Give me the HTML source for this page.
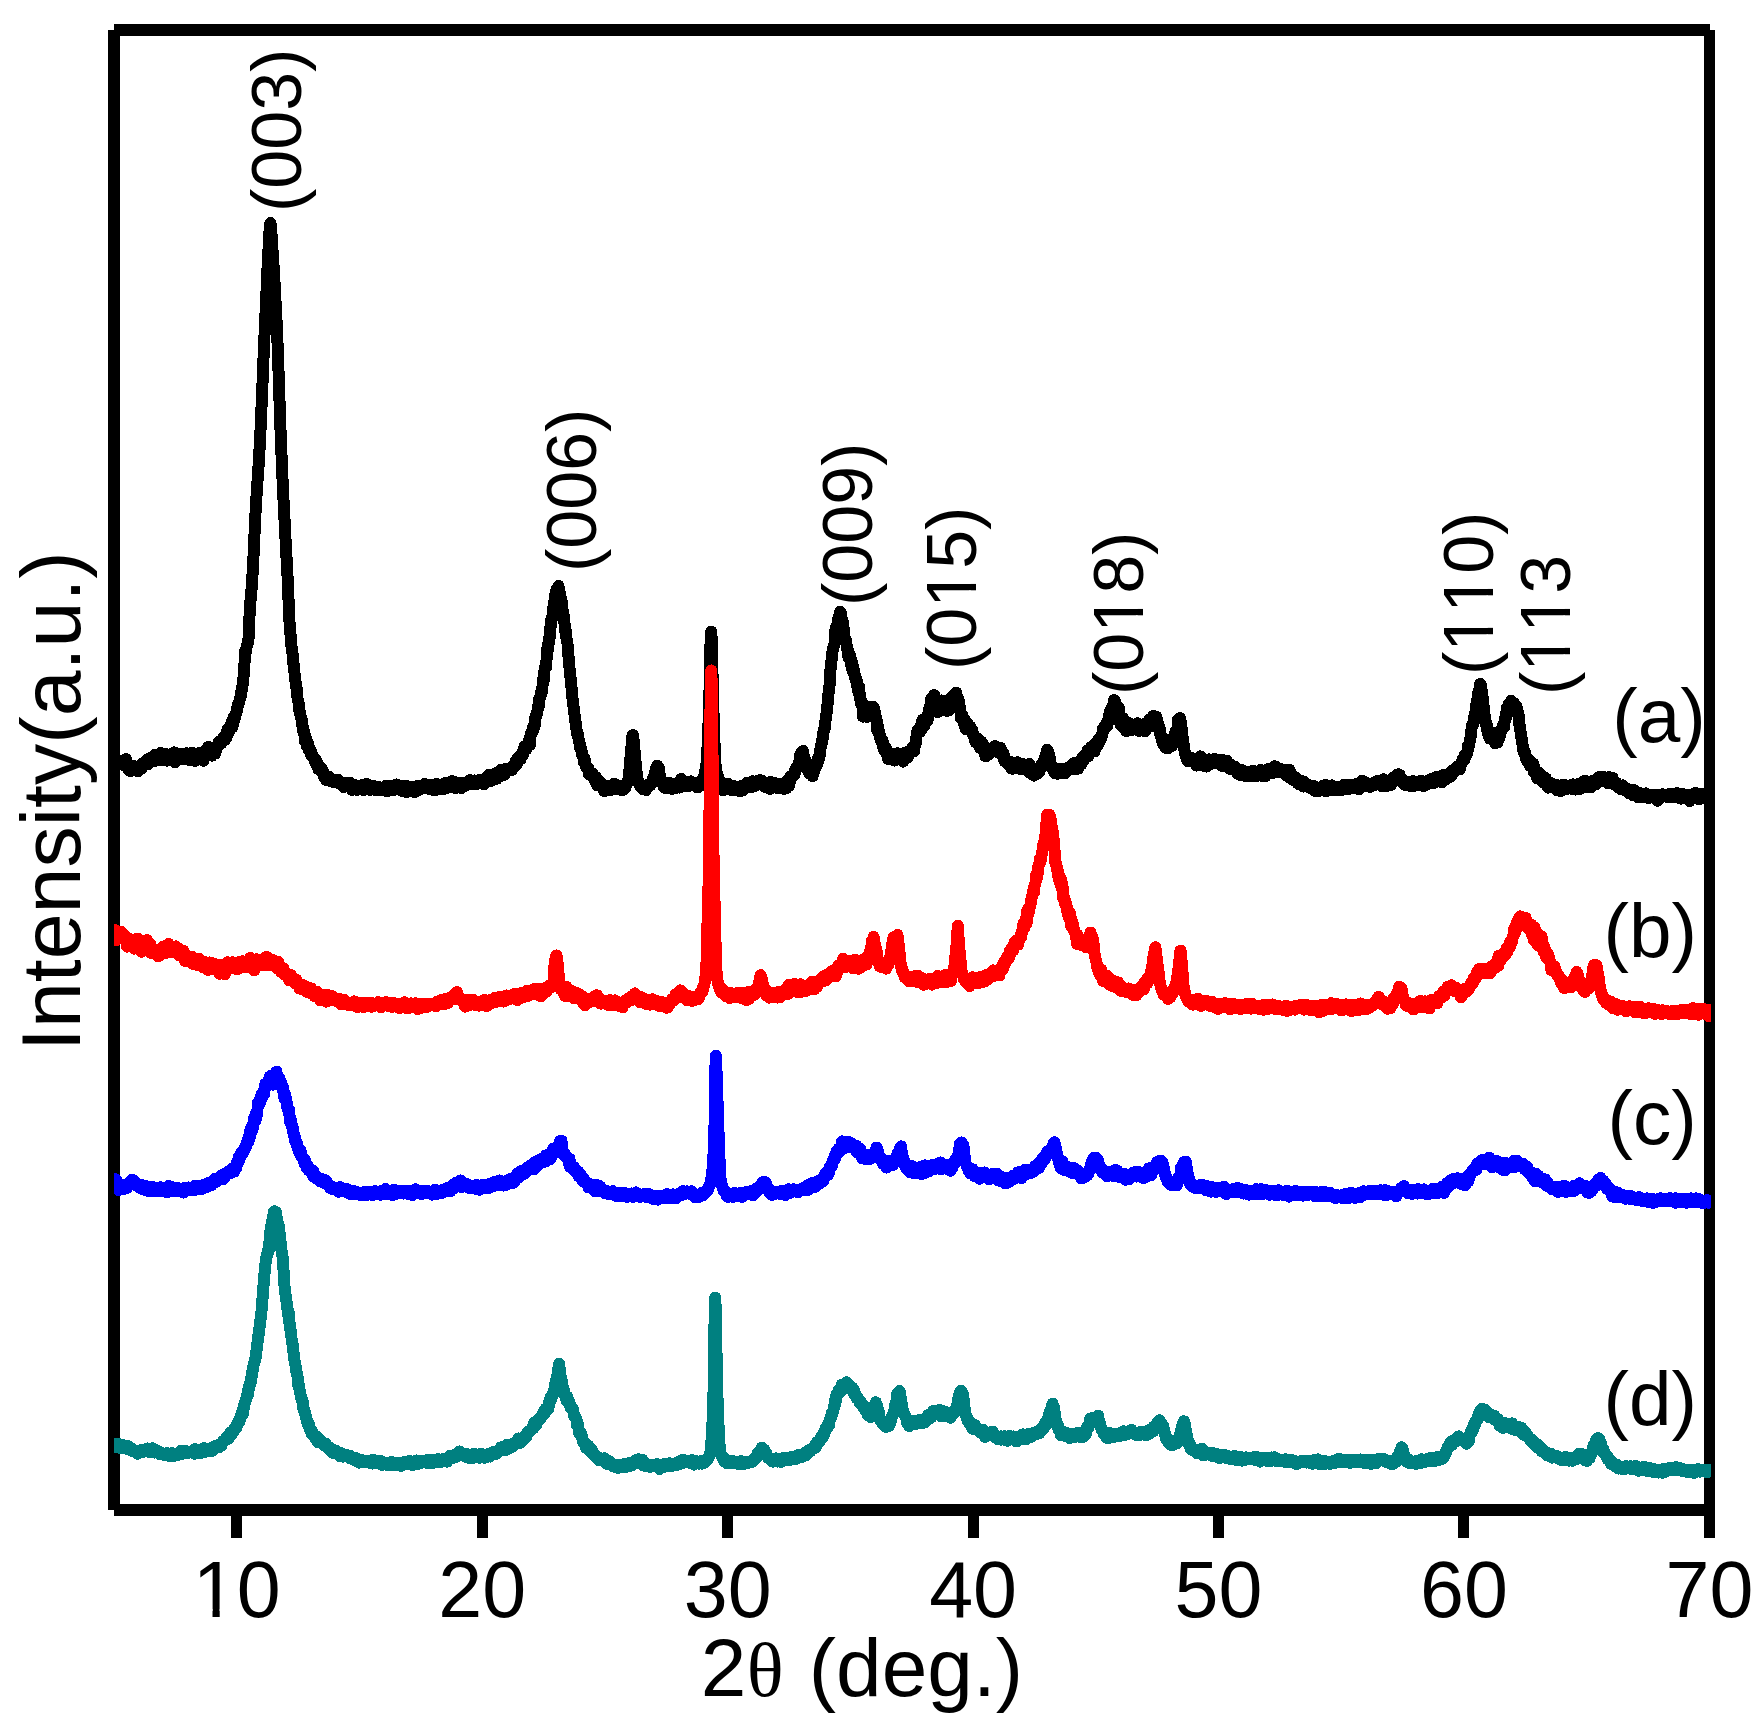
<!DOCTYPE html>
<html><head><meta charset="utf-8"><title>XRD patterns</title>
<style>
html,body{margin:0;padding:0;background:#fff}
body{width:1763px;height:1736px;overflow:hidden}
svg{display:block}
text{font-family:"Liberation Sans",sans-serif;fill:#000;font-kerning:none}
.tk{font-size:79px;text-anchor:middle}
.pk{font-size:70px}
.lb{font-size:76.5px}
.sym{font-family:"Liberation Serif",serif}
</style></head><body>
<svg width="1763" height="1736" viewBox="0 0 1763 1736">
<rect width="1763" height="1736" fill="#fff"/>

<g fill="#000" shape-rendering="crispEdges">
<rect x="108" y="30" width="12" height="1480"/>
<rect x="114" y="24" width="1596" height="12"/>
<rect x="1704" y="30" width="11" height="1480"/>
<rect x="114" y="1504" width="1596" height="12"/>
<rect x="231" y="1510" width="11" height="28"/>
<rect x="477" y="1510" width="11" height="28"/>
<rect x="722" y="1510" width="11" height="28"/>
<rect x="968" y="1510" width="11" height="28"/>
<rect x="1213" y="1510" width="11" height="28"/>
<rect x="1458" y="1510" width="11" height="28"/>
<rect x="1704" y="1510" width="11" height="28"/>
</g>
<defs><clipPath id="plot"><rect x="114" y="36" width="1597" height="1468"/></clipPath></defs>
<defs><polyline id="c0" points="114.0,763.2 114.5,763.9 115.0,762.9 115.5,760.0 116.0,764.5 116.5,763.9 117.0,762.2 117.5,764.1 118.0,763.4 118.5,763.0 119.0,762.4 119.5,763.3 120.0,760.8 120.5,761.8 121.0,761.2 121.5,763.2 122.0,762.3 122.5,761.7 123.0,760.8 123.5,762.0 124.0,762.9 124.5,762.8 125.0,766.1 125.5,765.8 126.0,759.2 126.5,760.8 127.0,764.1 127.5,764.1 128.0,765.8 128.5,766.5 129.0,770.5 129.5,765.1 130.0,766.6 130.5,771.2 131.0,769.2 131.5,769.7 132.0,767.8 132.5,765.6 133.0,768.3 133.5,767.9 134.0,765.8 134.5,767.4 135.0,769.1 135.5,767.9 136.0,769.5 136.5,769.9 137.0,770.1 137.4,769.4 137.5,771.2 138.0,771.3 138.5,769.6 139.0,767.1 139.5,769.3 140.0,767.0 140.5,769.1 141.0,765.3 141.5,768.2 142.0,765.9 142.5,763.3 143.0,764.6 143.5,765.0 144.0,764.9 144.5,762.1 145.0,761.4 145.5,763.6 146.0,762.3 146.5,763.4 147.0,764.1 147.5,759.2 148.0,762.4 148.5,763.9 149.0,760.8 149.5,759.4 150.0,761.9 150.5,760.7 151.0,761.8 151.5,759.5 152.0,757.3 152.5,759.6 153.0,758.4 153.5,760.0 154.0,758.4 154.5,755.0 155.0,756.3 155.5,760.8 156.0,760.6 156.5,757.8 157.0,758.6 157.4,759.1 157.5,759.0 158.0,759.8 158.5,758.7 159.0,758.0 159.5,757.5 160.0,759.7 160.5,753.0 161.0,756.9 161.5,757.5 162.0,755.1 162.5,759.0 163.0,757.2 163.5,759.9 164.0,757.5 164.5,758.6 165.0,759.4 165.5,757.7 166.0,755.5 166.5,754.4 167.0,760.7 167.5,756.9 168.0,755.5 168.5,757.1 169.0,756.7 169.5,759.0 170.0,757.4 170.5,757.1 171.0,755.3 171.5,757.8 172.0,755.2 172.5,758.8 173.0,760.5 173.5,754.3 174.0,752.4 174.5,758.4 174.9,762.3 175.0,755.4 175.5,754.7 176.0,758.1 176.5,755.2 177.0,755.8 177.5,755.9 178.0,757.3 178.5,755.2 179.0,756.2 179.5,755.1 180.0,753.6 180.5,754.6 181.0,753.6 181.5,755.9 182.0,754.0 182.5,754.4 183.0,759.5 183.5,756.6 184.0,756.7 184.5,757.8 185.0,755.7 185.5,755.6 186.0,756.4 186.5,755.8 187.0,753.3 187.5,757.9 188.0,755.9 188.5,755.6 189.0,756.0 189.5,756.7 190.0,760.2 190.5,754.4 191.0,757.1 191.5,752.7 192.0,756.8 192.5,758.4 193.0,756.0 193.5,755.1 194.0,756.9 194.5,758.1 194.8,758.2 195.0,760.9 195.5,757.8 196.0,756.4 196.5,757.4 197.0,757.5 197.5,757.6 198.0,757.0 198.5,757.0 199.0,753.1 199.5,757.7 200.0,755.0 200.5,753.8 201.0,757.4 201.5,758.6 202.0,756.6 202.5,755.7 203.0,753.4 203.5,760.8 204.0,756.6 204.5,752.3 205.0,752.5 205.5,753.8 206.0,750.2 206.5,753.5 207.0,752.2 207.3,755.6 207.5,754.9 208.0,747.0 208.5,752.2 209.0,748.8 209.5,754.2 210.0,752.0 210.5,752.4 211.0,748.9 211.5,755.0 212.0,755.7 212.5,749.4 213.0,752.0 213.5,749.2 214.0,750.1 214.5,747.3 215.0,753.7 215.5,747.6 216.0,748.6 216.5,749.5 217.0,746.0 217.5,745.7 218.0,744.0 218.5,744.2 219.0,741.6 219.5,742.9 219.8,743.2 220.0,742.5 220.5,742.6 221.0,741.2 221.5,743.1 222.0,740.4 222.5,740.4 223.0,738.7 223.5,738.4 224.0,736.5 224.5,740.2 225.0,736.3 225.5,736.6 226.0,738.2 226.5,737.2 227.0,734.3 227.5,729.5 228.0,733.7 228.5,732.3 229.0,727.4 229.5,731.0 229.8,727.0 230.0,725.7 230.5,727.9 231.0,726.6 231.5,726.4 232.0,720.9 232.5,727.0 233.0,720.3 233.5,717.1 234.0,721.0 234.5,717.7 235.0,718.0 235.5,715.0 236.0,713.9 236.5,712.7 237.0,708.6 237.3,710.4 237.5,707.0 238.0,704.2 238.5,704.2 239.0,703.1 239.5,700.3 240.0,697.9 240.5,698.0 241.0,693.0 241.5,691.4 242.0,689.8 242.3,686.1 242.5,686.3 243.0,681.7 243.5,677.4 244.0,669.0 244.5,663.1 245.0,658.5 245.5,649.7 246.0,651.5 246.5,647.2 247.0,645.6 247.5,644.9 248.0,642.4 248.4,639.0 248.5,639.4 249.0,629.6 249.5,616.1 249.7,612.2 250.0,608.0 250.5,600.5 251.0,595.6 251.5,589.6 252.0,582.5 252.2,578.9 252.5,574.7 253.0,565.0 253.5,556.2 254.0,545.0 254.5,534.6 255.0,523.5 255.5,513.5 256.0,503.6 256.5,496.4 257.0,489.6 257.5,481.0 258.0,473.7 258.5,466.6 259.0,458.4 259.3,453.1 259.5,449.8 260.0,439.8 260.5,430.2 261.0,418.3 261.5,407.1 262.0,395.8 262.5,383.1 263.0,372.0 263.5,358.8 264.0,346.7 264.5,335.4 264.9,326.6 265.0,323.6 265.5,313.0 266.0,300.5 266.5,290.9 267.0,279.1 267.5,268.3 268.0,258.4 268.5,250.0 269.0,241.2 269.5,231.8 270.0,225.2 270.5,223.1 271.0,225.8 271.5,234.0 272.0,242.9 272.5,250.2 273.0,258.1 273.5,264.6 274.0,273.9 274.5,282.0 275.0,291.1 275.5,300.9 276.0,309.1 276.5,320.3 276.8,326.2 277.0,331.4 277.5,342.8 278.0,356.4 278.5,370.9 279.0,385.9 279.5,400.7 280.0,415.3 280.5,429.8 281.0,443.8 281.4,453.4 281.5,455.1 282.0,467.7 282.5,478.8 283.0,489.7 283.5,499.6 284.0,510.4 284.5,519.4 285.0,530.1 285.5,538.7 286.0,548.3 286.5,557.4 287.0,565.7 287.5,575.9 287.7,580.0 288.0,587.4 288.5,599.4 289.0,610.7 289.5,622.0 289.7,625.4 290.0,630.2 290.5,634.5 291.0,640.5 291.5,646.2 292.0,649.3 292.5,653.4 293.0,659.4 293.4,663.9 293.5,662.8 294.0,669.0 294.5,672.6 295.0,679.0 295.5,680.7 296.0,686.4 296.5,687.6 297.0,692.6 297.2,694.2 297.5,698.2 298.0,700.8 298.5,702.2 299.0,707.9 299.5,711.4 300.0,712.8 300.5,715.3 301.0,718.0 301.5,718.1 302.0,724.0 302.1,724.9 302.5,725.2 303.0,730.6 303.5,729.2 304.0,733.0 304.5,735.2 305.0,741.6 305.5,736.5 306.0,741.7 306.5,743.8 307.0,744.4 307.1,746.6 307.5,744.0 308.0,743.1 308.5,749.9 309.0,747.1 309.5,749.5 310.0,748.6 310.5,753.8 311.0,754.4 311.5,752.4 312.0,756.5 312.5,756.0 313.0,756.4 313.5,757.7 314.0,758.0 314.5,760.4 314.6,760.0 315.0,759.3 315.5,762.6 316.0,760.4 316.5,762.8 317.0,764.1 317.5,767.1 318.0,764.6 318.5,769.4 319.0,767.2 319.5,767.0 320.0,766.8 320.5,769.8 321.0,769.9 321.5,768.8 322.0,769.4 322.5,771.1 323.0,771.7 323.5,775.5 324.0,776.8 324.5,776.6 324.6,776.0 325.0,775.3 325.5,776.6 326.0,778.3 326.5,780.3 327.0,778.2 327.5,776.3 328.0,777.1 328.5,776.7 329.0,776.5 329.5,777.6 330.0,778.4 330.5,781.2 331.0,778.7 331.5,780.8 332.0,781.5 332.5,779.2 333.0,782.1 333.5,781.5 334.0,780.4 334.5,781.8 335.0,781.5 335.5,781.1 336.0,781.1 336.5,781.6 337.0,782.3 337.1,780.4 337.5,782.0 338.0,779.9 338.5,782.7 339.0,783.4 339.5,782.9 340.0,783.5 340.5,784.3 341.0,782.7 341.5,783.4 342.0,784.2 342.5,784.7 343.0,783.7 343.5,787.0 344.0,783.5 344.5,785.4 345.0,786.0 345.5,784.1 346.0,783.3 346.5,782.8 347.0,784.6 347.5,785.7 348.0,784.4 348.5,784.3 349.0,783.9 349.5,785.8 350.0,782.7 350.5,786.6 351.0,786.7 351.5,785.0 352.0,790.0 352.5,784.9 353.0,785.3 353.5,785.1 354.0,788.4 354.5,785.8 355.0,788.1 355.5,788.0 356.0,787.6 356.5,785.5 357.0,786.6 357.5,789.9 358.0,786.0 358.5,786.6 359.0,787.4 359.5,788.6 360.0,787.7 360.5,788.3 361.0,785.8 361.5,788.6 362.0,788.0 362.5,785.0 363.0,789.3 363.5,790.2 364.0,785.9 364.5,786.9 365.0,788.7 365.5,784.7 366.0,783.9 366.5,784.9 367.0,785.7 367.5,785.5 368.0,787.2 368.5,786.9 369.0,785.1 369.5,787.9 370.0,789.9 370.5,789.0 371.0,788.6 371.5,787.1 372.0,788.3 372.5,785.7 373.0,788.1 373.5,787.3 374.0,789.4 374.5,789.0 375.0,787.3 375.5,789.1 376.0,790.5 376.5,787.1 377.0,787.8 377.5,787.5 378.0,786.6 378.5,789.9 379.0,790.3 379.5,789.6 380.0,788.9 380.5,788.5 381.0,789.0 381.5,787.7 382.0,790.1 382.5,790.2 383.0,789.9 383.5,787.5 384.0,787.8 384.5,787.2 385.0,789.9 385.5,788.0 386.0,785.7 386.5,789.2 387.0,791.5 387.5,790.0 388.0,790.2 388.5,788.9 389.0,786.0 389.5,786.3 390.0,787.2 390.5,788.9 391.0,789.5 391.5,790.0 392.0,788.5 392.5,790.2 393.0,788.5 393.5,787.9 394.0,789.9 394.5,787.5 395.0,785.0 395.5,787.3 396.0,788.8 396.5,784.5 397.0,788.2 397.5,788.4 398.0,787.0 398.5,787.0 399.0,788.2 399.5,787.8 400.0,789.8 400.5,788.4 401.0,785.7 401.5,786.8 402.0,789.2 402.5,790.9 403.0,788.6 403.5,788.1 404.0,789.8 404.5,787.3 405.0,787.3 405.5,786.4 406.0,788.1 406.5,792.0 407.0,787.0 407.5,788.6 408.0,786.4 408.5,788.1 409.0,789.0 409.5,787.6 410.0,789.1 410.5,789.3 411.0,788.9 411.5,790.5 412.0,789.0 412.5,787.4 413.0,786.9 413.5,786.9 414.0,788.9 414.5,788.0 415.0,792.2 415.5,791.1 416.0,788.3 416.5,788.1 417.0,790.7 417.5,785.7 418.0,787.4 418.5,789.1 419.0,786.5 419.5,787.2 420.0,787.4 420.5,788.9 421.0,788.1 421.5,788.2 422.0,788.1 422.5,786.8 423.0,787.9 423.5,785.3 424.0,784.4 424.5,784.1 425.0,784.5 425.5,786.2 426.0,788.5 426.5,787.6 427.0,786.8 427.5,786.3 428.0,787.1 428.5,787.2 429.0,786.9 429.5,785.8 430.0,787.4 430.5,789.5 431.0,784.9 431.5,787.3 432.0,784.5 432.5,787.9 433.0,787.1 433.5,785.6 434.0,788.5 434.5,790.4 435.0,787.6 435.5,788.8 436.0,787.0 436.5,784.0 436.9,787.6 437.0,786.5 437.5,785.4 438.0,788.9 438.5,788.5 439.0,787.1 439.5,788.4 440.0,785.4 440.5,787.2 441.0,785.0 441.5,787.2 442.0,785.2 442.5,788.9 443.0,787.3 443.5,788.9 444.0,785.6 444.5,786.0 445.0,787.9 445.5,782.9 446.0,785.2 446.5,788.1 447.0,787.2 447.5,787.8 448.0,786.0 448.5,787.3 449.0,785.7 449.5,784.8 450.0,784.3 450.5,785.7 451.0,785.5 451.5,785.3 452.0,781.1 452.5,783.1 453.0,784.8 453.5,785.8 454.0,784.5 454.5,784.1 455.0,782.1 455.5,788.2 456.0,783.6 456.5,787.4 457.0,787.2 457.5,785.5 458.0,784.2 458.5,785.1 459.0,783.0 459.5,784.9 460.0,784.8 460.5,786.0 461.0,786.8 461.5,788.0 461.9,784.6 462.0,786.3 462.5,783.3 463.0,783.0 463.5,783.3 464.0,782.6 464.5,785.4 465.0,785.3 465.5,785.7 466.0,783.8 466.5,784.2 467.0,782.8 467.5,781.8 468.0,783.9 468.5,783.4 469.0,781.1 469.5,783.4 470.0,780.0 470.5,782.4 471.0,782.0 471.5,782.3 472.0,781.4 472.5,784.3 473.0,783.4 473.5,784.1 474.0,782.5 474.5,780.5 475.0,781.9 475.5,780.8 476.0,783.2 476.5,784.3 477.0,783.0 477.5,781.6 478.0,781.9 478.5,782.7 479.0,780.0 479.5,782.3 480.0,782.1 480.5,780.8 481.0,780.8 481.5,781.7 482.0,780.3 482.5,780.3 483.0,782.8 483.5,782.0 484.0,784.2 484.5,780.0 485.0,778.3 485.5,782.0 486.0,781.7 486.5,778.9 486.8,777.8 487.0,779.8 487.5,776.7 488.0,778.4 488.5,775.1 489.0,778.1 489.5,775.4 490.0,778.4 490.5,781.1 491.0,777.8 491.5,779.0 492.0,776.3 492.5,775.5 493.0,774.4 493.5,778.2 494.0,776.2 494.5,778.6 495.0,773.8 495.5,775.2 496.0,775.7 496.5,778.0 497.0,778.7 497.5,774.4 498.0,773.1 498.5,771.7 499.0,776.7 499.5,774.6 500.0,773.7 500.5,774.4 501.0,769.7 501.5,770.6 502.0,774.8 502.5,773.7 503.0,773.2 503.5,771.1 504.0,773.4 504.5,774.8 505.0,769.1 505.5,770.9 506.0,769.9 506.5,771.3 507.0,770.7 507.5,770.3 508.0,768.9 508.5,770.3 509.0,769.0 509.5,769.5 510.0,769.3 510.5,770.3 511.0,767.9 511.5,768.1 512.0,770.0 512.5,767.0 513.0,766.2 513.5,767.7 514.0,766.1 514.5,765.3 515.0,764.9 515.5,761.5 516.0,763.9 516.5,764.9 517.0,763.0 517.5,758.5 518.0,761.4 518.5,758.4 519.0,759.0 519.5,759.0 520.0,755.5 520.5,759.3 521.0,755.5 521.5,756.1 522.0,754.9 522.5,755.6 523.0,754.7 523.5,749.1 524.0,751.6 524.5,746.6 525.0,748.9 525.5,749.9 526.0,749.1 526.5,749.0 527.0,745.1 527.5,746.0 528.0,744.7 528.5,745.7 529.0,744.4 529.5,738.2 530.0,744.7 530.5,735.2 531.0,733.0 531.5,733.6 532.0,732.5 532.5,730.6 533.0,726.7 533.5,729.7 534.0,725.2 534.5,726.4 534.9,724.4 535.0,718.3 535.5,716.9 536.0,715.0 536.5,715.5 537.0,713.1 537.5,711.2 538.0,706.4 538.5,706.4 539.0,706.0 539.5,697.9 540.0,698.0 540.5,696.6 541.0,693.2 541.5,690.3 542.0,691.5 542.4,687.9 542.5,686.0 543.0,679.4 543.5,682.4 544.0,675.5 544.5,670.7 545.0,668.5 545.5,665.3 546.0,667.4 546.5,660.1 547.0,656.0 547.5,647.6 548.0,649.9 548.2,644.8 548.5,642.7 549.0,642.7 549.5,635.8 549.8,637.1 550.0,636.2 550.5,626.1 551.0,625.9 551.5,618.8 552.0,618.5 552.5,617.2 553.0,608.8 553.2,615.1 553.5,608.2 554.0,602.8 554.5,602.2 555.0,601.5 555.5,593.5 556.0,594.9 556.5,589.6 557.0,594.6 557.5,590.6 558.0,588.1 558.3,591.3 558.5,586.1 559.0,589.0 559.5,595.8 560.0,593.7 560.5,599.0 561.0,598.8 561.5,600.2 562.0,605.0 562.5,609.8 562.8,610.8 563.0,611.1 563.5,614.6 564.0,616.7 564.5,623.7 565.0,628.0 565.5,632.0 566.0,631.2 566.5,638.8 567.0,641.4 567.5,643.5 567.6,646.9 568.0,651.8 568.5,656.4 569.0,662.0 569.5,667.8 570.0,673.4 570.5,677.8 571.0,680.5 571.5,687.5 572.0,693.7 572.4,696.2 572.5,698.5 573.0,703.0 573.5,706.5 574.0,713.0 574.5,713.6 575.0,720.0 575.5,721.8 576.0,724.8 576.5,729.9 577.0,731.0 577.4,735.0 577.5,732.5 578.0,736.7 578.5,737.9 579.0,741.2 579.5,743.2 580.0,744.1 580.5,749.2 581.0,747.9 581.5,750.0 582.0,754.7 582.5,756.1 583.0,756.9 583.5,757.8 584.0,762.6 584.5,758.3 584.9,760.5 585.0,760.6 585.5,765.3 586.0,765.4 586.5,767.8 587.0,768.5 587.5,767.6 588.0,767.6 588.5,768.4 589.0,774.6 589.5,773.5 590.0,773.9 590.5,773.5 591.0,774.9 591.5,775.7 592.0,776.3 592.5,773.4 593.0,777.3 593.5,777.1 594.0,778.6 594.5,779.1 594.8,780.6 595.0,779.7 595.5,781.7 596.0,777.3 596.5,780.3 597.0,785.2 597.5,781.2 598.0,782.8 598.5,784.4 599.0,782.2 599.5,784.8 600.0,782.2 600.5,782.0 601.0,783.3 601.5,783.3 602.0,786.2 602.5,786.3 603.0,787.7 603.5,786.0 604.0,791.0 604.5,787.2 605.0,787.1 605.5,787.8 606.0,786.9 606.5,786.5 607.0,787.6 607.3,788.7 607.5,788.3 608.0,788.5 608.5,786.3 609.0,786.1 609.5,790.0 610.0,787.2 610.5,788.5 611.0,788.9 611.5,789.8 612.0,785.7 612.5,786.6 613.0,786.5 613.5,786.6 614.0,783.9 614.5,787.5 615.0,784.1 615.5,788.7 616.0,788.9 616.5,788.8 617.0,786.2 617.5,789.4 618.0,787.3 618.5,787.1 619.0,787.6 619.5,787.7 620.0,788.9 620.5,789.8 621.0,785.9 621.5,788.0 622.0,790.0 622.3,789.1 622.5,789.5 623.0,786.7 623.5,789.6 624.0,785.6 624.5,787.2 625.0,787.9 625.5,787.7 626.0,785.5 626.5,784.9 627.0,783.0 627.5,781.9 628.0,781.5 628.3,779.6 628.5,778.5 629.0,773.7 629.5,769.3 630.0,763.8 630.5,757.2 630.6,756.6 631.0,754.1 631.5,746.8 632.0,740.6 632.5,735.7 632.9,735.1 633.0,735.6 633.5,739.6 634.0,742.7 634.5,750.9 635.0,754.4 635.2,756.9 635.5,760.9 636.0,765.8 636.5,771.1 637.0,776.4 637.5,779.8 638.0,780.3 638.5,782.8 639.0,784.1 639.5,784.8 640.0,786.1 640.5,785.5 641.0,786.0 641.5,786.9 642.0,788.0 642.5,786.9 643.0,789.3 643.5,786.1 644.0,789.1 644.5,786.1 645.0,786.9 645.5,787.7 646.0,790.1 646.5,788.4 647.0,786.2 647.5,788.0 648.0,785.4 648.5,784.3 649.0,785.7 649.5,784.9 650.0,785.7 650.5,783.1 651.0,783.7 651.5,783.4 652.0,782.0 652.5,780.4 653.0,778.2 653.5,779.1 654.0,776.6 654.5,775.3 655.0,772.3 655.5,771.2 656.0,767.8 656.5,767.5 657.0,767.0 657.2,765.6 657.5,766.8 658.0,767.2 658.5,770.7 658.9,770.1 659.0,768.7 659.5,773.7 660.0,775.6 660.5,777.2 661.0,781.1 661.5,781.8 662.0,783.0 662.5,782.9 663.0,784.4 663.5,785.2 664.0,787.6 664.5,784.8 665.0,785.7 665.5,786.1 666.0,783.2 666.5,783.3 667.0,788.5 667.5,782.7 668.0,786.1 668.5,784.2 669.0,784.5 669.5,782.8 670.0,784.4 670.5,787.0 671.0,784.1 671.5,787.2 672.0,786.7 672.2,788.8 672.5,784.9 673.0,787.2 673.5,786.7 674.0,785.4 674.5,783.6 675.0,788.2 675.5,783.8 676.0,784.6 676.5,786.1 677.0,786.1 677.5,783.1 678.0,784.4 678.5,784.0 679.0,786.0 679.5,787.6 680.0,780.9 680.5,784.7 681.0,779.0 681.5,783.3 682.0,781.9 682.2,786.7 682.5,784.1 683.0,782.8 683.5,783.5 684.0,783.7 684.5,784.9 685.0,784.1 685.5,785.0 686.0,786.1 686.5,785.1 687.0,782.6 687.5,782.2 688.0,783.5 688.5,786.0 689.0,783.7 689.5,783.0 690.0,783.9 690.5,781.4 691.0,781.9 691.5,784.6 692.0,783.7 692.5,783.7 693.0,785.0 693.5,783.8 694.0,783.8 694.5,784.3 695.0,786.0 695.5,785.1 696.0,783.2 696.5,784.4 697.0,785.7 697.2,787.5 697.5,783.2 698.0,785.4 698.5,784.5 699.0,786.0 699.5,785.1 700.0,785.8 700.5,783.4 701.0,780.9 701.5,780.0 702.0,780.4 702.5,779.6 703.0,780.6 703.5,778.8 704.0,776.0 704.5,775.1 705.0,772.5 705.5,769.9 706.0,767.2 706.3,765.0 706.5,763.1 707.0,756.7 707.5,747.1 708.0,735.8 708.5,723.4 709.0,710.1 709.5,691.1 710.0,666.3 710.5,644.0 711.0,632.0 711.1,631.6 711.5,635.9 712.0,651.8 712.5,673.8 713.0,695.7 713.4,710.0 713.5,713.1 714.0,728.2 714.5,743.3 715.0,756.1 715.5,764.2 715.6,765.3 716.0,768.3 716.5,771.2 717.0,773.4 717.5,775.1 718.0,776.5 718.4,778.2 718.5,778.5 719.0,779.0 719.5,781.3 720.0,780.6 720.5,784.0 721.0,783.9 721.5,784.9 722.0,786.0 722.5,786.6 723.0,790.5 723.4,784.9 723.5,787.1 724.0,788.5 724.5,788.0 725.0,786.7 725.5,789.4 726.0,785.3 726.5,784.8 727.0,787.5 727.5,784.8 728.0,783.6 728.5,788.4 729.0,788.6 729.5,789.0 730.0,787.4 730.5,788.3 731.0,786.5 731.5,790.2 732.0,789.1 732.5,789.3 733.0,785.8 733.5,789.6 734.0,790.5 734.5,790.1 735.0,789.5 735.5,788.4 736.0,788.0 736.5,789.4 737.0,789.2 737.5,789.1 738.0,788.2 738.5,790.8 739.0,787.0 739.5,788.9 739.6,788.5 740.0,790.9 740.5,791.3 741.0,790.5 741.5,789.3 742.0,785.8 742.5,790.3 743.0,788.0 743.5,787.0 744.0,787.0 744.5,786.4 745.0,787.3 745.5,787.1 746.0,786.2 746.5,783.0 747.0,786.3 747.5,786.7 748.0,786.4 748.5,785.1 749.0,785.9 749.5,786.8 750.0,784.7 750.5,787.4 751.0,782.2 751.5,783.0 752.0,783.4 752.5,781.2 753.0,783.3 753.5,786.5 754.0,786.2 754.5,784.0 755.0,786.0 755.5,783.4 756.0,782.1 756.5,783.2 757.0,782.7 757.5,784.0 758.0,780.7 758.5,784.5 759.0,782.1 759.5,783.9 760.0,780.1 760.5,781.7 761.0,782.4 761.5,783.8 762.0,780.7 762.5,785.2 763.0,783.5 763.5,782.2 764.0,785.0 764.5,783.6 765.0,785.4 765.5,787.3 766.0,785.0 766.5,783.1 767.0,783.5 767.5,785.2 768.0,785.2 768.5,783.9 769.0,784.3 769.5,786.3 770.0,788.8 770.5,781.9 771.0,787.1 771.5,785.9 772.0,787.3 772.5,787.4 773.0,786.1 773.5,784.5 774.0,783.8 774.5,783.0 775.0,787.5 775.5,785.7 776.0,785.5 776.5,786.1 777.0,784.8 777.5,787.0 778.0,788.3 778.5,787.9 779.0,784.1 779.5,788.4 780.0,785.6 780.5,784.2 781.0,785.2 781.5,785.5 782.0,786.7 782.5,785.0 783.0,784.1 783.5,785.7 784.0,788.8 784.5,784.9 785.0,786.2 785.5,785.1 786.0,788.5 786.5,781.0 787.0,784.9 787.5,780.6 788.0,781.1 788.5,781.3 789.0,785.8 789.5,779.1 790.0,776.7 790.5,780.9 791.0,777.0 791.5,777.3 792.0,777.0 792.5,776.6 793.0,775.7 793.5,775.7 794.0,774.9 794.5,774.5 795.0,771.0 795.5,769.2 796.0,767.8 796.5,769.4 797.0,767.7 797.5,767.6 798.0,766.3 798.5,766.4 799.0,762.3 799.5,761.2 800.0,755.9 800.5,754.3 801.0,754.5 801.5,752.4 802.0,754.8 802.2,751.5 802.5,753.9 803.0,750.9 803.5,754.3 804.0,756.9 804.5,759.1 805.0,759.1 805.5,764.2 806.0,767.2 806.5,768.1 807.0,767.8 807.5,769.1 808.0,769.0 808.5,771.8 809.0,773.2 809.5,770.2 810.0,768.4 810.5,771.9 811.0,773.2 811.5,767.9 812.0,773.0 812.5,776.2 813.0,773.1 813.5,771.7 814.0,770.5 814.5,770.8 815.0,766.8 815.5,766.1 816.0,767.1 816.5,764.2 817.0,764.4 817.5,759.5 818.0,761.9 818.5,760.1 819.0,756.9 819.4,755.4 819.5,756.9 820.0,750.5 820.5,748.3 821.0,745.6 821.5,744.2 822.0,740.9 822.5,739.8 823.0,736.0 823.5,731.9 824.0,728.8 824.5,729.5 825.0,724.2 825.5,720.3 826.0,716.9 826.5,713.0 826.9,711.0 827.0,710.0 827.5,704.4 828.0,699.3 828.5,693.6 829.0,687.8 829.5,685.6 830.0,676.9 830.5,669.9 831.0,666.0 831.5,660.6 832.0,657.2 832.5,651.0 833.0,649.5 833.2,648.1 833.5,647.6 834.0,645.8 834.5,643.7 835.0,637.8 835.5,629.2 836.0,627.2 836.5,626.0 837.0,628.5 837.5,623.1 838.0,622.5 838.5,617.0 839.0,617.1 839.5,615.8 840.0,611.9 840.5,614.5 840.7,615.5 841.0,613.4 841.5,617.6 842.0,621.3 842.5,620.9 843.0,624.4 843.5,627.9 844.0,631.3 844.5,636.6 845.0,638.5 845.5,641.0 845.6,640.2 846.0,640.5 846.5,644.2 847.0,649.2 847.5,648.1 848.0,650.6 848.5,657.8 849.0,657.7 849.5,654.0 850.0,658.8 850.5,656.7 851.0,664.9 851.5,660.5 851.9,664.2 852.0,668.4 852.5,664.2 853.0,672.1 853.5,668.3 854.0,673.4 854.5,674.0 855.0,676.6 855.5,679.1 856.0,680.1 856.5,679.2 857.0,685.9 857.5,687.4 858.0,690.4 858.5,692.0 859.0,687.0 859.4,694.7 859.5,695.5 860.0,694.0 860.5,700.4 861.0,703.8 861.5,701.6 862.0,702.4 862.5,707.4 863.0,716.7 863.5,713.0 864.0,711.1 864.5,713.9 865.0,712.8 865.5,714.3 865.6,715.2 866.0,708.9 866.5,715.0 867.0,716.9 867.5,712.2 868.0,711.0 868.5,714.4 869.0,707.8 869.5,707.4 870.0,706.5 870.5,708.9 871.0,709.3 871.5,707.6 872.0,709.1 872.5,709.9 873.0,709.5 873.1,706.9 873.5,708.2 874.0,712.4 874.5,709.8 875.0,713.7 875.5,715.8 876.0,718.7 876.5,719.5 877.0,721.6 877.5,731.2 878.0,730.1 878.1,727.1 878.5,729.5 879.0,732.8 879.5,733.4 880.0,737.6 880.5,737.6 881.0,739.8 881.5,741.9 882.0,742.7 882.5,740.5 883.0,746.7 883.5,748.4 884.0,749.8 884.5,748.1 885.0,751.5 885.5,752.1 885.6,748.5 886.0,748.1 886.5,753.9 887.0,751.8 887.5,756.2 888.0,758.8 888.5,753.4 889.0,753.3 889.5,754.9 890.0,756.6 890.5,753.2 891.0,758.2 891.5,757.9 892.0,757.6 892.5,755.4 893.0,758.4 893.5,758.2 894.0,754.0 894.3,760.6 894.5,755.8 895.0,757.3 895.5,755.6 896.0,757.4 896.5,758.9 897.0,754.9 897.5,753.2 898.0,755.7 898.5,753.8 899.0,754.8 899.5,756.1 900.0,756.5 900.5,759.7 901.0,755.3 901.5,758.0 902.0,755.9 902.5,759.3 903.0,761.6 903.5,757.2 904.0,759.8 904.5,755.2 905.0,752.7 905.5,753.1 906.0,752.4 906.5,753.5 907.0,754.8 907.5,757.5 908.0,756.6 908.5,755.9 909.0,753.5 909.5,752.1 910.0,752.7 910.5,752.2 911.0,752.0 911.5,752.0 912.0,750.9 912.5,747.6 913.0,748.4 913.5,748.0 914.0,751.2 914.5,745.8 915.0,745.8 915.5,745.0 916.0,740.3 916.5,736.3 917.0,733.8 917.5,730.1 918.0,731.1 918.5,731.8 918.7,730.8 919.0,731.0 919.5,730.1 920.0,732.0 920.5,725.8 921.0,727.2 921.5,728.1 922.0,728.9 922.5,719.7 923.0,724.3 923.5,725.0 924.0,722.7 924.5,725.8 925.0,723.4 925.5,721.6 926.0,719.1 926.5,719.2 927.0,719.3 927.5,721.0 928.0,716.5 928.5,712.3 929.0,709.8 929.5,707.6 930.0,708.2 930.5,706.9 931.0,699.3 931.2,701.3 931.5,701.7 932.0,701.2 932.5,698.8 933.0,696.6 933.5,698.4 934.0,695.1 934.5,702.2 935.0,705.4 935.5,699.5 936.0,705.9 936.5,707.7 937.0,711.2 937.4,712.2 937.5,710.8 938.0,706.2 938.5,706.3 939.0,709.8 939.5,704.2 940.0,705.3 940.5,709.2 941.0,705.0 941.5,700.5 942.0,703.1 942.5,705.5 943.0,703.9 943.5,708.7 944.0,710.5 944.5,706.5 945.0,707.4 945.5,708.5 946.0,705.9 946.2,710.3 946.5,709.1 947.0,711.0 947.5,706.4 948.0,704.4 948.5,710.3 949.0,702.3 949.5,701.9 950.0,700.0 950.5,699.9 951.0,697.5 951.2,699.8 951.5,698.0 952.0,698.3 952.5,699.8 953.0,700.1 953.5,698.8 954.0,694.8 954.5,697.4 955.0,696.0 955.5,696.1 956.0,692.5 956.2,698.0 956.5,696.7 957.0,701.8 957.5,700.7 958.0,698.2 958.5,699.1 959.0,706.5 959.5,704.7 960.0,710.9 960.5,711.3 961.0,718.2 961.1,714.4 961.5,718.0 962.0,718.5 962.5,715.8 963.0,717.2 963.5,722.5 964.0,720.4 964.5,719.2 965.0,724.8 965.5,728.9 966.0,723.4 966.5,727.7 967.0,724.5 967.4,728.2 967.5,723.8 968.0,727.9 968.5,726.5 969.0,725.6 969.5,727.6 970.0,727.0 970.5,726.8 971.0,728.1 971.5,731.5 972.0,729.8 972.5,733.8 973.0,734.8 973.5,735.8 974.0,734.9 974.5,737.6 975.0,738.4 975.5,742.2 976.0,737.8 976.5,739.1 977.0,739.7 977.4,740.0 977.5,738.4 978.0,738.9 978.5,743.0 979.0,740.0 979.5,744.4 980.0,747.9 980.5,747.5 981.0,741.7 981.5,747.9 982.0,747.7 982.5,748.2 983.0,744.2 983.5,750.0 984.0,747.0 984.5,752.7 985.0,752.8 985.5,756.3 986.0,750.6 986.5,748.4 987.0,753.8 987.3,753.4 987.5,750.9 988.0,754.9 988.5,754.1 989.0,750.2 989.5,752.4 990.0,752.1 990.5,752.4 991.0,752.3 991.5,749.8 992.0,750.4 992.5,751.8 993.0,750.1 993.5,749.4 994.0,749.1 994.5,749.6 995.0,746.2 995.5,751.2 996.0,748.8 996.5,751.1 997.0,747.4 997.5,752.3 998.0,750.9 998.5,747.6 999.0,750.9 999.5,748.5 999.8,753.4 1000.0,750.5 1000.5,748.0 1001.0,750.8 1001.5,751.3 1002.0,754.9 1002.5,754.3 1003.0,755.6 1003.5,753.2 1004.0,757.8 1004.5,761.2 1005.0,759.5 1005.5,759.6 1006.0,761.4 1006.5,760.3 1007.0,763.1 1007.5,761.2 1008.0,763.9 1008.5,763.6 1009.0,763.1 1009.5,765.7 1009.8,761.6 1010.0,764.2 1010.5,762.0 1011.0,768.1 1011.5,768.5 1012.0,766.5 1012.5,768.7 1013.0,766.5 1013.5,766.6 1014.0,765.0 1014.5,764.3 1015.0,766.4 1015.5,765.4 1016.0,765.7 1016.5,767.7 1017.0,765.4 1017.5,762.2 1018.0,764.5 1018.5,763.6 1019.0,764.7 1019.5,763.3 1020.0,767.7 1020.5,769.3 1021.0,763.9 1021.5,767.2 1022.0,767.1 1022.3,763.9 1022.5,766.0 1023.0,768.6 1023.5,767.6 1024.0,769.2 1024.5,764.4 1025.0,765.8 1025.5,768.4 1026.0,769.0 1026.5,768.6 1027.0,767.9 1027.5,767.8 1028.0,767.3 1028.5,769.4 1029.0,764.0 1029.5,772.7 1030.0,769.6 1030.5,768.4 1031.0,772.0 1031.5,768.4 1032.0,771.8 1032.5,771.0 1033.0,773.6 1033.5,774.6 1034.0,775.7 1034.5,772.3 1034.8,772.1 1035.0,772.2 1035.5,769.3 1036.0,772.5 1036.5,771.5 1037.0,768.8 1037.5,773.1 1038.0,773.2 1038.5,768.0 1039.0,770.7 1039.5,771.3 1040.0,770.0 1040.5,766.3 1041.0,764.9 1041.5,765.9 1042.0,764.1 1042.5,763.8 1043.0,762.9 1043.5,763.3 1044.0,760.7 1044.5,759.8 1045.0,762.9 1045.5,755.3 1045.8,755.7 1046.0,754.6 1046.5,752.9 1047.0,749.8 1047.5,751.6 1048.0,751.3 1048.5,754.0 1049.0,757.5 1049.2,755.4 1049.5,757.6 1050.0,758.1 1050.5,762.8 1051.0,766.8 1051.5,765.9 1052.0,766.4 1052.5,768.6 1053.0,768.9 1053.5,769.3 1054.0,769.3 1054.5,773.0 1055.0,768.6 1055.5,769.6 1056.0,769.6 1056.5,773.0 1057.0,770.7 1057.5,773.8 1058.0,771.8 1058.5,771.4 1059.0,768.8 1059.5,773.5 1059.7,772.4 1060.0,772.2 1060.5,771.3 1061.0,770.6 1061.5,769.0 1062.0,773.2 1062.5,772.3 1063.0,771.3 1063.5,770.7 1064.0,771.5 1064.5,770.6 1065.0,773.4 1065.5,771.8 1066.0,769.3 1066.5,768.3 1067.0,769.8 1067.5,768.2 1068.0,769.4 1068.5,769.4 1069.0,769.3 1069.5,768.5 1070.0,767.1 1070.5,768.5 1071.0,765.8 1071.5,767.2 1072.0,768.7 1072.2,767.8 1072.5,764.7 1073.0,764.5 1073.5,763.3 1074.0,769.5 1074.5,763.1 1075.0,765.6 1075.5,769.0 1076.0,767.1 1076.5,767.0 1077.0,763.0 1077.5,764.7 1078.0,768.6 1078.5,762.2 1079.0,762.7 1079.5,761.2 1080.0,761.8 1080.5,762.6 1081.0,764.5 1081.5,759.7 1082.0,757.8 1082.5,759.6 1083.0,759.0 1083.5,760.5 1084.0,758.5 1084.5,755.3 1084.7,757.5 1085.0,758.2 1085.5,755.9 1086.0,754.2 1086.5,755.9 1087.0,753.6 1087.5,750.2 1088.0,756.5 1088.5,750.7 1089.0,752.4 1089.5,752.1 1090.0,751.5 1090.5,750.5 1091.0,747.0 1091.5,750.1 1092.0,748.4 1092.5,748.2 1093.0,750.3 1093.5,750.3 1094.0,750.6 1094.5,751.4 1094.7,748.4 1095.0,743.8 1095.5,746.9 1096.0,745.6 1096.5,744.9 1097.0,742.8 1097.5,741.7 1098.0,744.7 1098.5,744.3 1099.0,738.7 1099.5,741.2 1100.0,738.6 1100.5,737.2 1101.0,738.7 1101.5,736.1 1102.0,734.0 1102.5,734.3 1103.0,728.5 1103.5,730.4 1104.0,729.4 1104.5,725.9 1104.6,729.1 1105.0,728.5 1105.5,725.7 1106.0,725.9 1106.5,726.9 1107.0,726.6 1107.5,720.8 1108.0,721.7 1108.5,721.4 1109.0,716.9 1109.5,713.3 1110.0,711.8 1110.5,711.7 1111.0,709.1 1111.5,715.3 1112.0,708.1 1112.3,709.6 1112.5,708.5 1113.0,707.9 1113.5,703.7 1114.0,700.0 1114.5,706.1 1114.9,701.5 1115.0,701.7 1115.5,702.3 1116.0,706.2 1116.5,706.8 1117.0,709.4 1117.4,709.2 1117.5,707.1 1118.0,708.4 1118.5,708.2 1119.0,708.2 1119.5,714.8 1120.0,715.1 1120.5,724.9 1121.0,723.4 1121.5,723.2 1122.0,719.9 1122.5,726.5 1123.0,718.4 1123.5,720.0 1124.0,721.5 1124.5,721.7 1125.0,725.2 1125.5,726.2 1126.0,731.1 1126.5,728.9 1127.0,729.4 1127.5,727.3 1128.0,725.9 1128.5,724.7 1129.0,722.8 1129.5,724.6 1130.0,726.3 1130.5,729.7 1131.0,724.5 1131.5,725.7 1132.0,729.8 1132.1,726.6 1132.5,729.7 1133.0,727.5 1133.5,726.4 1134.0,724.7 1134.5,727.6 1135.0,725.8 1135.5,725.8 1136.0,725.5 1136.5,727.5 1137.0,727.6 1137.5,723.3 1138.0,727.5 1138.5,729.2 1139.0,730.9 1139.5,730.1 1140.0,728.3 1140.5,724.5 1141.0,725.3 1141.5,729.6 1142.0,725.7 1142.5,729.9 1143.0,730.3 1143.5,724.3 1144.0,727.9 1144.5,726.3 1145.0,731.4 1145.5,728.4 1145.8,725.2 1146.0,727.7 1146.5,724.4 1147.0,725.9 1147.5,726.2 1148.0,725.5 1148.5,725.4 1149.0,722.2 1149.5,719.5 1150.0,722.2 1150.5,720.3 1151.0,720.0 1151.5,726.2 1152.0,723.6 1152.5,720.0 1153.0,716.1 1153.5,715.7 1154.0,719.3 1154.2,721.0 1154.5,718.0 1155.0,719.4 1155.5,720.2 1156.0,722.5 1156.5,717.1 1156.7,721.8 1157.0,722.9 1157.5,725.2 1158.0,725.6 1158.5,724.3 1159.0,727.4 1159.5,727.6 1160.0,733.0 1160.5,735.0 1161.0,737.2 1161.5,735.8 1162.0,736.6 1162.5,742.7 1163.0,741.1 1163.5,745.1 1164.0,743.0 1164.5,739.9 1165.0,745.8 1165.5,747.8 1166.0,745.0 1166.5,742.4 1167.0,748.5 1167.5,747.1 1168.0,748.3 1168.3,741.8 1168.5,748.0 1169.0,740.4 1169.5,743.5 1170.0,746.4 1170.5,740.3 1171.0,739.8 1171.5,742.3 1172.0,746.0 1172.5,745.1 1173.0,739.2 1173.5,740.6 1174.0,737.9 1174.5,735.7 1175.0,734.8 1175.5,731.5 1176.0,733.4 1176.5,732.1 1177.0,733.8 1177.5,728.2 1178.0,719.7 1178.5,721.3 1179.0,722.8 1179.5,720.9 1179.9,718.1 1180.0,720.1 1180.5,720.7 1181.0,722.9 1181.3,724.2 1181.5,726.8 1182.0,732.3 1182.5,737.0 1183.0,739.6 1183.5,743.4 1184.0,747.1 1184.5,750.9 1185.0,753.1 1185.5,754.8 1186.0,755.4 1186.5,758.4 1187.0,759.5 1187.5,760.5 1188.0,759.8 1188.5,761.4 1189.0,759.5 1189.5,759.4 1190.0,759.9 1190.5,761.4 1191.0,759.6 1191.5,757.8 1192.0,760.6 1192.5,761.7 1193.0,761.2 1193.5,759.5 1194.0,760.9 1194.5,760.3 1195.0,761.0 1195.5,761.8 1196.0,763.6 1196.5,765.6 1197.0,765.0 1197.5,763.1 1198.0,761.1 1198.5,761.4 1199.0,761.5 1199.5,764.3 1200.0,756.4 1200.5,762.2 1201.0,757.8 1201.5,761.9 1202.0,764.9 1202.5,761.0 1203.0,758.6 1203.5,765.6 1204.0,765.8 1204.5,763.6 1205.0,765.0 1205.5,761.1 1206.0,765.3 1206.5,766.5 1207.0,764.3 1207.5,763.1 1208.0,764.3 1208.5,763.4 1209.0,759.4 1209.5,763.5 1210.0,762.4 1210.5,761.5 1211.0,763.8 1211.5,763.1 1212.0,762.7 1212.5,760.1 1213.0,762.7 1213.5,759.2 1214.0,761.7 1214.5,759.0 1215.0,758.9 1215.5,762.7 1216.0,761.2 1216.5,761.4 1217.0,762.4 1217.5,762.1 1218.0,759.9 1218.5,762.0 1219.0,761.8 1219.5,760.8 1220.0,761.4 1220.5,760.6 1221.0,759.9 1221.5,760.6 1221.9,762.0 1222.0,766.0 1222.5,760.8 1223.0,763.9 1223.5,760.2 1224.0,766.0 1224.5,762.1 1225.0,763.0 1225.5,765.3 1226.0,765.0 1226.5,760.6 1227.0,765.0 1227.5,763.9 1228.0,766.0 1228.5,765.7 1229.0,767.2 1229.5,766.8 1230.0,766.4 1230.5,769.3 1231.0,764.6 1231.5,767.0 1232.0,766.4 1232.5,768.3 1233.0,768.2 1233.5,769.1 1234.0,768.7 1234.4,768.9 1234.5,766.8 1235.0,770.1 1235.5,771.0 1236.0,769.4 1236.5,769.4 1237.0,769.5 1237.5,773.8 1238.0,771.3 1238.5,771.8 1239.0,770.6 1239.5,770.4 1240.0,770.2 1240.5,775.2 1241.0,769.9 1241.5,773.6 1242.0,773.1 1242.5,772.6 1243.0,770.4 1243.5,771.2 1244.0,775.5 1244.5,773.0 1245.0,776.0 1245.5,775.9 1246.0,775.7 1246.5,776.1 1247.0,772.8 1247.5,774.0 1248.0,775.6 1248.5,771.7 1249.0,776.4 1249.4,772.4 1249.5,773.4 1250.0,772.0 1250.5,774.7 1251.0,773.0 1251.5,773.9 1252.0,772.3 1252.5,776.0 1253.0,770.6 1253.5,773.8 1254.0,773.4 1254.5,774.0 1255.0,772.0 1255.5,776.2 1256.0,776.4 1256.5,775.1 1257.0,775.2 1257.5,774.2 1258.0,775.5 1258.5,773.0 1259.0,775.5 1259.5,775.3 1260.0,772.0 1260.5,769.9 1261.0,774.1 1261.5,773.9 1262.0,776.1 1262.5,774.2 1263.0,773.6 1263.5,772.5 1264.0,774.9 1264.4,773.8 1264.5,772.6 1265.0,774.1 1265.5,776.1 1266.0,774.4 1266.5,771.9 1267.0,773.5 1267.5,770.4 1268.0,769.2 1268.5,772.7 1269.0,770.7 1269.5,773.5 1270.0,771.7 1270.5,769.5 1271.0,771.4 1271.5,773.4 1272.0,770.6 1272.5,768.8 1273.0,769.2 1273.5,768.5 1274.0,767.4 1274.5,766.4 1275.0,768.7 1275.5,769.5 1275.6,766.8 1276.0,769.3 1276.5,770.0 1277.0,771.9 1277.5,768.7 1278.0,768.8 1278.5,770.5 1279.0,770.0 1279.5,770.4 1280.0,772.3 1280.5,769.4 1281.0,771.1 1281.5,769.4 1282.0,771.2 1282.5,770.4 1283.0,770.4 1283.5,771.4 1284.0,771.0 1284.5,772.6 1285.0,773.8 1285.5,770.2 1286.0,775.2 1286.5,770.0 1287.0,774.9 1287.5,776.3 1288.0,774.5 1288.5,775.5 1289.0,774.7 1289.3,777.3 1289.5,770.0 1290.0,773.8 1290.5,772.3 1291.0,776.4 1291.5,778.9 1292.0,779.2 1292.5,778.6 1293.0,778.1 1293.5,776.6 1294.0,780.4 1294.5,779.9 1295.0,777.9 1295.5,777.4 1296.0,778.5 1296.5,781.4 1297.0,782.1 1297.5,783.3 1298.0,780.1 1298.5,781.3 1299.0,784.5 1299.5,783.0 1300.0,784.1 1300.5,781.0 1301.0,782.6 1301.5,783.2 1302.0,782.9 1302.5,783.0 1303.0,781.4 1303.5,786.6 1304.0,784.6 1304.3,782.4 1304.5,786.5 1305.0,785.1 1305.5,786.2 1306.0,784.9 1306.5,784.0 1307.0,784.2 1307.5,786.0 1308.0,786.7 1308.5,786.3 1309.0,786.6 1309.5,787.6 1310.0,786.6 1310.5,788.0 1311.0,788.5 1311.5,787.6 1312.0,787.3 1312.5,787.0 1313.0,786.0 1313.5,785.8 1314.0,790.4 1314.5,788.7 1315.0,788.1 1315.5,791.1 1316.0,790.0 1316.5,788.4 1317.0,789.7 1317.5,787.9 1318.0,788.9 1318.5,791.3 1319.0,790.4 1319.5,788.5 1320.0,789.9 1320.5,790.4 1321.0,788.2 1321.5,787.4 1322.0,790.4 1322.5,787.1 1323.0,785.5 1323.5,787.5 1324.0,790.6 1324.5,788.3 1325.0,789.0 1325.5,785.0 1326.0,787.9 1326.5,790.8 1327.0,788.6 1327.5,790.9 1328.0,789.1 1328.5,788.6 1329.0,790.2 1329.5,787.1 1330.0,787.4 1330.5,788.3 1331.0,788.4 1331.5,785.4 1332.0,789.4 1332.5,787.9 1333.0,787.6 1333.5,789.1 1334.0,787.9 1334.5,790.3 1335.0,788.5 1335.5,789.2 1336.0,786.8 1336.5,787.7 1337.0,788.7 1337.5,786.9 1338.0,787.6 1338.5,788.6 1339.0,790.2 1339.5,789.6 1340.0,789.5 1340.5,788.4 1341.0,789.2 1341.5,790.1 1342.0,788.0 1342.5,788.3 1343.0,788.5 1343.5,784.9 1344.0,787.9 1344.5,788.7 1345.0,789.1 1345.5,787.2 1346.0,788.8 1346.5,786.2 1347.0,786.8 1347.5,789.4 1348.0,784.8 1348.5,786.6 1349.0,786.5 1349.5,786.8 1349.9,786.3 1350.0,788.1 1350.5,785.6 1351.0,785.1 1351.5,787.9 1352.0,785.7 1352.5,788.3 1353.0,787.8 1353.5,786.6 1354.0,786.9 1354.5,787.0 1355.0,787.7 1355.5,785.9 1356.0,786.3 1356.5,784.2 1357.0,785.8 1357.5,783.5 1358.0,786.4 1358.5,785.9 1359.0,789.5 1359.5,787.8 1360.0,785.1 1360.5,786.3 1361.0,785.1 1361.5,782.9 1362.0,780.9 1362.5,786.1 1363.0,785.0 1363.5,781.4 1364.0,785.5 1364.5,786.1 1365.0,783.9 1365.5,786.3 1366.0,782.5 1366.5,784.6 1367.0,784.8 1367.5,785.9 1368.0,785.4 1368.5,785.3 1369.0,785.9 1369.5,784.0 1370.0,787.0 1370.5,783.9 1371.0,785.5 1371.5,784.0 1372.0,783.4 1372.5,784.5 1373.0,784.2 1373.5,785.5 1374.0,785.0 1374.5,782.4 1374.9,783.9 1375.0,783.3 1375.5,781.9 1376.0,781.4 1376.5,783.4 1377.0,782.1 1377.5,780.7 1378.0,782.8 1378.5,783.2 1379.0,782.9 1379.5,780.6 1380.0,781.3 1380.5,784.3 1381.0,781.1 1381.5,782.0 1382.0,786.4 1382.5,783.3 1383.0,781.8 1383.5,779.3 1384.0,782.6 1384.5,779.8 1385.0,782.2 1385.5,781.2 1386.0,780.4 1386.5,786.2 1387.0,783.7 1387.5,785.1 1388.0,784.4 1388.5,781.5 1389.0,782.3 1389.5,781.3 1389.8,783.4 1390.0,782.8 1390.5,781.6 1391.0,784.9 1391.5,782.9 1392.0,782.4 1392.5,779.9 1393.0,781.2 1393.5,777.4 1394.0,779.8 1394.5,776.9 1395.0,778.2 1395.5,776.9 1396.0,777.3 1396.5,777.4 1397.0,777.0 1397.3,777.4 1397.5,775.1 1398.0,774.3 1398.5,779.3 1399.0,778.0 1399.5,774.9 1400.0,780.9 1400.5,777.2 1401.0,779.9 1401.5,780.5 1402.0,780.8 1402.5,782.3 1403.0,780.1 1403.5,782.9 1404.0,783.4 1404.5,784.5 1404.8,784.2 1405.0,783.6 1405.5,783.3 1406.0,785.5 1406.5,782.6 1407.0,784.1 1407.5,783.8 1408.0,783.0 1408.5,783.8 1409.0,783.9 1409.5,782.2 1410.0,783.5 1410.5,786.0 1411.0,781.6 1411.5,782.9 1412.0,782.3 1412.5,786.5 1413.0,781.2 1413.5,783.4 1414.0,784.9 1414.5,782.3 1415.0,783.6 1415.5,782.8 1416.0,781.9 1416.5,783.8 1417.0,784.6 1417.5,783.2 1418.0,784.0 1418.5,784.8 1419.0,785.5 1419.5,781.8 1420.0,784.7 1420.5,782.8 1421.0,780.8 1421.5,782.6 1422.0,785.0 1422.5,784.5 1423.0,782.2 1423.5,786.2 1424.0,784.0 1424.5,782.9 1424.8,782.0 1425.0,783.5 1425.5,782.2 1426.0,784.8 1426.5,783.7 1427.0,784.3 1427.5,782.8 1428.0,780.8 1428.5,783.6 1429.0,780.7 1429.5,781.8 1430.0,781.9 1430.5,780.6 1431.0,783.0 1431.5,778.8 1432.0,783.0 1432.5,779.5 1433.0,782.2 1433.5,783.1 1434.0,780.0 1434.5,780.2 1435.0,782.6 1435.5,781.1 1436.0,780.5 1436.5,777.1 1437.0,777.1 1437.5,780.3 1438.0,781.5 1438.5,777.8 1439.0,777.5 1439.5,779.3 1440.0,779.8 1440.5,780.1 1441.0,778.8 1441.5,776.5 1442.0,782.2 1442.5,778.6 1443.0,780.9 1443.5,774.9 1444.0,778.5 1444.5,776.9 1444.7,776.0 1445.0,779.4 1445.5,779.8 1446.0,776.3 1446.5,778.2 1447.0,775.0 1447.5,775.5 1448.0,776.0 1448.5,775.5 1449.0,776.9 1449.5,773.4 1450.0,776.9 1450.5,776.8 1451.0,774.8 1451.5,773.1 1452.0,770.7 1452.5,774.1 1453.0,772.0 1453.5,772.5 1454.0,769.7 1454.5,771.1 1455.0,770.7 1455.5,770.3 1456.0,770.1 1456.5,769.4 1457.0,770.0 1457.5,766.6 1458.0,769.2 1458.5,768.0 1459.0,766.7 1459.5,765.1 1459.7,769.4 1460.0,766.8 1460.5,764.7 1461.0,765.0 1461.5,763.9 1462.0,762.1 1462.5,759.7 1463.0,761.7 1463.5,760.3 1464.0,759.0 1464.5,760.0 1465.0,754.6 1465.5,754.1 1466.0,755.1 1466.5,755.1 1467.0,753.4 1467.5,751.9 1468.0,745.7 1468.5,747.5 1469.0,745.4 1469.2,745.2 1469.5,741.9 1470.0,740.7 1470.5,737.7 1471.0,734.8 1471.5,729.4 1471.8,725.4 1472.0,727.0 1472.5,725.9 1473.0,723.7 1473.5,724.1 1474.0,718.6 1474.5,715.0 1475.0,713.3 1475.5,712.9 1476.0,707.3 1476.5,703.5 1477.0,700.1 1477.5,700.2 1478.0,695.3 1478.5,691.3 1479.0,690.7 1479.5,688.3 1480.0,684.0 1480.2,687.4 1480.5,687.0 1481.0,685.2 1481.5,689.2 1482.0,694.4 1482.3,696.4 1482.5,696.3 1483.0,699.3 1483.5,705.9 1484.0,707.5 1484.3,713.4 1484.5,714.1 1485.0,717.8 1485.5,720.2 1486.0,725.2 1486.5,723.5 1487.0,727.5 1487.5,731.4 1488.0,730.7 1488.5,735.5 1489.0,735.1 1489.5,734.2 1490.0,738.7 1490.5,737.1 1491.0,738.5 1491.5,735.4 1492.0,735.0 1492.5,737.7 1493.0,736.9 1493.5,735.9 1494.0,736.5 1494.5,740.7 1495.0,743.3 1495.5,737.1 1495.9,740.4 1496.0,732.5 1496.5,736.2 1497.0,740.8 1497.5,742.5 1498.0,738.6 1498.5,739.1 1499.0,737.4 1499.5,737.6 1500.0,731.4 1500.5,733.9 1501.0,730.5 1501.5,729.7 1502.0,729.2 1502.5,727.5 1503.0,725.1 1503.4,725.3 1503.5,723.8 1504.0,727.1 1504.5,723.2 1505.0,718.0 1505.5,719.2 1506.0,715.7 1506.5,711.6 1507.0,707.5 1507.5,707.9 1508.0,707.7 1508.4,709.0 1508.5,705.2 1509.0,703.6 1509.5,709.4 1510.0,707.0 1510.5,704.2 1511.0,700.9 1511.5,705.0 1512.0,707.1 1512.1,706.5 1512.5,706.5 1513.0,704.3 1513.5,707.0 1514.0,703.2 1514.5,704.6 1515.0,705.5 1515.5,706.0 1516.0,712.4 1516.5,706.4 1517.0,711.6 1517.5,711.3 1518.0,712.7 1518.4,716.3 1518.5,714.0 1519.0,718.9 1519.5,726.0 1520.0,726.1 1520.5,731.2 1521.0,733.3 1521.5,739.0 1522.0,739.6 1522.5,744.9 1523.0,747.0 1523.4,751.5 1523.5,748.8 1524.0,750.1 1524.5,751.4 1525.0,752.0 1525.5,756.3 1526.0,759.1 1526.5,757.5 1527.0,760.8 1527.5,760.1 1528.0,762.3 1528.5,763.0 1529.0,760.1 1529.5,762.0 1530.0,765.9 1530.5,761.4 1531.0,765.6 1531.5,765.5 1532.0,764.9 1532.1,766.8 1532.5,767.9 1533.0,769.1 1533.5,764.1 1534.0,772.6 1534.5,769.4 1535.0,772.8 1535.5,771.2 1536.0,770.8 1536.5,772.1 1537.0,778.2 1537.5,775.6 1538.0,772.3 1538.5,773.7 1539.0,775.9 1539.5,775.9 1540.0,775.7 1540.5,775.7 1541.0,774.6 1541.5,778.1 1542.0,779.3 1542.5,781.9 1543.0,777.8 1543.5,780.0 1544.0,779.1 1544.5,781.4 1544.6,779.2 1545.0,778.7 1545.5,777.8 1546.0,782.5 1546.5,782.5 1547.0,784.7 1547.5,782.4 1548.0,787.6 1548.5,782.4 1549.0,784.3 1549.5,784.2 1550.0,785.4 1550.5,783.6 1551.0,782.9 1551.5,783.3 1552.0,786.6 1552.5,786.1 1553.0,786.9 1553.5,785.4 1554.0,786.9 1554.5,787.1 1555.0,787.9 1555.5,785.0 1556.0,786.2 1556.5,789.9 1557.0,786.8 1557.5,787.4 1558.0,787.0 1558.5,785.5 1559.0,786.2 1559.5,788.5 1560.0,787.0 1560.5,791.0 1561.0,785.8 1561.5,785.1 1562.0,787.4 1562.5,786.2 1563.0,790.0 1563.5,787.1 1564.0,788.3 1564.5,785.1 1565.0,788.0 1565.5,788.0 1566.0,789.0 1566.5,787.6 1567.0,788.2 1567.5,787.7 1568.0,788.7 1568.5,786.5 1569.0,787.8 1569.5,786.1 1570.0,788.1 1570.5,786.7 1571.0,786.0 1571.5,785.7 1572.0,788.9 1572.5,784.4 1573.0,784.6 1573.5,787.8 1574.0,785.1 1574.5,785.6 1575.0,785.4 1575.5,789.6 1576.0,785.1 1576.5,785.0 1577.0,785.5 1577.5,786.6 1578.0,787.1 1578.5,784.1 1579.0,786.9 1579.5,789.2 1580.0,783.6 1580.5,787.5 1581.0,788.0 1581.5,786.9 1582.0,785.9 1582.5,782.1 1583.0,787.0 1583.5,784.2 1584.0,784.1 1584.5,786.3 1585.0,780.9 1585.5,784.4 1586.0,785.2 1586.5,785.0 1587.0,784.6 1587.5,786.7 1588.0,784.1 1588.5,785.4 1589.0,785.1 1589.5,781.7 1590.0,783.0 1590.5,787.5 1591.0,783.8 1591.5,783.9 1592.0,781.6 1592.5,782.7 1593.0,780.9 1593.5,781.9 1594.0,783.7 1594.5,781.4 1595.0,781.5 1595.5,784.4 1596.0,782.6 1596.5,782.4 1597.0,783.0 1597.5,780.3 1598.0,780.3 1598.5,777.3 1599.0,781.6 1599.5,779.8 1600.0,779.8 1600.5,777.8 1601.0,780.6 1601.5,780.5 1602.0,779.7 1602.5,776.6 1603.0,777.6 1603.5,778.8 1604.0,777.4 1604.5,779.6 1605.0,780.9 1605.5,778.0 1606.0,779.0 1606.5,778.0 1607.0,780.8 1607.5,780.4 1608.0,783.3 1608.5,778.5 1609.0,777.0 1609.5,779.8 1610.0,779.5 1610.5,780.9 1611.0,783.0 1611.5,780.5 1612.0,782.2 1612.5,777.8 1613.0,783.4 1613.5,782.1 1614.0,781.6 1614.5,781.4 1615.0,784.9 1615.5,782.3 1616.0,785.5 1616.5,782.7 1617.0,783.6 1617.5,784.3 1618.0,787.2 1618.5,785.0 1619.0,785.7 1619.5,785.8 1620.0,785.8 1620.5,785.6 1621.0,789.5 1621.5,789.3 1621.9,786.2 1622.0,787.3 1622.5,785.4 1623.0,788.6 1623.5,788.6 1624.0,788.4 1624.5,787.6 1625.0,790.5 1625.5,790.7 1626.0,789.9 1626.5,791.3 1627.0,788.4 1627.5,789.4 1628.0,789.0 1628.5,790.8 1629.0,793.4 1629.5,791.5 1630.0,793.3 1630.5,792.1 1631.0,791.9 1631.5,794.1 1632.0,793.6 1632.5,794.9 1633.0,794.4 1633.5,792.3 1634.0,790.2 1634.5,794.0 1635.0,792.4 1635.5,792.3 1636.0,792.3 1636.5,793.5 1636.9,794.1 1637.0,794.3 1637.5,797.1 1638.0,792.9 1638.5,794.6 1639.0,792.9 1639.5,793.3 1640.0,794.9 1640.5,795.7 1641.0,793.9 1641.5,797.2 1642.0,794.3 1642.5,796.5 1643.0,794.9 1643.5,796.2 1644.0,795.9 1644.5,794.8 1645.0,795.7 1645.5,793.4 1646.0,793.6 1646.5,795.1 1647.0,797.5 1647.5,794.9 1648.0,795.1 1648.5,798.0 1649.0,796.0 1649.5,796.1 1650.0,794.8 1650.5,796.4 1651.0,797.1 1651.5,796.2 1652.0,797.1 1652.5,796.4 1653.0,797.1 1653.5,796.6 1654.0,795.2 1654.5,796.5 1655.0,797.8 1655.5,796.1 1656.0,794.5 1656.5,796.8 1657.0,796.7 1657.5,800.8 1658.0,798.5 1658.5,795.9 1659.0,796.7 1659.5,798.4 1660.0,794.8 1660.5,795.6 1661.0,796.3 1661.5,796.1 1661.9,795.4 1662.0,796.3 1662.5,794.2 1663.0,795.3 1663.5,795.3 1664.0,795.6 1664.5,795.5 1665.0,795.7 1665.5,795.2 1666.0,795.1 1666.5,796.2 1667.0,797.0 1667.5,797.1 1668.0,794.4 1668.5,796.2 1669.0,796.8 1669.5,795.5 1670.0,796.6 1670.5,795.7 1671.0,796.4 1671.5,793.8 1672.0,796.3 1672.5,794.9 1673.0,794.6 1673.5,795.3 1674.0,797.1 1674.5,797.1 1675.0,796.1 1675.5,796.7 1676.0,794.8 1676.5,793.6 1677.0,792.9 1677.5,795.5 1678.0,795.6 1678.5,796.1 1679.0,796.4 1679.5,798.1 1680.0,795.3 1680.5,795.3 1681.0,798.6 1681.5,797.1 1682.0,795.8 1682.5,793.6 1683.0,795.2 1683.5,795.8 1684.0,796.1 1684.5,796.7 1685.0,796.4 1685.5,798.3 1686.0,795.1 1686.5,796.0 1687.0,795.2 1687.5,796.9 1688.0,796.2 1688.5,797.1 1689.0,796.3 1689.5,801.0 1690.0,796.8 1690.5,794.7 1691.0,795.6 1691.5,795.0 1692.0,796.4 1692.5,796.7 1693.0,796.0 1693.5,795.5 1694.0,795.2 1694.5,798.5 1695.0,798.0 1695.5,792.8 1696.0,796.6 1696.5,795.2 1697.0,795.6 1697.5,798.3 1698.0,794.7 1698.5,794.9 1699.0,799.5 1699.5,795.6 1700.0,795.8 1700.5,797.4 1701.0,795.1 1701.5,795.7 1702.0,796.0 1702.5,797.7 1703.0,793.9 1703.5,794.8 1704.0,795.6 1704.3,796.8 1704.5,794.8 1705.0,796.2 1705.5,794.9 1706.0,794.9 1706.5,796.9 1707.0,795.0 1707.5,799.6 1708.0,796.6 1708.5,797.8 1709.0,797.3 1709.5,794.2 1710.0,794.1"/></defs>
<g clip-path="url(#plot)" fill="none" stroke="#000000" stroke-linejoin="round" stroke-linecap="butt"><use href="#c0" stroke-width="10.6"/><use href="#c0" stroke-width="12.0" shape-rendering="crispEdges"/></g>
<defs><polyline id="c1" points="114.0,938.4 114.5,936.2 115.0,935.8 115.5,930.2 116.0,940.1 116.5,938.6 117.0,935.1 117.5,937.8 118.0,936.3 118.5,933.7 119.0,936.8 119.5,933.2 120.0,932.9 120.5,931.6 121.0,934.8 121.5,933.9 122.0,936.0 122.5,934.0 123.0,936.4 123.5,934.4 124.0,939.0 124.5,938.0 125.0,939.2 125.5,940.6 126.0,938.4 126.5,943.4 127.0,946.6 127.5,938.1 128.0,938.1 128.5,939.1 129.0,945.0 129.5,943.6 130.0,946.1 130.5,945.6 131.0,944.7 131.5,945.2 132.0,944.4 132.4,946.9 132.5,942.1 133.0,943.7 133.5,945.1 134.0,948.6 134.5,942.1 135.0,940.4 135.5,940.7 136.0,943.8 136.5,941.2 137.0,945.5 137.5,938.6 138.0,946.1 138.5,946.3 139.0,941.0 139.5,945.0 140.0,947.9 140.5,945.7 141.0,948.2 141.5,951.7 142.0,946.7 142.5,945.2 143.0,943.9 143.5,947.1 144.0,945.3 144.5,945.5 145.0,945.8 145.5,947.6 146.0,943.5 146.5,942.3 147.0,940.1 147.4,948.8 147.5,946.7 148.0,950.8 148.5,947.8 149.0,946.2 149.5,948.6 150.0,947.1 150.5,944.7 151.0,946.2 151.5,953.1 152.0,950.5 152.5,950.9 153.0,949.5 153.5,948.8 154.0,952.9 154.5,951.2 155.0,950.1 155.5,951.5 156.0,949.8 156.5,952.4 157.0,954.8 157.5,950.9 158.0,956.4 158.5,952.1 158.6,954.3 159.0,952.5 159.5,954.3 160.0,955.0 160.5,953.7 161.0,952.3 161.5,951.3 162.0,949.8 162.5,947.1 163.0,949.2 163.5,950.2 164.0,951.1 164.5,950.1 165.0,953.5 165.5,947.9 166.0,945.9 166.5,951.6 167.0,945.5 167.4,950.7 167.5,946.4 168.0,949.4 168.5,944.1 169.0,950.6 169.5,948.1 170.0,946.2 170.5,952.4 171.0,950.6 171.5,949.5 172.0,948.1 172.5,949.9 173.0,949.7 173.5,951.8 174.0,952.0 174.5,948.6 175.0,948.8 175.5,948.6 176.0,946.4 176.5,948.0 177.0,949.3 177.4,951.2 177.5,952.6 178.0,948.1 178.5,951.5 179.0,949.6 179.5,955.6 180.0,951.3 180.5,952.9 181.0,950.2 181.5,950.9 182.0,953.4 182.5,952.5 183.0,954.5 183.5,951.0 184.0,956.5 184.5,954.1 185.0,960.9 185.5,957.6 186.0,961.1 186.5,955.8 187.0,959.2 187.3,956.0 187.5,956.7 188.0,958.1 188.5,958.0 189.0,959.9 189.5,961.4 190.0,961.4 190.5,959.7 191.0,956.9 191.5,958.3 192.0,960.2 192.5,957.1 193.0,963.9 193.5,962.0 194.0,961.6 194.5,963.7 195.0,962.7 195.5,961.8 196.0,959.6 196.5,962.8 197.0,963.4 197.5,961.1 198.0,965.3 198.5,964.2 199.0,958.9 199.5,963.3 199.8,960.5 200.0,965.4 200.5,964.7 201.0,960.6 201.5,961.0 202.0,963.2 202.5,963.0 203.0,967.3 203.5,966.6 204.0,965.3 204.5,967.5 205.0,962.1 205.5,966.5 206.0,967.3 206.5,965.1 207.0,964.2 207.5,967.1 208.0,970.0 208.5,966.3 209.0,963.5 209.5,968.9 209.8,962.4 210.0,967.3 210.5,965.2 211.0,968.3 211.5,964.8 212.0,969.4 212.5,967.7 213.0,964.0 213.5,963.5 214.0,966.6 214.5,969.6 215.0,967.0 215.5,966.8 216.0,966.4 216.5,968.6 217.0,968.3 217.5,968.6 218.0,966.5 218.5,971.4 219.0,972.3 219.5,967.0 219.8,973.8 220.0,970.1 220.5,967.4 221.0,964.7 221.5,970.0 222.0,969.8 222.5,967.4 223.0,965.0 223.5,970.9 224.0,967.6 224.5,967.7 225.0,974.1 225.5,972.3 226.0,969.6 226.5,966.4 227.0,968.3 227.5,962.3 228.0,967.1 228.5,965.4 229.0,964.3 229.5,963.8 229.8,968.3 230.0,967.4 230.5,967.4 231.0,968.4 231.5,964.8 232.0,963.8 232.5,962.4 233.0,964.9 233.5,967.0 234.0,965.3 234.5,967.0 235.0,963.5 235.5,965.0 236.0,964.4 236.5,963.4 237.0,969.5 237.5,966.9 238.0,963.1 238.5,962.6 239.0,964.1 239.5,961.7 240.0,966.0 240.5,962.7 241.0,964.4 241.5,962.4 242.0,963.0 242.3,961.3 242.5,961.2 243.0,962.8 243.5,963.5 244.0,964.1 244.5,964.5 245.0,967.3 245.5,965.6 246.0,963.2 246.5,965.1 247.0,962.4 247.5,967.0 248.0,965.4 248.5,961.5 249.0,965.6 249.5,965.4 250.0,958.0 250.5,962.0 251.0,962.6 251.5,959.8 252.0,961.9 252.5,962.3 253.0,965.5 253.5,965.4 254.0,970.4 254.5,964.1 254.7,967.0 255.0,964.4 255.5,964.4 256.0,961.2 256.5,959.4 257.0,961.5 257.5,964.4 258.0,965.9 258.5,963.8 259.0,963.4 259.5,960.3 260.0,964.9 260.5,964.4 261.0,960.7 261.5,962.0 262.0,960.0 262.5,965.0 263.0,962.5 263.5,961.1 264.0,961.9 264.5,961.7 265.0,959.8 265.5,958.0 266.0,958.0 266.5,957.0 267.0,961.7 267.2,965.5 267.5,957.3 268.0,961.3 268.5,962.1 269.0,959.5 269.5,962.4 270.0,960.0 270.5,965.0 271.0,961.1 271.5,962.6 272.0,964.1 272.5,962.3 273.0,960.0 273.5,963.0 274.0,965.8 274.5,964.0 275.0,964.6 275.5,962.0 276.0,964.6 276.5,965.9 277.0,964.7 277.2,968.4 277.5,964.2 278.0,962.8 278.5,962.0 279.0,968.0 279.5,966.0 280.0,968.8 280.5,968.6 281.0,971.9 281.5,971.9 282.0,969.1 282.5,970.7 283.0,972.6 283.5,968.6 284.0,974.3 284.5,974.5 285.0,974.6 285.5,973.2 286.0,975.1 286.5,973.3 287.0,976.1 287.2,975.0 287.5,976.3 288.0,975.8 288.5,978.0 289.0,980.2 289.5,975.8 290.0,980.0 290.5,975.0 291.0,975.2 291.5,979.6 292.0,980.3 292.5,981.4 293.0,977.9 293.5,980.9 294.0,981.3 294.5,983.0 295.0,980.5 295.5,981.7 296.0,979.4 296.5,981.4 297.0,981.7 297.5,984.6 298.0,982.5 298.5,983.5 299.0,986.2 299.5,988.6 299.7,986.5 300.0,986.8 300.5,986.1 301.0,988.7 301.5,987.6 302.0,989.5 302.5,987.3 303.0,985.3 303.5,986.2 304.0,986.0 304.5,986.0 305.0,990.4 305.5,989.9 306.0,986.7 306.5,991.7 307.0,989.5 307.5,988.0 308.0,990.6 308.5,990.1 309.0,989.3 309.5,987.8 310.0,991.3 310.5,992.3 311.0,988.4 311.5,993.7 312.0,994.0 312.5,992.6 313.0,993.6 313.5,993.2 314.0,992.7 314.5,993.7 314.6,996.3 315.0,992.0 315.5,994.6 316.0,994.4 316.5,993.0 317.0,993.4 317.5,992.1 318.0,993.3 318.5,995.1 319.0,996.0 319.5,994.3 320.0,1000.2 320.5,994.7 321.0,995.7 321.5,995.3 322.0,995.3 322.5,998.2 323.0,995.8 323.5,998.7 324.0,998.5 324.5,995.3 325.0,998.6 325.5,996.4 326.0,1001.6 326.5,997.0 327.0,996.3 327.5,994.9 328.0,996.1 328.5,997.4 329.0,997.1 329.5,996.7 330.0,997.4 330.5,998.0 331.0,1000.3 331.5,995.9 332.0,997.9 332.5,997.7 333.0,997.0 333.5,997.4 334.0,998.0 334.5,1000.4 335.0,999.4 335.5,999.1 336.0,1000.9 336.5,1000.4 337.0,999.6 337.1,1000.3 337.5,998.6 338.0,1000.8 338.5,1000.8 339.0,999.8 339.5,998.8 340.0,1002.5 340.5,1000.4 341.0,1004.5 341.5,999.5 342.0,1001.8 342.5,1000.2 343.0,1001.3 343.5,1002.1 344.0,999.8 344.5,1000.9 345.0,1001.6 345.5,1002.2 346.0,1003.5 346.5,1004.5 347.0,1004.4 347.5,1003.8 348.0,1003.2 348.5,1002.5 349.0,1003.3 349.5,1003.7 350.0,1005.4 350.5,1004.0 351.0,1002.7 351.5,1005.0 352.0,1003.1 352.5,1003.2 353.0,1004.0 353.5,1005.0 354.0,1001.4 354.5,1003.2 355.0,1005.1 355.5,1004.5 356.0,1003.9 356.5,1004.4 357.0,1007.1 357.5,1004.8 358.0,1006.2 358.5,1006.1 359.0,1004.2 359.5,1005.2 360.0,1003.8 360.5,1003.5 361.0,1002.9 361.5,1005.7 362.0,1004.3 362.5,1004.3 363.0,1003.5 363.5,1007.2 364.0,1005.8 364.5,1004.7 365.0,1004.1 365.5,1003.1 366.0,1005.5 366.5,1005.6 367.0,1003.3 367.5,1006.5 368.0,1006.1 368.5,1003.9 369.0,1004.6 369.5,1004.7 370.0,1005.3 370.5,1004.7 371.0,1002.7 371.5,1006.8 372.0,1005.4 372.5,1006.5 373.0,1006.2 373.5,1004.0 374.0,1004.5 374.5,1005.1 375.0,1005.4 375.5,1004.3 376.0,1003.7 376.5,1004.6 377.0,1003.7 377.5,1004.2 378.0,1002.3 378.5,1004.9 379.0,1003.3 379.5,1003.8 380.0,1004.6 380.5,1005.3 381.0,1007.4 381.5,1005.1 382.0,1002.8 382.5,1004.8 383.0,1003.9 383.5,1005.2 384.0,1003.6 384.5,1003.4 385.0,1003.6 385.5,1003.6 386.0,1002.2 386.5,1003.8 387.0,1004.4 387.5,1005.6 388.0,1003.3 388.5,1002.9 389.0,1004.2 389.5,1004.5 390.0,1006.4 390.5,1005.4 391.0,1004.9 391.5,1006.7 392.0,1006.9 392.5,1004.2 393.0,1005.1 393.5,1002.8 394.0,1004.5 394.5,1003.8 395.0,1004.6 395.5,1004.4 396.0,1005.1 396.5,1005.5 397.0,1006.4 397.5,1006.1 398.0,1005.1 398.5,1004.3 399.0,1007.8 399.5,1008.3 400.0,1005.8 400.5,1006.8 401.0,1003.7 401.5,1003.4 402.0,1004.8 402.5,1007.0 403.0,1003.6 403.5,1003.8 404.0,1006.9 404.5,1002.3 405.0,1005.4 405.5,1005.2 406.0,1004.4 406.5,1005.0 407.0,1008.3 407.5,1003.6 408.0,1004.6 408.5,1004.8 409.0,1004.3 409.5,1003.7 410.0,1007.7 410.5,1006.0 411.0,1003.4 411.5,1004.9 412.0,1006.5 412.5,1006.6 413.0,1004.2 413.5,1005.8 414.0,1006.2 414.5,1006.3 415.0,1006.2 415.5,1003.2 416.0,1007.8 416.5,1005.6 417.0,1007.7 417.5,1009.1 418.0,1005.2 418.5,1003.8 419.0,1006.3 419.5,1004.9 420.0,1004.6 420.5,1004.0 421.0,1007.8 421.5,1005.2 422.0,1003.9 422.5,1005.1 423.0,1004.1 423.5,1005.7 424.0,1004.9 424.5,1004.1 425.0,1006.4 425.5,1004.7 426.0,1006.4 426.5,1006.9 427.0,1004.6 427.5,1004.3 428.0,1005.4 428.5,1006.1 429.0,1004.6 429.5,1004.6 430.0,1004.4 430.5,1005.0 431.0,1005.5 431.5,1003.7 432.0,1003.9 432.5,1004.5 433.0,1003.6 433.5,1004.5 434.0,1004.9 434.5,1004.1 435.0,1003.4 435.5,1003.2 436.0,1006.5 436.5,1004.9 436.9,1001.7 437.0,1001.7 437.5,1005.2 438.0,1004.6 438.5,1002.8 439.0,1004.3 439.5,1001.0 440.0,1003.1 440.5,1004.0 441.0,1000.0 441.5,1001.0 442.0,1003.0 442.5,1003.5 443.0,1001.3 443.5,1002.6 444.0,1004.3 444.5,1001.1 445.0,999.3 445.5,1000.6 446.0,999.7 446.5,1002.0 447.0,1000.2 447.5,998.6 448.0,1003.0 448.5,998.7 449.0,1000.0 449.4,1000.3 449.5,1000.5 450.0,999.4 450.5,999.9 451.0,998.9 451.5,996.8 452.0,998.2 452.5,997.7 453.0,997.2 453.5,997.4 454.0,996.3 454.5,999.3 455.0,999.4 455.5,993.2 456.0,996.1 456.5,994.8 456.9,992.1 457.0,996.9 457.5,995.6 458.0,996.1 458.5,995.8 459.0,998.6 459.5,999.3 460.0,998.7 460.5,1000.2 461.0,999.9 461.5,1001.0 462.0,1000.2 462.5,1001.4 463.0,1000.5 463.5,1002.5 464.0,1003.6 464.4,1003.2 464.5,1004.5 465.0,1006.6 465.5,1000.1 466.0,1003.3 466.5,1002.8 467.0,1003.0 467.5,1001.5 468.0,1003.2 468.5,1002.6 469.0,1002.1 469.5,1002.7 470.0,1002.3 470.5,999.8 471.0,1004.6 471.5,1002.8 472.0,1001.9 472.5,1003.6 473.0,1002.2 473.5,1000.1 474.0,1004.4 474.5,1000.9 475.0,1002.9 475.5,1003.3 476.0,1005.2 476.5,1005.1 477.0,1003.8 477.5,1002.5 478.0,1002.9 478.5,1004.7 479.0,1005.7 479.3,1004.0 479.5,1002.4 480.0,1004.6 480.5,1002.7 481.0,1002.7 481.5,1003.1 482.0,1004.6 482.5,1004.4 483.0,1005.3 483.5,1005.4 484.0,1004.0 484.5,999.8 485.0,1000.4 485.5,1002.9 486.0,1002.6 486.5,1005.9 487.0,1003.1 487.5,1003.1 488.0,1004.7 488.5,1004.9 489.0,1003.1 489.5,1003.9 490.0,1001.1 490.5,1000.8 491.0,1003.5 491.5,999.5 492.0,1002.7 492.5,1002.2 493.0,1002.2 493.5,1002.4 494.0,1001.9 494.5,998.0 495.0,999.5 495.5,999.9 496.0,1001.9 496.5,998.7 497.0,998.9 497.5,999.0 498.0,1001.3 498.5,997.2 499.0,997.6 499.3,1000.7 499.5,996.7 500.0,1000.2 500.5,998.8 501.0,996.8 501.5,998.2 502.0,997.1 502.5,998.8 503.0,999.5 503.5,1001.6 504.0,999.6 504.5,999.8 505.0,998.5 505.5,999.0 506.0,1000.2 506.5,995.5 507.0,999.3 507.5,997.5 508.0,998.5 508.5,998.9 509.0,999.5 509.5,998.4 510.0,997.3 510.5,998.4 511.0,998.0 511.5,997.5 512.0,997.8 512.5,998.3 513.0,996.7 513.5,996.3 514.0,994.1 514.5,996.1 515.0,993.6 515.5,997.6 516.0,994.7 516.5,997.8 517.0,1000.1 517.5,994.8 518.0,997.7 518.5,996.4 519.0,995.0 519.5,994.5 520.0,996.7 520.5,997.9 521.0,996.2 521.5,993.1 522.0,993.6 522.5,994.7 523.0,997.1 523.5,995.2 524.0,995.2 524.5,996.4 525.0,994.0 525.5,994.1 526.0,993.8 526.5,991.1 527.0,994.7 527.5,994.7 528.0,995.8 528.5,992.2 529.0,992.4 529.5,994.7 530.0,993.2 530.5,994.6 531.0,991.0 531.5,992.9 532.0,991.6 532.4,993.1 532.5,991.7 533.0,993.2 533.5,993.9 534.0,993.0 534.5,988.7 535.0,993.2 535.5,992.5 536.0,990.1 536.5,990.3 537.0,991.6 537.5,992.4 538.0,990.8 538.5,989.0 539.0,992.3 539.5,992.3 540.0,996.1 540.5,989.9 541.0,996.3 541.5,995.0 542.0,992.4 542.5,994.5 543.0,991.5 543.5,992.7 544.0,989.5 544.5,990.8 545.0,988.8 545.5,987.7 546.0,989.6 546.2,988.6 546.5,990.3 547.0,991.2 547.5,988.6 548.0,988.9 548.5,989.0 549.0,985.8 549.5,988.4 550.0,987.5 550.5,987.2 551.0,986.3 551.5,985.3 552.0,985.5 552.5,984.8 553.0,984.0 553.2,983.3 553.5,980.7 554.0,971.6 554.4,966.6 554.5,964.9 555.0,961.6 555.5,958.7 556.0,958.1 556.2,956.2 556.5,955.5 557.0,959.7 557.5,961.9 557.9,965.7 558.0,966.4 558.5,973.4 559.0,982.4 559.3,984.6 559.5,984.8 560.0,987.0 560.5,988.1 561.0,989.6 561.5,989.8 562.0,989.9 562.5,990.1 563.0,990.8 563.5,992.4 564.0,991.0 564.5,992.6 564.9,993.4 565.0,996.0 565.5,993.2 566.0,986.6 566.5,990.7 567.0,991.3 567.5,992.8 568.0,995.1 568.5,994.0 569.0,989.5 569.5,994.1 570.0,994.1 570.5,994.9 571.0,996.6 571.5,992.6 572.0,996.1 572.5,991.7 573.0,994.6 573.5,995.4 574.0,998.5 574.5,993.8 575.0,992.3 575.5,996.3 576.0,994.6 576.5,998.4 577.0,994.9 577.4,994.6 577.5,997.8 578.0,996.0 578.5,997.6 579.0,994.1 579.5,999.2 580.0,996.2 580.5,998.6 581.0,996.1 581.5,995.7 582.0,998.2 582.5,999.7 583.0,1002.7 583.5,1001.5 584.0,1002.2 584.5,1001.9 585.0,1005.2 585.5,999.2 586.0,1002.2 586.5,1000.3 587.0,1001.1 587.3,1000.2 587.5,1003.0 588.0,999.5 588.5,999.4 589.0,1001.0 589.5,999.3 590.0,1001.6 590.5,1001.4 591.0,998.5 591.5,1000.6 592.0,998.4 592.5,999.2 593.0,999.0 593.5,1001.5 594.0,998.4 594.5,996.9 594.8,996.9 595.0,1000.1 595.5,995.7 596.0,997.7 596.5,998.0 597.0,995.3 597.5,998.6 598.0,1001.1 598.5,1000.1 599.0,998.5 599.5,1001.0 600.0,1001.0 600.5,1003.6 601.0,999.9 601.5,1000.7 602.0,1001.4 602.5,1001.2 603.0,1001.7 603.5,1001.7 604.0,1001.3 604.5,1000.6 605.0,1002.5 605.5,1001.6 606.0,1002.1 606.5,1002.9 607.0,1004.3 607.3,1004.8 607.5,1001.9 608.0,1003.7 608.5,1004.3 609.0,1003.0 609.5,1000.8 610.0,1000.2 610.5,1004.3 611.0,1004.5 611.5,1003.6 612.0,1001.7 612.5,1005.4 613.0,1005.2 613.5,1003.5 614.0,1003.1 614.5,1000.4 615.0,1004.1 615.5,1000.8 616.0,1004.2 616.5,1004.5 617.0,1003.7 617.5,1005.6 618.0,1002.8 618.5,1004.0 619.0,1004.2 619.5,1003.5 620.0,1002.7 620.5,1005.0 621.0,1003.8 621.5,1003.0 622.0,1003.3 622.3,1004.1 622.5,1007.3 623.0,1004.2 623.5,1003.5 624.0,1002.1 624.5,1001.7 625.0,1000.5 625.5,1003.3 626.0,1002.7 626.5,1000.8 627.0,999.6 627.5,1000.6 628.0,999.7 628.5,998.2 629.0,1000.4 629.5,999.9 630.0,999.3 630.5,1000.2 631.0,997.6 631.5,1000.2 632.0,996.3 632.5,998.4 633.0,998.4 633.5,996.8 634.0,997.3 634.5,994.2 634.8,993.4 635.0,995.1 635.5,994.4 636.0,996.9 636.5,996.7 637.0,998.3 637.5,998.4 638.0,998.5 638.5,998.5 639.0,998.0 639.5,998.2 640.0,1002.4 640.5,997.0 641.0,999.6 641.5,1001.4 642.0,1000.5 642.5,1001.9 643.0,1000.6 643.5,998.2 644.0,1000.1 644.5,999.0 645.0,1003.0 645.5,1003.9 646.0,1001.2 646.5,1002.6 647.0,1001.2 647.2,999.7 647.5,1001.3 648.0,999.9 648.5,1001.5 649.0,1002.8 649.5,1003.6 650.0,1004.6 650.5,1002.5 651.0,1003.5 651.5,1003.9 652.0,1004.1 652.5,999.2 653.0,1001.9 653.5,1004.0 654.0,1001.3 654.5,1003.2 655.0,1004.2 655.5,1000.5 656.0,1002.9 656.5,1003.6 657.0,1003.5 657.5,1001.6 658.0,1004.6 658.5,1003.6 659.0,1005.8 659.5,1005.5 660.0,1004.3 660.5,1005.2 661.0,1003.7 661.5,1003.4 662.0,1002.2 662.5,1004.2 663.0,1005.9 663.5,1004.9 664.0,1004.5 664.5,1003.5 665.0,1003.7 665.5,1005.6 666.0,1002.8 666.5,1007.7 667.0,1004.8 667.2,1007.7 667.5,1006.2 668.0,1003.8 668.5,1005.1 669.0,1004.2 669.5,1004.1 670.0,1004.1 670.5,1001.6 671.0,1000.9 671.5,1000.7 672.0,999.0 672.5,1000.3 673.0,1000.7 673.5,1000.4 674.0,999.9 674.5,998.4 675.0,999.5 675.5,994.3 676.0,996.2 676.5,995.7 677.0,997.2 677.5,996.5 678.0,996.5 678.5,994.9 679.0,996.1 679.5,992.6 679.7,994.1 680.0,990.4 680.5,996.6 681.0,996.7 681.5,993.7 682.0,993.8 682.5,992.3 683.0,993.6 683.5,996.6 684.0,996.7 684.5,995.2 685.0,997.4 685.5,997.6 686.0,999.5 686.5,999.9 687.0,998.5 687.5,999.1 688.0,999.1 688.5,996.1 689.0,999.4 689.5,998.8 689.7,1000.0 690.0,996.3 690.5,1000.3 691.0,998.4 691.5,999.7 692.0,1000.9 692.5,996.8 693.0,997.0 693.5,1000.6 694.0,997.5 694.5,997.7 695.0,999.7 695.5,998.0 696.0,999.0 696.5,997.8 697.0,996.8 697.5,997.9 698.0,999.4 698.5,995.6 699.0,997.6 699.5,996.5 699.7,994.4 700.0,994.4 700.5,992.0 701.0,992.1 701.5,992.8 702.0,991.4 702.5,991.4 703.0,987.5 703.5,987.2 703.6,986.9 704.0,985.7 704.5,983.6 705.0,980.5 705.5,977.0 705.6,975.9 706.0,971.3 706.5,962.2 706.6,959.8 707.0,944.7 707.3,931.0 707.5,923.2 708.0,905.3 708.5,886.0 709.0,860.1 709.5,811.5 709.8,780.1 710.0,760.9 710.5,709.8 711.0,674.4 711.2,670.4 711.5,676.7 712.0,708.7 712.5,753.5 712.8,780.1 713.0,799.6 713.5,852.8 713.6,860.1 714.0,881.2 714.5,900.8 715.0,918.6 715.3,931.1 715.5,941.3 715.9,959.8 716.0,962.2 716.5,971.5 716.9,976.1 717.0,976.8 717.5,980.4 718.0,982.7 718.5,984.9 718.6,985.2 719.0,985.4 719.5,988.2 720.0,988.2 720.5,990.0 721.0,992.2 721.5,990.6 722.0,989.6 722.1,991.4 722.5,989.5 723.0,990.5 723.5,990.7 724.0,990.9 724.5,994.3 725.0,994.4 725.5,992.4 726.0,996.4 726.5,992.2 727.0,993.7 727.5,994.5 728.0,996.8 728.5,996.5 729.0,996.5 729.5,998.0 729.6,997.0 730.0,997.9 730.5,994.5 731.0,993.0 731.5,994.8 732.0,996.6 732.5,995.6 733.0,996.7 733.5,996.7 734.0,996.6 734.5,997.1 735.0,994.5 735.5,997.2 736.0,993.9 736.5,995.4 737.0,993.3 737.5,996.3 738.0,992.9 738.5,997.5 739.0,993.3 739.5,996.0 740.0,995.4 740.5,994.2 741.0,997.6 741.5,995.2 742.0,998.4 742.5,994.5 743.0,994.7 743.5,992.8 744.0,997.0 744.5,997.9 745.0,997.1 745.5,996.5 746.0,995.2 746.5,1000.2 747.0,997.6 747.1,993.5 747.5,996.0 748.0,992.2 748.5,998.6 749.0,998.9 749.5,997.8 750.0,995.2 750.5,994.1 751.0,992.5 751.5,995.3 752.0,992.9 752.5,993.2 753.0,992.7 753.5,992.9 754.0,994.3 754.5,994.7 755.0,991.6 755.5,990.7 756.0,988.6 756.5,988.1 757.0,987.8 757.5,989.9 758.0,987.9 758.5,987.4 759.0,984.9 759.3,982.7 759.5,980.7 760.0,979.3 760.5,975.2 760.8,979.6 761.0,976.7 761.5,977.3 762.0,983.1 762.3,980.7 762.5,982.7 763.0,984.3 763.5,987.7 764.0,988.6 764.5,990.9 765.0,993.2 765.5,990.6 766.0,990.3 766.5,995.6 767.0,994.4 767.5,995.6 768.0,993.8 768.5,996.9 769.0,997.6 769.5,992.9 770.0,996.0 770.5,994.0 771.0,992.6 771.5,994.9 772.0,996.3 772.5,992.8 773.0,992.6 773.5,996.8 774.0,995.0 774.5,995.7 775.0,993.2 775.5,994.0 776.0,995.3 776.5,995.5 777.0,995.4 777.5,997.6 778.0,995.0 778.5,992.0 779.0,993.1 779.5,994.7 780.0,997.2 780.5,993.9 781.0,994.0 781.5,993.9 782.0,992.1 782.5,991.5 783.0,992.4 783.5,994.5 784.0,993.5 784.5,991.8 785.0,992.5 785.5,989.2 786.0,992.9 786.5,992.3 787.0,991.4 787.5,987.8 788.0,993.9 788.5,985.1 789.0,988.0 789.5,987.9 790.0,990.5 790.5,986.6 791.0,989.6 791.5,988.9 792.0,988.6 792.5,990.5 793.0,991.2 793.5,989.2 794.0,987.7 794.5,983.9 795.0,990.3 795.5,987.1 796.0,984.3 796.5,987.8 797.0,990.2 797.5,987.6 798.0,986.1 798.5,992.5 799.0,990.0 799.5,989.7 800.0,990.5 800.5,984.3 801.0,987.4 801.5,987.1 802.0,991.6 802.5,987.0 803.0,987.4 803.5,986.1 804.0,987.0 804.5,987.9 805.0,988.4 805.5,987.3 806.0,991.0 806.5,988.1 807.0,988.2 807.5,989.4 808.0,988.2 808.5,986.2 809.0,984.4 809.5,987.6 810.0,985.1 810.5,988.8 811.0,984.9 811.5,982.1 812.0,985.8 812.5,987.2 813.0,984.7 813.5,985.7 814.0,986.1 814.5,989.1 815.0,986.2 815.5,985.0 816.0,983.5 816.5,981.4 817.0,986.9 817.5,986.0 818.0,981.4 818.5,983.7 819.0,982.6 819.5,980.8 820.0,980.5 820.5,982.3 821.0,978.4 821.5,979.5 821.9,980.1 822.0,980.2 822.5,979.5 823.0,979.8 823.5,979.7 824.0,976.3 824.5,977.7 825.0,976.5 825.5,980.6 826.0,975.2 826.5,977.5 827.0,979.1 827.5,976.9 828.0,976.5 828.5,975.8 829.0,977.2 829.5,973.9 830.0,975.6 830.5,975.0 831.0,971.8 831.5,975.2 832.0,973.7 832.5,975.1 833.0,976.0 833.5,974.5 834.0,970.9 834.4,973.7 834.5,969.9 835.0,971.6 835.5,976.3 836.0,972.2 836.5,974.4 837.0,969.6 837.5,968.9 838.0,965.8 838.5,969.7 839.0,966.9 839.5,968.1 840.0,967.0 840.5,966.6 841.0,965.7 841.5,964.5 842.0,964.1 842.5,962.2 843.0,958.8 843.5,964.2 844.0,967.4 844.5,964.9 845.0,967.4 845.5,963.2 846.0,960.3 846.5,960.8 846.9,965.2 847.0,964.5 847.5,963.1 848.0,964.7 848.5,960.9 849.0,963.8 849.5,962.0 850.0,962.8 850.5,965.2 851.0,962.8 851.5,966.7 852.0,966.8 852.5,962.1 853.0,968.5 853.5,960.7 854.0,963.6 854.5,966.0 855.0,959.8 855.5,967.3 856.0,967.7 856.5,965.1 857.0,966.2 857.5,966.4 858.0,965.8 858.5,968.7 859.0,965.6 859.4,966.0 859.5,966.6 860.0,967.3 860.5,967.5 861.0,961.8 861.5,960.4 862.0,964.5 862.5,964.7 863.0,962.1 863.5,964.2 864.0,963.8 864.5,962.3 865.0,964.5 865.5,959.0 866.0,961.3 866.5,964.6 867.0,961.0 867.5,956.3 868.0,957.7 868.5,958.7 869.0,959.6 869.3,956.6 869.5,957.2 870.0,951.6 870.5,951.0 871.0,951.3 871.2,946.4 871.5,946.6 872.0,940.7 872.5,944.4 873.0,939.6 873.4,940.4 873.5,936.9 874.0,938.0 874.5,944.8 875.0,943.9 875.5,946.4 875.6,948.6 876.0,951.1 876.5,950.8 877.0,955.7 877.5,959.5 878.0,961.0 878.5,963.1 879.0,963.5 879.5,965.0 880.0,966.6 880.5,966.0 881.0,965.9 881.5,966.3 882.0,967.2 882.5,966.7 883.0,965.7 883.5,965.9 884.0,966.1 884.5,966.9 885.0,967.1 885.5,964.0 886.0,968.6 886.5,963.2 887.0,966.5 887.5,963.5 888.0,964.7 888.5,964.4 889.0,959.0 889.5,960.9 890.0,958.6 890.5,955.3 891.0,953.7 891.5,949.7 891.6,949.9 892.0,945.3 892.5,943.2 893.0,939.4 893.3,939.0 893.5,937.2 894.0,940.9 894.5,940.9 895.0,937.6 895.5,936.7 895.6,936.3 896.0,937.6 896.5,938.0 897.0,936.1 897.5,935.0 897.8,938.7 898.0,938.8 898.5,942.8 899.0,948.3 899.3,949.0 899.5,952.1 900.0,956.4 900.5,961.8 901.0,966.5 901.3,966.7 901.5,966.6 902.0,970.9 902.5,972.0 903.0,972.6 903.5,972.1 904.0,974.0 904.5,976.3 905.0,977.7 905.5,976.4 906.0,978.4 906.5,976.6 907.0,977.2 907.5,979.3 908.0,978.1 908.5,979.3 909.0,980.9 909.3,981.5 909.5,978.3 910.0,979.1 910.5,977.1 911.0,977.3 911.5,980.6 912.0,979.2 912.5,976.6 913.0,981.1 913.5,978.2 914.0,979.1 914.5,980.4 915.0,980.3 915.5,979.3 916.0,975.5 916.5,980.4 917.0,978.2 917.5,976.7 918.0,975.5 918.5,982.5 919.0,980.5 919.5,980.5 920.0,981.5 920.5,980.2 921.0,977.5 921.5,981.8 922.0,982.6 922.5,981.9 923.0,984.0 923.5,984.8 924.0,979.7 924.5,980.5 925.0,983.3 925.5,982.3 926.0,982.5 926.5,983.8 927.0,983.5 927.5,981.4 928.0,982.7 928.5,981.1 929.0,982.1 929.5,980.4 930.0,978.9 930.5,981.7 931.0,981.3 931.5,983.7 932.0,984.6 932.5,981.4 933.0,982.2 933.5,980.1 934.0,979.7 934.5,980.9 935.0,980.8 935.5,981.5 936.0,980.7 936.5,983.1 937.0,979.1 937.5,976.0 938.0,979.2 938.5,977.8 939.0,979.6 939.5,981.4 940.0,978.1 940.5,979.0 941.0,980.2 941.5,977.7 942.0,980.1 942.5,980.8 943.0,981.4 943.5,982.1 944.0,981.3 944.5,981.2 944.9,977.9 945.0,975.2 945.5,978.1 946.0,982.4 946.5,979.8 947.0,975.4 947.5,978.8 948.0,980.0 948.5,975.4 949.0,979.5 949.5,976.1 950.0,979.8 950.5,977.9 951.0,980.8 951.5,975.4 952.0,976.2 952.5,973.2 953.0,974.5 953.5,972.0 954.0,970.0 954.5,965.5 955.0,959.9 955.5,955.2 955.6,953.9 956.0,950.2 956.5,945.9 957.0,940.4 957.5,929.8 957.8,925.9 958.0,926.7 958.5,937.9 958.6,938.5 959.0,944.3 959.5,950.2 960.0,954.7 960.5,960.1 961.0,965.6 961.5,970.8 962.0,973.1 962.5,973.6 963.0,975.6 963.5,976.1 964.0,979.5 964.5,979.1 965.0,978.3 965.5,981.4 966.0,982.5 966.5,982.1 967.0,980.9 967.5,982.0 968.0,982.3 968.5,983.6 969.0,982.4 969.5,986.0 970.0,981.4 970.5,984.6 971.0,981.7 971.1,978.4 971.5,979.2 972.0,977.6 972.5,977.2 973.0,982.2 973.5,978.6 974.0,981.4 974.5,979.2 975.0,981.1 975.5,978.9 976.0,982.0 976.5,979.5 977.0,978.9 977.5,979.3 978.0,983.5 978.5,980.1 979.0,980.9 979.5,977.3 980.0,978.7 980.5,980.6 981.0,976.5 981.5,982.3 982.0,979.8 982.5,978.5 983.0,977.4 983.5,976.8 984.0,976.2 984.5,980.3 984.9,979.5 985.0,981.0 985.5,978.0 986.0,976.5 986.5,980.2 987.0,974.7 987.5,975.6 988.0,977.9 988.5,978.6 989.0,974.0 989.5,976.2 990.0,976.8 990.5,976.1 991.0,974.1 991.5,976.6 992.0,973.9 992.5,974.4 993.0,970.4 993.5,974.6 994.0,970.8 994.5,975.8 995.0,975.1 995.5,972.6 996.0,973.6 996.5,973.2 997.0,972.6 997.5,973.5 998.0,972.4 998.5,971.5 999.0,970.6 999.5,975.3 999.8,971.9 1000.0,971.0 1000.5,971.5 1001.0,968.3 1001.5,967.6 1002.0,969.2 1002.5,969.5 1003.0,968.2 1003.5,962.9 1004.0,965.1 1004.5,963.9 1005.0,964.0 1005.5,960.2 1006.0,959.0 1006.5,960.0 1007.0,957.4 1007.5,956.1 1008.0,957.4 1008.5,958.6 1009.0,955.7 1009.5,956.6 1009.8,951.1 1010.0,954.5 1010.5,952.0 1011.0,949.3 1011.5,949.6 1012.0,948.0 1012.5,948.6 1013.0,946.5 1013.5,950.0 1014.0,945.4 1014.5,942.3 1015.0,944.4 1015.5,945.0 1016.0,942.7 1016.5,944.9 1017.0,940.3 1017.5,939.8 1018.0,944.6 1018.5,939.6 1019.0,940.0 1019.5,939.1 1019.8,939.1 1020.0,937.7 1020.5,936.0 1021.0,937.4 1021.5,931.9 1022.0,931.6 1022.5,931.4 1023.0,927.5 1023.5,923.6 1024.0,927.4 1024.5,927.9 1025.0,924.9 1025.5,919.0 1026.0,922.8 1026.5,924.0 1027.0,913.8 1027.3,910.1 1027.5,915.5 1028.0,914.5 1028.5,913.9 1029.0,911.5 1029.5,907.5 1030.0,906.7 1030.5,904.3 1031.0,901.6 1031.5,898.8 1032.0,896.1 1032.5,896.0 1033.0,893.1 1033.5,889.3 1034.0,892.0 1034.5,885.6 1035.0,884.7 1035.5,883.1 1036.0,875.0 1036.5,876.6 1037.0,877.6 1037.5,875.3 1038.0,867.6 1038.5,866.4 1039.0,863.8 1039.5,864.2 1039.8,863.4 1040.0,858.8 1040.5,861.6 1041.0,858.7 1041.5,855.9 1042.0,852.1 1042.5,850.9 1043.0,845.6 1043.5,847.0 1044.0,844.3 1044.5,840.5 1044.7,836.9 1045.0,839.2 1045.5,834.6 1046.0,824.2 1046.5,824.5 1047.0,820.9 1047.2,814.7 1047.5,819.9 1048.0,818.9 1048.5,818.1 1049.0,816.4 1049.5,814.6 1049.7,815.3 1050.0,818.1 1050.5,821.1 1051.0,820.8 1051.5,825.0 1052.0,831.0 1052.5,830.1 1052.7,836.1 1053.0,837.0 1053.5,838.0 1054.0,848.1 1054.5,850.5 1055.0,858.4 1055.5,863.7 1056.0,862.8 1056.5,865.5 1057.0,869.7 1057.5,869.1 1058.0,875.2 1058.5,876.5 1059.0,880.2 1059.5,876.0 1060.0,882.0 1060.5,884.0 1061.0,879.6 1061.5,888.1 1062.0,883.7 1062.2,888.6 1062.5,886.2 1063.0,894.3 1063.5,899.1 1064.0,896.8 1064.5,898.7 1065.0,904.0 1065.5,901.3 1066.0,904.1 1066.5,907.3 1067.0,907.5 1067.5,912.2 1068.0,913.3 1068.5,916.9 1069.0,913.3 1069.5,916.9 1069.7,912.2 1070.0,917.5 1070.5,921.9 1071.0,925.9 1071.5,919.5 1072.0,924.0 1072.5,927.5 1073.0,924.9 1073.5,929.5 1074.0,931.1 1074.5,930.5 1075.0,932.1 1075.5,932.8 1076.0,936.6 1076.5,939.7 1077.0,938.2 1077.2,944.1 1077.5,935.0 1078.0,938.0 1078.5,941.8 1079.0,938.5 1079.5,942.8 1080.0,944.5 1080.5,943.3 1081.0,942.4 1081.5,945.2 1082.0,943.9 1082.5,944.7 1083.0,944.7 1083.5,942.4 1084.0,942.3 1084.5,944.8 1084.7,946.4 1085.0,945.2 1085.5,947.0 1086.0,944.8 1086.5,945.6 1087.0,943.3 1087.5,941.1 1088.0,944.2 1088.5,943.5 1089.0,940.2 1089.5,939.7 1090.0,944.1 1090.5,932.6 1091.0,938.1 1091.5,936.4 1091.7,936.3 1092.0,936.4 1092.5,937.5 1093.0,942.8 1093.5,942.8 1094.0,948.0 1094.5,953.4 1095.0,955.9 1095.5,958.1 1096.0,960.6 1096.5,961.9 1097.0,966.5 1097.5,966.1 1098.0,966.1 1098.5,972.0 1099.0,972.7 1099.5,973.0 1100.0,972.2 1100.5,975.6 1100.9,971.8 1101.0,969.7 1101.5,974.8 1102.0,976.9 1102.5,977.5 1103.0,981.0 1103.5,979.2 1104.0,977.7 1104.5,978.3 1105.0,980.7 1105.5,979.1 1106.0,978.8 1106.5,975.5 1107.0,978.3 1107.5,976.5 1108.0,979.7 1108.5,980.0 1109.0,981.9 1109.5,984.7 1110.0,981.7 1110.5,984.9 1111.0,979.8 1111.5,982.0 1112.0,983.7 1112.1,985.8 1112.5,980.6 1113.0,982.5 1113.5,983.5 1114.0,983.3 1114.5,982.3 1115.0,981.6 1115.5,982.8 1116.0,984.9 1116.5,982.5 1117.0,988.1 1117.5,987.3 1118.0,982.4 1118.5,985.7 1119.0,989.6 1119.5,990.1 1120.0,989.6 1120.5,985.4 1121.0,987.7 1121.5,991.1 1122.0,989.3 1122.5,988.4 1123.0,990.1 1123.5,991.1 1124.0,989.9 1124.5,990.2 1124.6,991.7 1125.0,989.1 1125.5,988.8 1126.0,991.9 1126.5,988.6 1127.0,991.4 1127.5,989.3 1128.0,991.9 1128.5,988.5 1129.0,992.6 1129.5,991.3 1130.0,990.6 1130.5,990.1 1131.0,991.7 1131.5,990.8 1132.0,990.6 1132.5,994.7 1133.0,994.0 1133.5,995.1 1134.0,990.8 1134.5,989.8 1134.6,990.3 1135.0,994.1 1135.5,994.4 1136.0,990.1 1136.5,995.1 1137.0,992.5 1137.5,990.7 1138.0,992.1 1138.5,992.7 1139.0,991.0 1139.5,990.7 1140.0,989.1 1140.5,987.7 1141.0,989.1 1141.5,986.4 1142.0,989.7 1142.5,986.4 1143.0,989.7 1143.5,983.9 1144.0,988.5 1144.5,983.3 1145.0,982.1 1145.5,983.0 1145.8,983.4 1146.0,981.2 1146.5,979.9 1147.0,983.5 1147.5,980.6 1148.0,977.5 1148.5,978.2 1149.0,979.9 1149.5,976.5 1150.0,975.6 1150.5,975.8 1151.0,971.2 1151.5,970.6 1152.0,967.0 1152.5,965.1 1153.0,962.6 1153.5,955.9 1154.0,953.7 1154.3,951.9 1154.5,952.2 1155.0,948.4 1155.2,947.3 1155.5,949.8 1156.0,950.7 1156.2,953.7 1156.5,956.7 1157.0,959.9 1157.5,965.6 1157.6,965.4 1158.0,966.5 1158.5,971.7 1159.0,974.7 1159.5,980.3 1160.0,982.2 1160.5,985.3 1161.0,987.1 1161.5,989.6 1162.0,989.3 1162.5,990.3 1163.0,992.4 1163.5,994.8 1164.0,993.3 1164.5,994.7 1165.0,994.5 1165.5,994.3 1166.0,993.5 1166.5,996.1 1167.0,995.9 1167.5,995.7 1168.0,998.9 1168.3,994.8 1168.5,995.8 1169.0,994.8 1169.5,997.0 1170.0,994.3 1170.5,997.1 1171.0,993.2 1171.5,994.4 1172.0,994.5 1172.5,992.2 1173.0,993.1 1173.5,990.9 1174.0,988.3 1174.5,986.9 1175.0,986.6 1175.5,986.8 1176.0,983.0 1176.5,982.4 1176.8,979.8 1177.0,979.6 1177.5,975.0 1178.0,971.7 1178.5,968.4 1178.8,965.5 1179.0,964.3 1179.5,959.5 1180.0,953.5 1180.4,951.2 1180.5,950.7 1181.0,954.0 1181.5,960.6 1182.0,965.4 1182.5,971.9 1183.0,979.7 1183.5,985.2 1184.0,988.6 1184.5,990.7 1185.0,993.0 1185.5,994.6 1186.0,996.4 1186.5,997.5 1187.0,999.2 1187.5,999.6 1188.0,999.2 1188.5,1001.6 1189.0,999.3 1189.5,1000.1 1190.0,1000.4 1190.5,1001.1 1191.0,1002.6 1191.5,1001.7 1192.0,1001.7 1192.5,1004.6 1193.0,1000.4 1193.5,1001.1 1194.0,1002.3 1194.5,1003.4 1195.0,1003.3 1195.5,1002.1 1196.0,1001.9 1196.5,1002.0 1197.0,1003.5 1197.5,1001.0 1198.0,998.9 1198.5,1002.6 1199.0,1000.7 1199.5,1002.5 1200.0,1005.0 1200.5,1003.3 1201.0,1005.8 1201.5,1000.5 1202.0,1002.9 1202.5,1003.0 1203.0,1003.8 1203.5,1001.7 1204.0,1003.2 1204.5,1003.2 1205.0,1003.2 1205.5,1001.1 1206.0,1000.7 1206.5,1004.0 1207.0,1003.7 1207.5,1003.3 1208.0,1004.2 1208.5,1005.0 1209.0,1001.8 1209.5,1004.7 1210.0,1005.9 1210.5,1005.4 1211.0,1004.8 1211.5,1004.9 1212.0,1001.9 1212.5,1003.5 1213.0,1006.0 1213.5,1006.8 1214.0,1005.3 1214.4,1003.8 1214.5,1004.1 1215.0,1005.6 1215.5,1007.2 1216.0,1005.5 1216.5,1003.7 1217.0,1005.6 1217.5,1005.7 1218.0,1008.8 1218.5,1006.4 1219.0,1005.6 1219.5,1005.4 1220.0,1003.7 1220.5,1004.0 1221.0,1005.0 1221.5,1004.6 1222.0,1005.9 1222.5,1005.5 1223.0,1006.4 1223.5,1007.0 1224.0,1005.1 1224.5,1005.0 1225.0,1003.0 1225.5,1006.3 1226.0,1006.7 1226.5,1004.6 1227.0,1005.2 1227.5,1004.8 1228.0,1007.3 1228.5,1006.5 1229.0,1007.2 1229.5,1003.7 1230.0,1009.3 1230.5,1004.5 1231.0,1004.2 1231.5,1005.8 1232.0,1004.5 1232.5,1007.7 1233.0,1004.3 1233.5,1003.7 1234.0,1006.1 1234.5,1006.7 1235.0,1004.3 1235.5,1005.2 1236.0,1005.6 1236.5,1005.9 1236.9,1008.5 1237.0,1007.8 1237.5,1007.6 1238.0,1007.9 1238.5,1006.2 1239.0,1007.6 1239.5,1006.5 1240.0,1005.7 1240.5,1009.2 1241.0,1004.5 1241.5,1007.1 1242.0,1006.6 1242.5,1005.1 1243.0,1006.7 1243.5,1007.1 1244.0,1007.5 1244.5,1005.6 1245.0,1007.7 1245.5,1007.0 1246.0,1007.7 1246.5,1003.9 1247.0,1006.2 1247.5,1006.3 1248.0,1008.2 1248.5,1006.5 1249.0,1006.8 1249.5,1005.9 1250.0,1005.8 1250.5,1006.1 1251.0,1008.6 1251.5,1005.6 1252.0,1003.8 1252.5,1007.7 1253.0,1006.7 1253.5,1008.0 1254.0,1007.7 1254.5,1006.5 1255.0,1006.5 1255.5,1006.6 1256.0,1007.5 1256.5,1006.3 1257.0,1007.2 1257.5,1008.6 1258.0,1005.7 1258.5,1006.1 1259.0,1006.5 1259.5,1008.5 1260.0,1008.5 1260.5,1009.4 1261.0,1008.3 1261.5,1007.4 1261.9,1007.8 1262.0,1005.4 1262.5,1008.0 1263.0,1007.4 1263.5,1009.8 1264.0,1008.7 1264.5,1005.5 1265.0,1006.0 1265.5,1008.2 1266.0,1004.5 1266.5,1006.3 1267.0,1008.2 1267.5,1008.4 1268.0,1007.6 1268.5,1008.7 1269.0,1006.7 1269.5,1007.4 1270.0,1007.2 1270.5,1006.0 1271.0,1007.5 1271.5,1006.8 1272.0,1007.8 1272.5,1004.5 1273.0,1008.5 1273.5,1007.6 1274.0,1007.4 1274.5,1008.1 1275.0,1007.2 1275.5,1008.9 1276.0,1009.3 1276.5,1008.9 1277.0,1009.1 1277.5,1008.3 1278.0,1007.7 1278.5,1005.8 1279.0,1006.9 1279.5,1009.1 1280.0,1008.6 1280.5,1007.2 1281.0,1008.2 1281.5,1009.5 1282.0,1007.7 1282.5,1009.8 1283.0,1006.6 1283.5,1008.8 1284.0,1008.9 1284.5,1008.5 1285.0,1008.9 1285.5,1009.4 1286.0,1005.8 1286.5,1009.7 1286.8,1010.9 1287.0,1010.0 1287.5,1010.9 1288.0,1007.4 1288.5,1008.5 1289.0,1008.7 1289.5,1007.9 1290.0,1009.8 1290.5,1008.7 1291.0,1007.2 1291.5,1008.9 1292.0,1009.0 1292.5,1007.3 1293.0,1008.7 1293.5,1008.3 1294.0,1008.3 1294.5,1006.2 1295.0,1009.7 1295.5,1009.0 1296.0,1008.0 1296.5,1008.3 1297.0,1008.1 1297.5,1006.9 1298.0,1006.2 1298.5,1007.0 1299.0,1006.1 1299.5,1006.3 1300.0,1005.3 1300.5,1006.3 1301.0,1007.9 1301.5,1006.7 1302.0,1006.6 1302.5,1006.4 1303.0,1006.6 1303.5,1005.3 1304.0,1009.6 1304.5,1006.3 1305.0,1005.4 1305.5,1008.2 1306.0,1008.2 1306.5,1007.1 1307.0,1005.5 1307.5,1005.3 1308.0,1009.2 1308.5,1006.8 1309.0,1006.2 1309.5,1009.8 1310.0,1006.8 1310.5,1006.5 1311.0,1008.7 1311.5,1008.5 1311.8,1010.2 1312.0,1005.9 1312.5,1008.4 1313.0,1005.6 1313.5,1008.4 1314.0,1006.7 1314.5,1006.8 1315.0,1006.2 1315.5,1008.2 1316.0,1009.0 1316.5,1006.5 1317.0,1006.2 1317.5,1005.9 1318.0,1007.5 1318.5,1005.7 1319.0,1012.3 1319.5,1007.2 1320.0,1009.8 1320.5,1007.4 1321.0,1005.2 1321.5,1005.0 1322.0,1006.8 1322.5,1006.6 1323.0,1007.3 1323.5,1006.0 1324.0,1010.7 1324.5,1010.1 1325.0,1004.5 1325.5,1007.4 1326.0,1008.3 1326.5,1006.3 1327.0,1006.6 1327.5,1008.5 1328.0,1007.6 1328.5,1005.0 1329.0,1008.3 1329.5,1005.9 1330.0,1009.1 1330.5,1005.2 1331.0,1003.3 1331.5,1006.8 1332.0,1008.7 1332.5,1007.9 1333.0,1007.3 1333.5,1005.6 1334.0,1008.0 1334.5,1004.1 1335.0,1007.6 1335.5,1004.5 1336.0,1005.1 1336.5,1003.9 1337.0,1004.6 1337.5,1008.1 1338.0,1004.5 1338.5,1006.6 1339.0,1005.3 1339.5,1007.9 1340.0,1004.6 1340.5,1006.7 1341.0,1008.2 1341.5,1010.4 1342.0,1005.8 1342.5,1006.1 1343.0,1006.9 1343.5,1008.5 1344.0,1004.7 1344.5,1007.1 1345.0,1005.1 1345.5,1004.8 1346.0,1004.4 1346.5,1007.1 1347.0,1008.7 1347.5,1007.3 1348.0,1004.6 1348.5,1006.8 1349.0,1009.0 1349.5,1009.0 1349.9,1008.3 1350.0,1009.8 1350.5,1005.9 1351.0,1006.0 1351.5,1011.2 1352.0,1008.9 1352.5,1007.8 1353.0,1007.5 1353.5,1004.8 1354.0,1009.7 1354.5,1005.5 1355.0,1005.2 1355.5,1007.7 1356.0,1009.9 1356.5,1007.4 1357.0,1008.4 1357.5,1007.0 1358.0,1007.8 1358.5,1004.6 1359.0,1009.8 1359.5,1005.4 1360.0,1007.4 1360.5,1003.5 1361.0,1008.8 1361.5,1006.9 1362.0,1009.4 1362.5,1005.9 1363.0,1008.5 1363.5,1007.0 1364.0,1007.2 1364.5,1009.0 1365.0,1005.7 1365.5,1007.7 1366.0,1009.1 1366.5,1008.7 1367.0,1007.7 1367.5,1006.7 1368.0,1004.8 1368.5,1008.2 1369.0,1005.0 1369.5,1007.7 1369.9,1005.5 1370.0,1005.9 1370.5,1005.9 1371.0,1006.6 1371.5,1004.9 1372.0,1005.6 1372.5,1004.2 1373.0,1005.4 1373.5,1004.7 1374.0,1004.6 1374.5,1002.2 1375.0,1003.4 1375.5,1002.2 1376.0,1002.4 1376.5,1000.9 1377.0,998.9 1377.5,1001.2 1378.0,998.9 1378.5,1000.3 1378.6,996.7 1379.0,1000.8 1379.5,1001.3 1380.0,999.1 1380.5,1001.9 1381.0,1000.9 1381.5,1004.1 1382.0,1003.4 1382.5,1001.0 1383.0,1003.1 1383.5,1001.4 1384.0,1004.1 1384.5,1005.8 1385.0,1006.6 1385.5,1005.6 1386.0,1005.7 1386.5,1006.4 1387.0,1005.6 1387.3,1007.3 1387.5,1008.8 1388.0,1007.8 1388.5,1008.6 1389.0,1005.9 1389.5,1005.7 1390.0,1006.3 1390.5,1008.1 1391.0,1006.0 1391.5,1006.2 1392.0,1003.2 1392.5,1004.3 1393.0,999.9 1393.5,1002.3 1394.0,997.5 1394.5,1000.9 1395.0,998.6 1395.5,998.6 1396.0,996.7 1396.5,994.4 1397.0,993.0 1397.3,993.9 1397.5,995.5 1398.0,992.9 1398.5,989.5 1399.0,987.9 1399.5,986.6 1399.8,987.3 1400.0,987.7 1400.5,987.9 1401.0,989.7 1401.5,988.6 1402.0,994.5 1402.3,993.4 1402.5,996.0 1403.0,996.1 1403.5,997.5 1404.0,999.6 1404.5,1001.1 1405.0,1000.9 1405.5,1002.2 1406.0,1005.6 1406.5,1004.7 1407.0,1003.0 1407.5,1004.4 1408.0,1002.8 1408.5,1006.2 1409.0,1003.0 1409.5,1005.9 1410.0,1004.7 1410.5,1004.8 1411.0,1003.7 1411.5,1004.7 1412.0,1004.3 1412.5,1004.5 1413.0,1006.5 1413.5,1009.4 1414.0,1005.2 1414.5,1007.0 1415.0,1005.4 1415.5,1004.2 1416.0,1007.0 1416.5,1005.7 1417.0,1006.3 1417.5,1004.9 1418.0,1005.1 1418.5,1003.7 1419.0,1004.4 1419.5,1007.0 1420.0,1001.0 1420.5,1004.6 1421.0,1006.1 1421.5,1005.1 1422.0,1005.5 1422.5,1004.2 1423.0,1006.6 1423.5,1006.7 1424.0,1004.9 1424.5,1007.4 1424.8,1004.2 1425.0,1001.4 1425.5,1005.0 1426.0,1004.8 1426.5,1003.7 1427.0,1004.3 1427.5,1004.3 1428.0,1002.4 1428.5,1006.9 1429.0,1004.9 1429.5,1008.4 1430.0,1003.7 1430.5,1003.5 1431.0,1000.0 1431.5,1003.4 1432.0,1000.4 1432.5,1003.1 1433.0,1003.9 1433.5,1003.7 1434.0,1001.2 1434.5,1000.9 1435.0,1002.9 1435.5,1003.1 1436.0,1003.3 1436.5,1000.9 1437.0,1000.7 1437.3,1003.3 1437.5,999.1 1438.0,1000.5 1438.5,998.3 1439.0,996.2 1439.5,996.5 1440.0,998.6 1440.5,997.9 1441.0,998.0 1441.5,996.2 1442.0,995.4 1442.5,995.9 1443.0,994.4 1443.5,991.5 1444.0,992.7 1444.5,995.6 1445.0,990.5 1445.5,992.0 1446.0,990.3 1446.5,991.3 1447.0,988.0 1447.5,986.8 1448.0,989.2 1448.5,986.5 1449.0,987.1 1449.5,986.3 1449.7,988.6 1450.0,987.6 1450.5,987.8 1451.0,986.1 1451.5,985.2 1452.0,986.5 1452.5,989.6 1453.0,989.6 1453.5,989.9 1454.0,988.5 1454.5,987.6 1455.0,991.5 1455.5,989.8 1456.0,990.5 1456.5,988.0 1457.0,988.7 1457.5,991.3 1458.0,992.0 1458.5,989.4 1459.0,992.2 1459.5,990.4 1460.0,995.2 1460.5,994.7 1461.0,997.4 1461.5,995.7 1462.0,991.6 1462.2,993.0 1462.5,991.8 1463.0,992.7 1463.5,993.3 1464.0,991.5 1464.5,991.2 1465.0,988.6 1465.5,991.7 1466.0,990.5 1466.5,991.2 1467.0,991.4 1467.5,989.1 1468.0,989.7 1468.5,986.9 1469.0,989.1 1469.5,986.8 1470.0,985.3 1470.5,985.4 1471.0,982.8 1471.5,983.5 1472.0,983.3 1472.2,984.0 1472.5,983.7 1473.0,982.2 1473.5,982.2 1474.0,977.7 1474.5,980.1 1475.0,979.3 1475.5,978.2 1476.0,977.2 1476.5,973.6 1477.0,972.8 1477.5,971.4 1478.0,971.0 1478.4,972.4 1478.5,975.0 1479.0,969.1 1479.5,971.2 1480.0,972.2 1480.5,969.2 1481.0,972.0 1481.5,968.8 1482.0,971.6 1482.5,969.4 1483.0,973.4 1483.5,970.8 1484.0,973.3 1484.5,970.8 1485.0,969.1 1485.5,970.0 1486.0,970.8 1486.5,970.2 1487.0,969.3 1487.5,968.9 1488.0,969.7 1488.5,971.7 1489.0,969.1 1489.5,971.5 1489.7,968.3 1490.0,973.3 1490.5,972.1 1491.0,970.2 1491.5,969.5 1492.0,966.0 1492.5,969.3 1493.0,968.4 1493.5,965.8 1494.0,967.2 1494.5,968.4 1495.0,966.4 1495.5,965.6 1496.0,963.0 1496.5,965.3 1497.0,962.8 1497.5,963.9 1498.0,966.0 1498.5,955.9 1499.0,958.3 1499.5,958.5 1499.6,956.3 1500.0,959.3 1500.5,955.7 1501.0,960.0 1501.5,957.6 1502.0,956.2 1502.5,954.0 1503.0,954.7 1503.5,953.3 1504.0,955.7 1504.5,953.7 1505.0,955.4 1505.5,953.8 1506.0,953.0 1506.5,948.0 1507.0,951.0 1507.5,951.3 1508.0,947.2 1508.5,945.9 1509.0,947.3 1509.5,947.4 1509.6,942.6 1510.0,945.6 1510.5,945.8 1511.0,942.4 1511.5,942.6 1512.0,941.6 1512.5,936.9 1513.0,937.1 1513.5,934.5 1514.0,929.2 1514.5,932.3 1514.6,933.7 1515.0,928.8 1515.5,931.9 1516.0,927.6 1516.5,923.2 1517.0,922.3 1517.5,921.3 1518.0,923.8 1518.5,920.2 1519.0,919.6 1519.5,917.0 1519.6,919.9 1520.0,916.4 1520.5,917.7 1521.0,921.2 1521.5,921.4 1522.0,918.0 1522.5,918.9 1523.0,920.1 1523.5,918.5 1524.0,922.2 1524.5,923.2 1525.0,920.1 1525.5,917.8 1526.0,921.6 1526.5,926.6 1527.0,926.9 1527.5,927.7 1528.0,928.3 1528.5,924.7 1529.0,927.3 1529.5,929.7 1529.6,927.2 1530.0,928.8 1530.5,924.3 1531.0,924.5 1531.5,933.8 1532.0,931.3 1532.5,931.8 1533.0,935.0 1533.5,938.0 1534.0,940.5 1534.5,927.6 1535.0,935.2 1535.5,937.4 1536.0,931.0 1536.5,932.5 1537.0,937.8 1537.1,943.3 1537.5,941.7 1538.0,945.4 1538.5,941.6 1539.0,944.1 1539.5,945.7 1540.0,943.7 1540.5,943.3 1541.0,944.4 1541.5,936.3 1542.0,946.7 1542.5,942.6 1543.0,946.4 1543.5,951.5 1544.0,952.1 1544.5,947.5 1545.0,954.0 1545.5,955.3 1546.0,955.2 1546.5,957.5 1547.0,958.3 1547.1,953.3 1547.5,956.9 1548.0,957.2 1548.5,955.8 1549.0,959.5 1549.5,959.2 1550.0,962.3 1550.5,961.9 1551.0,966.9 1551.5,970.3 1552.0,965.3 1552.5,967.5 1553.0,968.5 1553.5,970.1 1554.0,969.6 1554.5,966.2 1555.0,972.2 1555.5,971.8 1556.0,970.6 1556.5,973.1 1557.0,973.2 1557.5,975.3 1558.0,974.7 1558.5,975.4 1559.0,976.9 1559.5,978.1 1560.0,978.6 1560.5,981.5 1561.0,980.4 1561.5,979.0 1562.0,984.3 1562.5,982.0 1563.0,985.7 1563.5,981.8 1564.0,985.6 1564.5,988.3 1565.0,987.8 1565.5,986.0 1566.0,985.2 1566.5,985.5 1567.0,986.5 1567.5,985.2 1568.0,985.6 1568.5,985.0 1569.0,984.7 1569.5,986.6 1570.0,982.9 1570.5,986.2 1571.0,987.1 1571.5,984.0 1572.0,983.7 1572.5,984.6 1573.0,983.5 1573.5,983.8 1574.0,977.9 1574.5,979.6 1575.0,980.9 1575.2,978.7 1575.5,980.6 1576.0,978.9 1576.5,972.1 1577.0,974.1 1577.5,973.7 1578.0,975.6 1578.5,978.0 1578.8,979.2 1579.0,978.8 1579.5,981.5 1580.0,984.7 1580.5,986.5 1581.0,985.3 1581.5,987.7 1582.0,988.5 1582.5,984.4 1583.0,989.7 1583.5,986.4 1584.0,986.4 1584.5,990.0 1585.0,992.0 1585.5,987.8 1585.7,988.6 1586.0,988.7 1586.5,989.3 1587.0,989.1 1587.5,987.6 1588.0,985.1 1588.5,988.8 1589.0,984.0 1589.5,982.5 1590.0,983.9 1590.5,980.9 1591.0,981.7 1591.5,979.7 1592.0,978.3 1592.5,973.6 1593.0,972.3 1593.5,966.0 1594.0,965.2 1594.5,967.2 1595.0,966.6 1595.5,969.4 1596.0,967.3 1596.5,965.3 1597.0,969.1 1597.5,971.1 1598.0,975.0 1598.5,976.3 1599.0,979.9 1599.5,984.3 1600.0,988.2 1600.5,990.4 1601.0,992.9 1601.5,992.0 1602.0,995.0 1602.5,997.1 1603.0,999.3 1603.5,999.6 1604.0,999.8 1604.5,1000.5 1605.0,1000.9 1605.5,999.4 1606.0,1001.9 1606.5,1003.4 1607.0,1003.6 1607.5,1000.2 1608.0,1003.2 1608.5,1001.1 1609.0,1005.0 1609.5,1004.2 1610.0,1004.8 1610.5,1003.2 1611.0,1001.8 1611.5,1003.5 1612.0,1004.8 1612.5,1003.4 1613.0,1004.3 1613.5,1008.4 1614.0,1004.0 1614.5,1006.9 1615.0,1003.8 1615.5,1007.2 1616.0,1008.3 1616.5,1007.9 1617.0,1009.0 1617.5,1009.8 1618.0,1005.2 1618.5,1007.5 1619.0,1007.8 1619.5,1007.6 1620.0,1009.4 1620.5,1007.6 1621.0,1008.9 1621.5,1008.8 1622.0,1007.3 1622.5,1007.9 1623.0,1006.3 1623.5,1008.0 1624.0,1007.9 1624.5,1007.5 1625.0,1007.2 1625.5,1009.3 1626.0,1008.0 1626.5,1011.4 1627.0,1010.2 1627.5,1009.4 1628.0,1007.4 1628.5,1009.2 1629.0,1007.9 1629.4,1007.8 1629.5,1006.3 1630.0,1008.9 1630.5,1008.8 1631.0,1008.0 1631.5,1007.9 1632.0,1008.6 1632.5,1007.3 1633.0,1008.3 1633.5,1010.9 1634.0,1008.1 1634.5,1012.1 1635.0,1007.2 1635.5,1010.7 1636.0,1010.9 1636.5,1011.2 1637.0,1010.7 1637.5,1008.1 1638.0,1011.9 1638.5,1011.8 1639.0,1010.1 1639.5,1006.6 1640.0,1011.0 1640.5,1008.3 1641.0,1009.2 1641.5,1011.3 1642.0,1011.6 1642.5,1010.7 1643.0,1009.8 1643.5,1013.1 1644.0,1012.5 1644.5,1010.7 1645.0,1009.5 1645.5,1011.0 1646.0,1008.7 1646.5,1012.8 1647.0,1011.1 1647.5,1010.0 1648.0,1011.0 1648.5,1008.3 1649.0,1010.5 1649.4,1009.8 1649.5,1008.8 1650.0,1010.2 1650.5,1011.6 1651.0,1009.3 1651.5,1010.9 1652.0,1009.2 1652.5,1011.4 1653.0,1008.9 1653.5,1012.4 1654.0,1012.5 1654.5,1012.8 1655.0,1014.0 1655.5,1011.8 1656.0,1011.8 1656.5,1012.7 1657.0,1011.5 1657.5,1009.7 1658.0,1010.6 1658.5,1010.6 1659.0,1012.5 1659.5,1011.4 1660.0,1011.6 1660.5,1012.6 1661.0,1011.9 1661.5,1014.2 1662.0,1011.4 1662.5,1010.3 1663.0,1013.2 1663.5,1011.2 1664.0,1011.9 1664.5,1013.4 1665.0,1012.3 1665.5,1012.8 1666.0,1010.8 1666.5,1011.1 1667.0,1012.4 1667.5,1011.2 1668.0,1011.6 1668.5,1012.0 1669.0,1013.9 1669.3,1013.6 1669.5,1012.1 1670.0,1012.1 1670.5,1011.5 1671.0,1014.3 1671.5,1013.2 1672.0,1013.9 1672.5,1010.8 1673.0,1013.6 1673.5,1012.6 1674.0,1013.3 1674.5,1013.6 1675.0,1012.2 1675.5,1011.7 1676.0,1013.1 1676.5,1010.7 1677.0,1014.2 1677.5,1012.9 1678.0,1011.0 1678.5,1013.9 1679.0,1012.9 1679.5,1013.2 1680.0,1012.2 1680.5,1011.5 1681.0,1011.1 1681.5,1010.1 1682.0,1012.6 1682.5,1012.3 1683.0,1011.0 1683.5,1012.3 1684.0,1010.2 1684.5,1012.7 1685.0,1011.3 1685.5,1011.5 1686.0,1010.3 1686.5,1012.7 1687.0,1011.7 1687.5,1010.7 1688.0,1012.1 1688.5,1011.5 1689.0,1013.2 1689.3,1009.7 1689.5,1009.9 1690.0,1013.8 1690.5,1010.4 1691.0,1011.6 1691.5,1010.3 1692.0,1011.0 1692.5,1014.2 1693.0,1008.2 1693.5,1011.8 1694.0,1011.4 1694.5,1011.5 1695.0,1010.5 1695.5,1010.3 1696.0,1013.3 1696.5,1012.1 1697.0,1009.6 1697.5,1011.0 1698.0,1009.1 1698.5,1014.7 1699.0,1011.6 1699.5,1008.9 1700.0,1012.5 1700.5,1011.8 1701.0,1011.0 1701.5,1010.9 1702.0,1010.2 1702.5,1011.0 1703.0,1008.8 1703.5,1013.2 1704.0,1013.8 1704.5,1011.6 1705.0,1011.9 1705.5,1009.6 1706.0,1011.2 1706.5,1010.3 1707.0,1010.6 1707.5,1013.2 1708.0,1014.6 1708.5,1012.9 1709.0,1016.2 1709.5,1013.8 1710.0,1009.5 1710.5,1011.7"/></defs>
<g clip-path="url(#plot)" fill="none" stroke="#ff0000" stroke-linejoin="round" stroke-linecap="butt"><use href="#c1" stroke-width="10.6"/><use href="#c1" stroke-width="12.0" shape-rendering="crispEdges"/></g>
<defs><polyline id="c2" points="114.0,1184.6 114.5,1178.9 115.0,1182.9 115.5,1181.9 116.0,1182.3 116.5,1182.9 117.0,1181.1 117.5,1184.1 118.0,1184.2 118.5,1190.0 119.0,1186.5 119.5,1185.8 120.0,1185.6 120.5,1185.0 121.0,1184.7 121.5,1185.8 122.0,1187.1 122.5,1186.4 123.0,1188.0 123.5,1186.7 124.0,1187.0 124.5,1188.8 125.0,1187.5 125.5,1186.1 126.0,1186.2 126.5,1186.7 127.0,1188.0 127.5,1185.0 128.0,1184.7 128.5,1185.9 129.0,1183.2 129.5,1183.5 130.0,1184.5 130.5,1183.9 131.0,1183.2 131.5,1183.9 132.0,1179.5 132.5,1184.3 133.0,1181.7 133.5,1180.7 133.7,1183.1 134.0,1183.6 134.5,1182.3 135.0,1181.7 135.5,1183.4 136.0,1183.5 136.5,1185.6 137.0,1185.2 137.5,1185.0 138.0,1186.7 138.5,1185.7 139.0,1185.4 139.5,1187.7 140.0,1188.0 140.5,1187.3 141.0,1186.8 141.5,1188.1 142.0,1185.1 142.4,1189.0 142.5,1189.0 143.0,1186.7 143.5,1188.8 144.0,1187.7 144.5,1189.8 145.0,1186.7 145.5,1188.2 146.0,1190.0 146.5,1190.4 147.0,1186.4 147.5,1188.4 148.0,1189.5 148.5,1188.6 149.0,1191.4 149.5,1188.2 150.0,1190.0 150.5,1188.3 151.0,1190.9 151.5,1189.0 152.0,1188.6 152.5,1187.1 153.0,1191.1 153.5,1189.9 154.0,1189.8 154.5,1190.2 155.0,1189.3 155.5,1188.4 156.0,1188.3 156.5,1188.6 157.0,1191.3 157.5,1188.1 158.0,1188.9 158.5,1189.0 159.0,1189.4 159.5,1189.7 160.0,1187.7 160.5,1187.3 161.0,1189.5 161.5,1191.0 162.0,1190.4 162.4,1189.6 162.5,1188.9 163.0,1189.4 163.5,1188.7 164.0,1189.7 164.5,1187.9 165.0,1189.1 165.5,1189.2 166.0,1190.1 166.5,1189.7 167.0,1192.2 167.5,1190.5 168.0,1190.2 168.5,1186.0 169.0,1188.2 169.5,1188.2 170.0,1189.8 170.5,1186.5 171.0,1190.3 171.5,1189.9 172.0,1187.2 172.5,1187.6 173.0,1188.0 173.5,1189.1 174.0,1189.8 174.5,1191.4 175.0,1188.8 175.5,1189.9 176.0,1189.3 176.5,1191.4 177.0,1190.4 177.5,1191.2 178.0,1188.3 178.5,1189.2 179.0,1188.4 179.5,1191.0 180.0,1190.2 180.5,1189.2 181.0,1189.1 181.5,1190.1 182.0,1188.7 182.5,1188.5 183.0,1190.3 183.5,1192.6 184.0,1189.4 184.5,1189.0 184.9,1188.3 185.0,1188.1 185.5,1190.1 186.0,1190.2 186.5,1188.9 187.0,1189.2 187.5,1189.1 188.0,1189.3 188.5,1187.5 189.0,1188.7 189.5,1189.2 190.0,1188.1 190.5,1188.5 191.0,1188.1 191.5,1188.8 192.0,1190.1 192.5,1188.5 193.0,1188.4 193.5,1189.2 194.0,1188.8 194.5,1190.2 195.0,1185.9 195.5,1189.5 196.0,1187.7 196.5,1188.1 197.0,1188.6 197.5,1188.8 198.0,1188.8 198.5,1187.8 199.0,1189.4 199.5,1186.9 200.0,1186.9 200.5,1187.8 201.0,1185.8 201.5,1188.9 202.0,1187.4 202.5,1188.6 203.0,1185.7 203.5,1184.9 204.0,1185.3 204.5,1185.9 204.8,1184.4 205.0,1185.9 205.5,1185.5 206.0,1187.5 206.5,1184.4 207.0,1186.4 207.5,1184.0 208.0,1183.4 208.5,1183.5 209.0,1182.7 209.5,1184.2 210.0,1185.1 210.5,1183.7 211.0,1184.0 211.5,1185.2 212.0,1183.4 212.5,1183.1 213.0,1182.2 213.5,1180.0 214.0,1182.6 214.5,1178.9 215.0,1181.8 215.5,1180.7 216.0,1182.0 216.5,1180.2 217.0,1178.9 217.5,1180.1 218.0,1178.4 218.5,1178.5 219.0,1178.6 219.5,1178.3 219.8,1178.2 220.0,1177.4 220.5,1178.2 221.0,1175.5 221.5,1178.1 222.0,1176.5 222.5,1179.4 223.0,1179.2 223.5,1174.3 224.0,1176.8 224.5,1176.1 225.0,1174.5 225.5,1176.5 226.0,1174.9 226.5,1172.8 227.0,1174.5 227.5,1174.2 228.0,1173.8 228.5,1171.2 229.0,1173.4 229.5,1173.4 230.0,1170.5 230.5,1170.8 231.0,1170.9 231.5,1169.4 232.0,1172.3 232.3,1170.0 232.5,1168.2 233.0,1168.1 233.5,1168.6 234.0,1171.6 234.5,1167.4 235.0,1167.2 235.5,1166.8 236.0,1164.8 236.5,1167.4 237.0,1162.1 237.5,1163.3 238.0,1161.4 238.5,1160.9 239.0,1156.6 239.5,1160.1 240.0,1156.0 240.5,1155.5 241.0,1153.3 241.5,1152.9 242.0,1154.1 242.3,1153.9 242.5,1152.7 243.0,1152.4 243.5,1151.0 244.0,1149.4 244.5,1150.1 245.0,1148.6 245.5,1146.0 246.0,1146.1 246.5,1146.0 247.0,1143.0 247.5,1140.7 248.0,1141.3 248.5,1142.0 249.0,1136.9 249.5,1135.7 249.7,1134.9 250.0,1136.4 250.5,1129.4 251.0,1131.8 251.5,1131.7 252.0,1126.6 252.5,1129.4 253.0,1126.1 253.5,1122.3 254.0,1121.9 254.5,1116.8 255.0,1117.1 255.5,1120.5 256.0,1113.6 256.5,1117.4 257.0,1111.4 257.2,1112.3 257.5,1109.0 258.0,1102.6 258.5,1104.5 259.0,1104.7 259.5,1100.6 260.0,1099.1 260.5,1101.6 261.0,1098.3 261.5,1094.5 262.0,1094.8 262.5,1096.5 263.0,1092.1 263.5,1094.2 264.0,1094.6 264.5,1089.9 265.0,1085.6 265.5,1083.7 266.0,1085.3 266.5,1086.5 267.0,1084.4 267.5,1084.6 268.0,1081.6 268.5,1082.6 269.0,1079.7 269.5,1079.3 269.7,1077.0 270.0,1076.3 270.5,1078.6 271.0,1076.2 271.5,1075.9 272.0,1079.5 272.5,1077.2 273.0,1084.7 273.5,1079.2 273.9,1075.0 274.0,1079.0 274.5,1078.6 275.0,1076.7 275.5,1082.0 276.0,1077.5 276.5,1071.7 277.0,1081.9 277.5,1078.7 278.0,1084.3 278.5,1079.7 279.0,1078.9 279.5,1085.0 279.7,1078.8 280.0,1081.6 280.5,1084.9 281.0,1082.9 281.5,1083.7 282.0,1085.5 282.5,1088.8 283.0,1087.3 283.5,1092.3 284.0,1094.0 284.5,1098.9 284.7,1093.9 285.0,1093.9 285.5,1099.1 286.0,1098.8 286.5,1102.1 287.0,1104.0 287.5,1108.6 288.0,1107.9 288.5,1111.8 289.0,1109.8 289.5,1115.1 290.0,1121.7 290.5,1119.9 290.9,1121.3 291.0,1120.5 291.5,1125.5 292.0,1126.7 292.5,1126.2 293.0,1131.4 293.5,1132.7 294.0,1135.5 294.5,1135.1 295.0,1141.0 295.5,1140.3 296.0,1141.0 296.5,1142.1 297.0,1144.2 297.2,1146.8 297.5,1145.7 298.0,1149.1 298.5,1149.4 299.0,1151.8 299.5,1152.2 300.0,1152.0 300.5,1150.2 301.0,1154.9 301.5,1156.7 302.0,1156.7 302.5,1158.2 303.0,1157.5 303.5,1158.7 304.0,1158.9 304.5,1163.6 304.6,1162.1 305.0,1161.9 305.5,1161.5 306.0,1164.1 306.5,1167.3 307.0,1166.3 307.5,1165.1 308.0,1169.2 308.5,1170.1 309.0,1170.4 309.5,1170.6 310.0,1171.4 310.5,1170.7 311.0,1171.4 311.5,1169.7 312.0,1173.8 312.5,1172.9 313.0,1176.3 313.5,1171.2 314.0,1175.8 314.5,1176.7 314.6,1174.9 315.0,1176.5 315.5,1177.6 316.0,1178.0 316.5,1176.8 317.0,1177.4 317.5,1179.1 318.0,1179.7 318.5,1178.5 319.0,1179.1 319.5,1179.9 320.0,1181.4 320.5,1178.9 321.0,1178.6 321.5,1180.6 322.0,1179.1 322.5,1180.0 323.0,1181.3 323.5,1182.3 324.0,1180.6 324.5,1183.3 325.0,1180.2 325.5,1183.4 326.0,1181.0 326.5,1181.7 327.0,1184.3 327.1,1183.2 327.5,1183.3 328.0,1184.4 328.5,1186.0 329.0,1185.8 329.5,1186.3 330.0,1188.0 330.5,1186.2 331.0,1186.7 331.5,1186.7 332.0,1188.9 332.5,1188.8 333.0,1189.3 333.5,1187.8 334.0,1187.8 334.5,1189.0 335.0,1187.7 335.5,1189.4 336.0,1189.5 336.5,1188.0 337.0,1188.8 337.5,1188.7 338.0,1190.8 338.5,1191.8 339.0,1188.8 339.5,1189.2 340.0,1187.0 340.5,1190.3 341.0,1190.3 341.5,1189.2 342.0,1191.4 342.5,1188.6 343.0,1190.2 343.5,1190.7 344.0,1189.2 344.5,1191.6 344.6,1191.7 345.0,1188.8 345.5,1188.8 346.0,1191.2 346.5,1190.5 347.0,1189.1 347.5,1190.2 348.0,1190.7 348.5,1190.9 349.0,1192.4 349.5,1192.2 350.0,1193.9 350.5,1193.5 351.0,1192.8 351.5,1193.2 352.0,1193.4 352.5,1192.8 353.0,1190.7 353.5,1193.1 354.0,1192.2 354.5,1194.0 355.0,1192.4 355.5,1192.9 356.0,1192.7 356.5,1194.1 357.0,1192.4 357.5,1192.1 358.0,1193.0 358.5,1192.4 359.0,1193.2 359.5,1193.1 360.0,1193.4 360.5,1195.3 361.0,1192.7 361.5,1193.3 362.0,1193.1 362.5,1194.2 363.0,1192.4 363.5,1193.2 364.0,1194.1 364.5,1194.6 365.0,1193.6 365.5,1192.7 366.0,1192.0 366.5,1193.6 367.0,1194.8 367.5,1193.7 368.0,1193.5 368.5,1193.6 369.0,1191.9 369.5,1192.6 370.0,1192.8 370.5,1193.6 371.0,1193.4 371.5,1192.0 372.0,1194.4 372.5,1194.9 373.0,1192.7 373.5,1193.6 374.0,1193.5 374.5,1194.0 375.0,1191.2 375.5,1194.4 376.0,1192.1 376.5,1194.2 377.0,1193.0 377.5,1192.4 378.0,1192.5 378.5,1193.5 379.0,1191.7 379.5,1192.4 380.0,1192.5 380.5,1191.3 381.0,1194.8 381.5,1194.0 382.0,1193.3 382.5,1194.4 383.0,1191.7 383.5,1192.4 384.0,1194.2 384.5,1193.4 385.0,1190.1 385.5,1189.1 386.0,1191.8 386.5,1194.2 387.0,1192.4 387.5,1192.6 388.0,1193.6 388.5,1192.1 389.0,1193.5 389.5,1194.4 390.0,1194.2 390.5,1194.0 391.0,1192.6 391.5,1193.5 392.0,1192.1 392.5,1193.8 393.0,1195.1 393.5,1191.3 394.0,1189.6 394.5,1191.7 395.0,1192.8 395.5,1193.7 396.0,1193.8 396.5,1191.5 397.0,1191.2 397.5,1193.3 398.0,1190.7 398.5,1193.3 399.0,1192.1 399.5,1193.4 400.0,1193.3 400.5,1193.3 401.0,1193.3 401.5,1191.3 402.0,1192.8 402.5,1192.5 403.0,1192.6 403.5,1193.5 404.0,1191.7 404.5,1191.3 405.0,1191.5 405.5,1192.2 406.0,1193.4 406.5,1191.5 407.0,1193.6 407.5,1192.5 408.0,1191.9 408.5,1190.7 409.0,1192.7 409.5,1193.4 410.0,1190.8 410.5,1194.2 411.0,1194.6 411.5,1193.0 412.0,1193.0 412.5,1195.0 413.0,1193.4 413.5,1190.9 414.0,1191.8 414.5,1191.6 415.0,1191.6 415.5,1189.2 416.0,1192.9 416.5,1191.5 417.0,1192.6 417.5,1192.3 418.0,1193.3 418.5,1191.8 419.0,1190.9 419.5,1192.3 420.0,1193.3 420.5,1191.6 421.0,1193.8 421.5,1192.7 422.0,1191.6 422.5,1193.8 423.0,1191.1 423.5,1193.3 424.0,1191.6 424.4,1192.7 424.5,1190.8 425.0,1191.2 425.5,1193.4 426.0,1192.4 426.5,1192.1 427.0,1191.5 427.5,1192.7 428.0,1191.1 428.5,1191.8 429.0,1193.1 429.5,1192.3 430.0,1192.2 430.5,1192.6 431.0,1192.4 431.5,1192.4 432.0,1194.7 432.5,1194.0 433.0,1194.1 433.5,1192.4 434.0,1191.7 434.5,1190.5 435.0,1191.6 435.5,1189.6 436.0,1191.3 436.5,1192.8 437.0,1193.8 437.5,1193.0 438.0,1190.8 438.5,1192.3 439.0,1190.7 439.5,1192.3 440.0,1190.9 440.5,1191.7 441.0,1193.4 441.5,1191.1 442.0,1192.6 442.5,1190.1 443.0,1189.6 443.5,1191.5 444.0,1192.0 444.5,1189.5 445.0,1190.3 445.5,1188.7 446.0,1190.2 446.5,1191.3 447.0,1189.9 447.5,1188.9 448.0,1187.6 448.5,1189.5 449.0,1190.1 449.4,1190.0 449.5,1189.7 450.0,1187.8 450.5,1191.1 451.0,1188.6 451.5,1188.1 452.0,1188.8 452.5,1185.0 453.0,1187.2 453.5,1187.0 454.0,1187.3 454.5,1188.0 455.0,1186.4 455.5,1183.1 456.0,1184.7 456.5,1185.3 457.0,1185.2 457.5,1183.3 458.0,1182.6 458.5,1185.2 459.0,1184.6 459.5,1184.0 460.0,1181.9 460.5,1186.4 460.6,1180.5 461.0,1183.7 461.5,1187.0 462.0,1184.2 462.5,1184.8 463.0,1183.1 463.5,1186.4 464.0,1183.1 464.5,1185.1 465.0,1185.0 465.5,1183.5 466.0,1186.3 466.5,1183.7 467.0,1185.0 467.5,1186.1 468.0,1186.0 468.5,1187.4 469.0,1188.1 469.5,1186.6 470.0,1186.1 470.5,1186.1 471.0,1186.4 471.5,1188.2 472.0,1186.9 472.5,1187.5 473.0,1186.8 473.5,1185.9 474.0,1188.1 474.3,1185.8 474.5,1187.0 475.0,1188.6 475.5,1185.2 476.0,1186.5 476.5,1184.8 477.0,1186.3 477.5,1185.3 478.0,1187.0 478.5,1187.0 479.0,1188.0 479.5,1189.8 480.0,1188.1 480.5,1188.5 481.0,1187.4 481.5,1187.1 482.0,1186.2 482.5,1184.8 483.0,1186.8 483.5,1188.3 484.0,1186.6 484.5,1185.4 485.0,1188.4 485.5,1186.1 486.0,1186.0 486.5,1185.1 487.0,1185.0 487.5,1185.7 488.0,1188.3 488.5,1185.5 489.0,1184.3 489.5,1184.8 490.0,1185.2 490.5,1183.5 491.0,1185.9 491.5,1186.7 492.0,1186.2 492.5,1186.2 493.0,1183.3 493.5,1182.4 494.0,1186.0 494.5,1185.9 495.0,1182.7 495.5,1185.0 496.0,1184.7 496.5,1185.2 497.0,1184.7 497.5,1183.8 498.0,1184.7 498.5,1184.6 499.0,1184.4 499.3,1182.1 499.5,1180.5 500.0,1183.2 500.5,1181.9 501.0,1184.0 501.5,1184.3 502.0,1183.7 502.5,1183.1 503.0,1183.9 503.5,1185.5 504.0,1182.9 504.5,1184.8 505.0,1184.3 505.5,1183.5 506.0,1185.0 506.5,1182.0 507.0,1183.9 507.5,1181.0 508.0,1180.7 508.5,1179.8 509.0,1181.3 509.5,1179.3 510.0,1180.7 510.5,1179.2 511.0,1182.2 511.5,1183.0 512.0,1180.4 512.5,1182.0 513.0,1180.6 513.5,1182.8 514.0,1179.9 514.5,1177.3 515.0,1181.0 515.5,1177.9 516.0,1175.7 516.5,1175.6 517.0,1173.9 517.5,1175.7 518.0,1174.3 518.5,1177.7 519.0,1176.3 519.5,1172.6 520.0,1172.5 520.5,1173.6 521.0,1171.3 521.5,1173.6 522.0,1173.3 522.5,1171.7 523.0,1171.6 523.5,1172.8 524.0,1173.9 524.5,1173.6 525.0,1171.0 525.5,1171.7 526.0,1168.8 526.5,1170.3 527.0,1167.9 527.5,1170.3 528.0,1167.1 528.5,1167.3 529.0,1168.4 529.5,1168.9 530.0,1165.4 530.5,1166.7 531.0,1167.8 531.5,1168.1 532.0,1166.4 532.5,1167.8 533.0,1167.1 533.5,1169.4 534.0,1167.6 534.5,1164.0 535.0,1162.1 535.5,1165.5 536.0,1167.1 536.5,1165.2 537.0,1166.0 537.5,1163.3 538.0,1161.4 538.5,1164.4 539.0,1162.8 539.5,1163.2 539.9,1159.4 540.0,1161.9 540.5,1160.3 541.0,1162.5 541.5,1159.9 542.0,1159.6 542.5,1159.4 543.0,1162.4 543.5,1160.4 544.0,1159.0 544.5,1158.3 545.0,1157.7 545.5,1161.3 546.0,1155.3 546.5,1156.7 547.0,1159.1 547.5,1159.8 548.0,1157.1 548.5,1158.1 549.0,1157.7 549.5,1157.9 549.9,1156.1 550.0,1159.0 550.5,1156.0 551.0,1157.7 551.5,1152.3 552.0,1155.0 552.5,1150.2 553.0,1148.9 553.5,1151.9 554.0,1149.3 554.5,1151.3 555.0,1148.4 555.5,1152.5 556.0,1149.3 556.5,1146.9 557.0,1148.5 557.5,1149.0 558.0,1145.7 558.5,1147.0 559.0,1148.3 559.5,1144.3 560.0,1141.1 560.5,1140.9 561.0,1144.4 561.2,1141.7 561.5,1140.7 562.0,1146.9 562.5,1148.7 563.0,1154.6 563.5,1153.4 564.0,1152.7 564.5,1153.4 565.0,1156.6 565.5,1155.5 566.0,1156.4 566.5,1157.6 567.0,1158.1 567.5,1158.4 568.0,1158.9 568.5,1161.7 569.0,1163.3 569.5,1158.9 570.0,1166.8 570.5,1164.0 571.0,1166.8 571.1,1164.2 571.5,1166.6 572.0,1167.2 572.5,1167.6 573.0,1169.2 573.5,1169.3 574.0,1167.2 574.5,1169.1 575.0,1171.0 575.5,1171.5 576.0,1170.6 576.5,1171.4 577.0,1172.2 577.5,1171.2 578.0,1171.4 578.5,1176.1 579.0,1173.6 579.5,1174.6 579.9,1173.5 580.0,1176.6 580.5,1177.9 581.0,1176.0 581.5,1177.8 582.0,1176.7 582.5,1180.7 583.0,1180.1 583.5,1178.4 584.0,1182.0 584.5,1181.4 585.0,1182.1 585.5,1182.5 586.0,1181.5 586.5,1182.0 587.0,1183.9 587.5,1183.5 588.0,1182.9 588.5,1187.4 589.0,1184.8 589.5,1184.6 589.8,1184.5 590.0,1186.4 590.5,1187.0 591.0,1186.4 591.5,1187.5 592.0,1184.7 592.5,1186.3 593.0,1186.2 593.5,1186.8 594.0,1187.5 594.5,1184.6 595.0,1191.4 595.5,1186.9 596.0,1188.7 596.5,1189.6 597.0,1189.8 597.5,1189.1 598.0,1185.4 598.5,1187.9 599.0,1190.4 599.5,1188.6 600.0,1188.5 600.5,1187.0 601.0,1191.3 601.5,1190.8 602.0,1189.5 602.3,1190.7 602.5,1190.9 603.0,1189.8 603.5,1190.8 604.0,1191.5 604.5,1192.2 605.0,1193.5 605.5,1192.6 606.0,1192.4 606.5,1193.4 607.0,1192.1 607.5,1191.2 608.0,1193.9 608.5,1192.4 609.0,1193.2 609.5,1194.1 610.0,1192.2 610.5,1194.1 611.0,1193.9 611.5,1193.3 612.0,1194.1 612.5,1192.9 613.0,1191.3 613.5,1193.5 614.0,1193.0 614.5,1195.1 615.0,1194.6 615.5,1193.9 616.0,1194.5 616.5,1195.9 617.0,1195.5 617.5,1194.5 618.0,1194.3 618.5,1193.2 619.0,1193.3 619.5,1194.1 619.8,1193.6 620.0,1194.3 620.5,1193.0 621.0,1192.7 621.5,1192.9 622.0,1194.5 622.5,1196.5 623.0,1196.3 623.5,1193.7 624.0,1192.8 624.5,1195.3 625.0,1194.9 625.5,1193.2 626.0,1196.2 626.5,1195.6 627.0,1196.9 627.5,1195.6 628.0,1195.9 628.5,1195.2 629.0,1193.9 629.5,1194.9 630.0,1194.4 630.5,1195.9 631.0,1193.9 631.5,1193.4 632.0,1195.9 632.5,1196.6 633.0,1197.0 633.5,1196.9 634.0,1194.2 634.5,1195.1 635.0,1195.0 635.5,1195.1 636.0,1192.4 636.5,1194.5 637.0,1194.8 637.5,1193.7 638.0,1195.1 638.5,1196.6 639.0,1195.6 639.5,1196.7 639.8,1196.6 640.0,1195.9 640.5,1195.9 641.0,1194.9 641.5,1196.6 642.0,1194.7 642.5,1194.4 643.0,1196.0 643.5,1194.3 644.0,1195.6 644.5,1196.4 645.0,1195.7 645.5,1195.9 646.0,1196.9 646.5,1196.7 647.0,1194.2 647.5,1194.5 648.0,1197.5 648.5,1196.6 649.0,1194.1 649.5,1195.1 650.0,1196.8 650.5,1195.7 651.0,1197.2 651.5,1196.7 652.0,1197.3 652.5,1195.7 653.0,1197.7 653.5,1199.2 654.0,1196.2 654.5,1198.5 654.7,1198.1 655.0,1197.7 655.5,1196.9 656.0,1195.8 656.5,1196.4 657.0,1198.6 657.5,1199.2 658.0,1199.5 658.5,1199.1 659.0,1198.9 659.5,1197.3 660.0,1196.4 660.5,1197.9 661.0,1198.2 661.5,1197.7 662.0,1195.9 662.5,1196.9 663.0,1195.8 663.5,1197.6 664.0,1196.3 664.5,1197.1 665.0,1197.4 665.5,1197.0 666.0,1198.2 666.5,1195.4 667.0,1194.1 667.5,1197.5 668.0,1197.9 668.5,1198.1 669.0,1197.1 669.5,1197.5 670.0,1197.0 670.5,1195.2 671.0,1195.6 671.5,1196.7 672.0,1195.5 672.5,1198.3 673.0,1194.4 673.5,1195.6 674.0,1197.3 674.5,1195.6 674.7,1195.2 675.0,1195.2 675.5,1196.0 676.0,1198.4 676.5,1197.0 677.0,1196.8 677.5,1195.2 678.0,1196.3 678.5,1195.1 679.0,1193.5 679.5,1193.6 680.0,1193.8 680.5,1194.5 681.0,1192.7 681.5,1193.2 682.0,1194.9 682.5,1191.6 683.0,1190.9 683.5,1193.2 684.0,1192.3 684.5,1191.6 684.7,1192.1 685.0,1191.5 685.5,1192.6 686.0,1191.9 686.5,1193.5 687.0,1191.4 687.5,1191.9 688.0,1192.9 688.5,1192.3 689.0,1193.7 689.5,1193.0 690.0,1192.5 690.5,1193.4 691.0,1192.6 691.5,1191.4 692.0,1192.0 692.5,1192.6 693.0,1193.4 693.5,1194.6 694.0,1196.0 694.5,1195.8 695.0,1197.1 695.5,1196.4 696.0,1194.6 696.5,1196.7 697.0,1196.3 697.5,1194.7 698.0,1195.7 698.5,1196.7 699.0,1195.9 699.5,1196.7 699.7,1196.0 700.0,1196.3 700.5,1194.9 701.0,1195.6 701.5,1194.6 702.0,1195.4 702.5,1192.5 703.0,1194.4 703.5,1195.1 704.0,1194.1 704.5,1193.0 705.0,1193.1 705.5,1191.1 706.0,1190.6 706.5,1190.7 707.0,1190.4 707.5,1190.9 708.0,1188.2 708.5,1188.7 709.0,1186.0 709.5,1185.3 710.0,1184.2 710.5,1182.8 711.0,1180.4 711.5,1177.9 712.0,1174.6 712.5,1169.6 713.0,1163.0 713.5,1154.6 714.0,1144.0 714.2,1139.2 714.5,1125.7 715.0,1090.7 715.3,1074.3 715.5,1066.0 715.9,1055.9 716.0,1056.6 716.5,1071.2 716.6,1074.4 717.0,1085.8 717.5,1101.1 718.0,1116.6 718.5,1131.3 718.8,1139.4 719.0,1144.9 719.5,1158.5 720.0,1171.0 720.5,1178.0 721.0,1181.3 721.5,1183.9 722.0,1185.3 722.5,1187.0 722.8,1188.0 723.0,1188.5 723.5,1189.8 724.0,1191.3 724.5,1191.4 725.0,1192.6 725.5,1192.1 726.0,1192.1 726.5,1195.7 727.0,1193.7 727.5,1194.3 728.0,1196.9 728.5,1196.8 729.0,1195.1 729.5,1195.1 730.0,1195.5 730.5,1194.4 730.8,1195.8 731.0,1195.0 731.5,1194.9 732.0,1195.7 732.5,1195.8 733.0,1197.0 733.5,1196.7 734.0,1193.1 734.5,1196.0 735.0,1193.7 735.5,1193.2 736.0,1195.3 736.5,1193.7 737.0,1194.3 737.5,1196.0 738.0,1194.1 738.5,1193.7 739.0,1194.9 739.5,1195.8 740.0,1195.1 740.5,1192.9 741.0,1194.1 741.5,1194.7 742.0,1197.0 742.5,1195.7 743.0,1195.5 743.5,1195.7 744.0,1193.8 744.5,1194.5 745.0,1194.5 745.5,1192.8 746.0,1193.7 746.5,1194.1 747.0,1191.8 747.5,1193.7 748.0,1193.5 748.5,1193.7 749.0,1191.5 749.5,1192.5 749.6,1194.1 750.0,1193.3 750.5,1191.3 751.0,1192.3 751.5,1193.8 752.0,1192.1 752.5,1192.7 753.0,1195.2 753.5,1191.8 754.0,1191.3 754.5,1190.0 755.0,1190.2 755.5,1192.5 756.0,1190.3 756.5,1188.7 757.0,1188.6 757.5,1189.3 758.0,1189.8 758.5,1187.6 759.0,1188.9 759.5,1186.8 760.0,1187.3 760.5,1186.9 761.0,1186.4 761.5,1184.5 762.0,1184.3 762.5,1184.6 762.8,1182.1 763.0,1183.9 763.5,1183.6 764.0,1183.7 764.5,1182.1 765.0,1182.2 765.5,1183.3 766.0,1183.2 766.2,1184.4 766.5,1186.0 767.0,1187.2 767.5,1187.0 768.0,1189.0 768.5,1187.9 769.0,1192.0 769.5,1191.2 770.0,1192.8 770.5,1192.0 771.0,1193.5 771.5,1194.3 772.0,1194.9 772.5,1192.1 773.0,1194.6 773.5,1193.5 774.0,1192.9 774.5,1194.1 775.0,1192.9 775.5,1192.7 776.0,1192.2 776.5,1193.3 777.0,1193.0 777.5,1192.7 778.0,1191.6 778.5,1191.8 779.0,1192.7 779.5,1193.7 780.0,1192.3 780.5,1194.1 781.0,1192.5 781.5,1191.1 782.0,1193.0 782.5,1191.1 783.0,1192.7 783.5,1193.5 784.0,1191.9 784.5,1192.1 785.0,1195.1 785.5,1192.5 786.0,1192.5 786.5,1193.3 787.0,1192.4 787.5,1192.4 788.0,1192.9 788.5,1189.3 789.0,1193.5 789.5,1190.3 790.0,1190.0 790.5,1191.7 791.0,1191.0 791.5,1189.6 792.0,1191.6 792.5,1190.2 793.0,1190.6 793.5,1189.4 794.0,1189.7 794.5,1190.7 795.0,1190.1 795.5,1190.2 796.0,1191.0 796.5,1190.1 797.0,1189.6 797.5,1190.1 798.0,1192.3 798.5,1190.1 799.0,1190.2 799.5,1189.7 800.0,1190.2 800.5,1190.4 801.0,1189.7 801.5,1189.3 802.0,1188.4 802.5,1188.2 803.0,1189.6 803.5,1189.8 804.0,1189.9 804.5,1188.9 805.0,1187.8 805.5,1189.3 806.0,1188.9 806.5,1186.0 807.0,1188.7 807.5,1188.6 808.0,1190.1 808.5,1186.5 809.0,1185.9 809.5,1188.1 810.0,1184.3 810.5,1185.2 811.0,1184.4 811.5,1184.2 812.0,1183.0 812.5,1185.1 813.0,1186.7 813.5,1185.9 814.0,1186.0 814.5,1184.9 815.0,1187.2 815.5,1185.8 816.0,1186.0 816.5,1182.0 817.0,1183.9 817.5,1181.3 818.0,1182.8 818.5,1182.3 819.0,1180.4 819.4,1182.1 819.5,1183.5 820.0,1182.3 820.5,1182.0 821.0,1179.6 821.5,1179.6 822.0,1178.8 822.5,1180.3 823.0,1181.4 823.5,1179.6 824.0,1178.1 824.5,1175.6 825.0,1177.0 825.5,1175.5 826.0,1172.6 826.5,1172.3 827.0,1173.6 827.5,1172.0 828.0,1175.0 828.5,1171.7 829.0,1169.1 829.4,1168.9 829.5,1171.3 830.0,1166.5 830.5,1168.1 831.0,1166.6 831.5,1167.0 832.0,1164.2 832.5,1161.2 833.0,1161.0 833.5,1158.9 834.0,1159.1 834.5,1156.4 835.0,1158.8 835.5,1154.4 836.0,1154.3 836.5,1151.7 836.9,1152.5 837.0,1152.4 837.5,1152.1 838.0,1152.8 838.5,1149.7 839.0,1148.4 839.5,1151.5 840.0,1148.5 840.5,1147.3 841.0,1150.1 841.5,1148.6 842.0,1141.4 842.5,1145.1 843.0,1147.0 843.5,1146.9 844.0,1144.3 844.4,1148.0 844.5,1143.3 845.0,1144.1 845.5,1144.5 846.0,1144.0 846.5,1145.2 847.0,1145.2 847.5,1142.8 848.0,1145.6 848.5,1142.0 849.0,1143.3 849.4,1147.2 849.5,1144.0 850.0,1145.7 850.5,1142.9 851.0,1143.3 851.5,1143.8 852.0,1144.6 852.5,1144.2 853.0,1145.5 853.5,1147.2 854.0,1148.5 854.5,1146.6 855.0,1147.9 855.5,1148.9 856.0,1145.9 856.5,1145.7 856.9,1152.1 857.0,1151.5 857.5,1149.3 858.0,1150.1 858.5,1148.2 859.0,1148.0 859.5,1151.6 860.0,1148.9 860.5,1153.8 861.0,1151.8 861.5,1154.4 862.0,1158.0 862.5,1158.4 863.0,1155.1 863.5,1157.8 864.0,1154.5 864.4,1155.4 864.5,1156.9 865.0,1158.8 865.5,1155.6 866.0,1157.8 866.5,1157.2 867.0,1154.8 867.5,1156.6 868.0,1159.4 868.5,1156.7 869.0,1158.0 869.5,1158.6 870.0,1155.8 870.5,1158.7 871.0,1158.6 871.5,1158.2 872.0,1157.4 872.5,1154.2 873.0,1153.7 873.5,1153.2 874.0,1152.6 874.5,1152.2 875.0,1154.4 875.3,1154.7 875.5,1150.6 876.0,1151.7 876.5,1147.6 876.6,1149.3 877.0,1148.9 877.5,1149.4 877.9,1153.1 878.0,1153.3 878.5,1154.1 879.0,1155.8 879.5,1156.7 880.0,1158.9 880.5,1158.6 881.0,1160.1 881.5,1158.5 882.0,1161.2 882.5,1162.3 883.0,1163.9 883.5,1164.0 884.0,1162.9 884.5,1161.8 885.0,1160.3 885.5,1163.8 886.0,1166.6 886.5,1167.5 887.0,1161.0 887.5,1164.2 888.0,1165.0 888.5,1163.9 889.0,1165.7 889.3,1165.1 889.5,1163.9 890.0,1164.4 890.5,1161.7 891.0,1162.6 891.5,1162.7 892.0,1165.5 892.5,1161.3 893.0,1163.2 893.5,1164.2 894.0,1162.1 894.5,1162.5 895.0,1159.1 895.5,1159.6 896.0,1158.9 896.5,1159.5 897.0,1155.7 897.5,1155.7 898.0,1152.5 898.5,1151.9 898.8,1153.7 899.0,1151.4 899.5,1150.7 900.0,1148.0 900.2,1149.5 900.5,1149.8 901.0,1146.4 901.5,1152.2 901.6,1151.0 902.0,1153.3 902.5,1155.6 903.0,1159.5 903.5,1159.1 904.0,1161.1 904.5,1162.5 905.0,1165.1 905.5,1167.1 906.0,1167.9 906.5,1168.2 907.0,1167.5 907.5,1166.5 908.0,1170.0 908.5,1169.9 909.0,1170.3 909.5,1171.9 910.0,1169.2 910.5,1169.0 911.0,1165.6 911.5,1170.1 912.0,1169.4 912.5,1168.6 913.0,1170.6 913.5,1168.6 914.0,1169.5 914.5,1173.5 915.0,1171.6 915.5,1171.8 916.0,1171.3 916.5,1171.0 917.0,1170.2 917.5,1173.4 918.0,1169.7 918.5,1171.0 919.0,1169.8 919.5,1170.0 920.0,1167.2 920.5,1168.4 921.0,1174.1 921.5,1174.1 921.8,1171.1 922.0,1171.6 922.5,1172.4 923.0,1169.6 923.5,1173.6 924.0,1168.8 924.5,1168.8 925.0,1165.3 925.5,1172.0 926.0,1169.7 926.5,1172.0 927.0,1167.5 927.5,1169.1 928.0,1168.1 928.5,1168.0 929.0,1170.8 929.5,1171.1 930.0,1169.7 930.5,1166.7 931.0,1168.7 931.5,1169.4 932.0,1168.0 932.4,1167.7 932.5,1167.3 933.0,1164.8 933.5,1166.6 934.0,1169.1 934.5,1165.3 935.0,1167.3 935.5,1168.5 936.0,1164.8 936.5,1166.6 937.0,1164.0 937.5,1165.9 938.0,1164.6 938.5,1165.3 939.0,1165.8 939.5,1165.9 940.0,1166.0 940.5,1162.5 941.0,1169.3 941.5,1166.5 942.0,1165.2 942.5,1166.1 943.0,1167.7 943.5,1165.6 944.0,1166.5 944.5,1166.3 945.0,1167.7 945.5,1165.5 946.0,1167.5 946.5,1167.4 947.0,1166.7 947.4,1169.1 947.5,1167.2 948.0,1165.1 948.5,1167.3 949.0,1166.9 949.5,1166.7 950.0,1167.2 950.5,1170.7 951.0,1167.1 951.5,1167.0 952.0,1165.4 952.5,1167.5 953.0,1164.8 953.5,1163.1 954.0,1162.0 954.5,1164.0 955.0,1163.5 955.5,1159.6 956.0,1160.1 956.5,1161.2 957.0,1161.0 957.5,1156.7 958.0,1155.9 958.5,1155.0 959.0,1150.5 959.3,1149.1 959.5,1147.9 960.0,1143.7 960.5,1143.9 961.0,1144.1 961.5,1142.5 962.0,1143.7 962.5,1144.6 963.0,1144.7 963.5,1147.3 963.8,1147.5 964.0,1150.5 964.5,1154.9 965.0,1161.9 965.5,1162.4 966.0,1164.0 966.5,1165.4 967.0,1166.9 967.5,1167.8 968.0,1168.5 968.5,1169.5 969.0,1171.4 969.5,1172.2 970.0,1170.8 970.5,1173.4 971.0,1170.2 971.5,1170.2 972.0,1169.9 972.5,1172.5 973.0,1169.3 973.5,1170.1 974.0,1174.8 974.5,1176.1 975.0,1176.0 975.5,1172.0 976.0,1174.5 976.5,1176.0 977.0,1175.3 977.5,1173.0 978.0,1175.1 978.5,1173.2 979.0,1173.8 979.5,1178.7 979.9,1176.5 980.0,1173.3 980.5,1173.1 981.0,1176.0 981.5,1174.4 982.0,1176.1 982.5,1174.4 983.0,1175.0 983.5,1175.6 984.0,1173.7 984.5,1172.5 985.0,1173.8 985.5,1174.8 986.0,1175.8 986.5,1176.2 987.0,1176.1 987.5,1176.9 988.0,1174.8 988.5,1178.2 989.0,1179.2 989.5,1176.7 990.0,1176.2 990.5,1177.4 991.0,1176.3 991.5,1175.5 992.0,1174.9 992.5,1174.1 993.0,1173.7 993.5,1176.7 994.0,1177.7 994.5,1174.4 994.8,1175.7 995.0,1176.1 995.5,1175.4 996.0,1175.3 996.5,1176.0 997.0,1173.6 997.5,1176.4 998.0,1176.3 998.5,1180.4 999.0,1179.5 999.5,1178.2 1000.0,1178.8 1000.5,1181.1 1001.0,1180.7 1001.5,1178.6 1002.0,1178.5 1002.5,1177.4 1003.0,1179.7 1003.5,1180.5 1004.0,1179.8 1004.5,1183.1 1005.0,1177.8 1005.5,1180.2 1006.0,1181.1 1006.5,1181.3 1007.0,1182.9 1007.3,1178.4 1007.5,1179.3 1008.0,1180.7 1008.5,1181.0 1009.0,1180.2 1009.5,1179.3 1010.0,1181.4 1010.5,1177.9 1011.0,1178.1 1011.5,1180.3 1012.0,1180.1 1012.5,1178.5 1013.0,1175.9 1013.5,1176.0 1014.0,1175.9 1014.5,1175.3 1015.0,1175.9 1015.5,1178.0 1016.0,1176.1 1016.5,1174.5 1017.0,1174.3 1017.3,1173.6 1017.5,1177.2 1018.0,1172.3 1018.5,1175.6 1019.0,1172.6 1019.5,1172.8 1020.0,1171.9 1020.5,1175.6 1021.0,1173.9 1021.5,1178.0 1022.0,1171.9 1022.5,1171.8 1023.0,1174.4 1023.5,1174.5 1024.0,1173.1 1024.5,1170.1 1025.0,1175.0 1025.5,1173.2 1026.0,1172.5 1026.5,1170.7 1027.0,1172.5 1027.5,1170.5 1028.0,1171.5 1028.5,1171.2 1029.0,1173.5 1029.5,1170.8 1030.0,1171.0 1030.5,1173.1 1031.0,1171.5 1031.5,1170.8 1032.0,1170.2 1032.3,1171.7 1032.5,1168.8 1033.0,1170.0 1033.5,1171.9 1034.0,1169.0 1034.5,1166.9 1035.0,1166.1 1035.5,1168.1 1036.0,1165.7 1036.5,1165.1 1037.0,1166.3 1037.5,1165.5 1038.0,1168.2 1038.5,1163.6 1039.0,1167.6 1039.5,1163.0 1040.0,1163.9 1040.5,1164.5 1041.0,1163.5 1041.5,1164.1 1042.0,1160.8 1042.5,1157.9 1043.0,1160.5 1043.5,1157.2 1044.0,1158.3 1044.5,1160.0 1045.0,1157.2 1045.5,1155.8 1046.0,1154.1 1046.5,1154.9 1047.0,1154.5 1047.5,1151.6 1048.0,1154.2 1048.5,1151.2 1049.0,1152.6 1049.5,1150.6 1050.0,1152.3 1050.5,1151.5 1051.0,1149.4 1051.5,1148.4 1052.0,1148.0 1052.5,1148.0 1053.0,1145.9 1053.5,1143.6 1053.7,1143.7 1054.0,1145.9 1054.5,1142.3 1055.0,1147.2 1055.5,1146.6 1056.0,1151.7 1056.5,1151.5 1057.0,1154.5 1057.5,1155.2 1058.0,1158.2 1058.5,1160.5 1059.0,1162.6 1059.5,1159.6 1060.0,1161.4 1060.5,1168.0 1061.0,1165.0 1061.5,1164.5 1062.0,1166.0 1062.5,1161.6 1063.0,1169.1 1063.5,1167.5 1064.0,1165.6 1064.5,1170.2 1064.7,1167.4 1065.0,1166.7 1065.5,1169.1 1066.0,1168.9 1066.5,1167.8 1067.0,1168.8 1067.5,1167.1 1068.0,1167.1 1068.5,1170.8 1069.0,1171.5 1069.5,1170.0 1070.0,1169.8 1070.5,1168.5 1071.0,1169.2 1071.5,1168.3 1072.0,1173.1 1072.5,1169.7 1073.0,1171.4 1073.5,1170.5 1074.0,1168.1 1074.5,1173.2 1074.7,1169.5 1075.0,1169.3 1075.5,1171.3 1076.0,1170.4 1076.5,1172.1 1077.0,1170.7 1077.5,1173.1 1078.0,1172.6 1078.5,1171.0 1079.0,1175.2 1079.5,1174.3 1080.0,1172.8 1080.5,1175.4 1081.0,1176.0 1081.5,1178.5 1082.0,1174.7 1082.5,1177.5 1083.0,1176.1 1083.5,1177.2 1084.0,1176.0 1084.5,1176.2 1084.7,1176.9 1085.0,1174.5 1085.5,1173.2 1086.0,1176.0 1086.5,1175.0 1087.0,1175.1 1087.5,1175.0 1088.0,1172.7 1088.5,1173.6 1089.0,1170.7 1089.5,1169.4 1090.0,1168.9 1090.5,1167.1 1091.0,1164.9 1091.3,1164.6 1091.5,1162.6 1092.0,1161.1 1092.5,1160.7 1093.0,1160.7 1093.5,1158.1 1094.0,1159.8 1094.5,1161.3 1095.0,1161.1 1095.5,1157.6 1096.0,1159.1 1096.5,1158.4 1097.0,1158.9 1097.5,1159.5 1098.0,1160.3 1098.5,1162.7 1099.0,1163.9 1099.5,1165.0 1100.0,1167.2 1100.5,1168.7 1101.0,1170.6 1101.5,1170.0 1102.0,1171.0 1102.5,1172.5 1103.0,1169.7 1103.5,1171.3 1104.0,1173.1 1104.5,1172.7 1105.0,1171.4 1105.5,1174.5 1106.0,1173.0 1106.5,1171.7 1107.0,1176.2 1107.5,1171.6 1108.0,1173.7 1108.5,1172.7 1109.0,1174.1 1109.5,1175.0 1109.6,1173.1 1110.0,1174.3 1110.5,1174.2 1111.0,1172.6 1111.5,1175.6 1112.0,1173.9 1112.5,1173.2 1113.0,1172.7 1113.5,1173.3 1114.0,1174.1 1114.5,1173.3 1115.0,1175.9 1115.5,1169.9 1116.0,1170.3 1116.5,1173.0 1117.0,1170.5 1117.1,1173.4 1117.5,1172.8 1118.0,1175.0 1118.5,1175.1 1119.0,1176.9 1119.5,1176.6 1120.0,1177.2 1120.5,1176.2 1121.0,1177.1 1121.5,1176.4 1122.0,1175.0 1122.5,1174.4 1123.0,1174.8 1123.5,1177.7 1124.0,1173.9 1124.5,1177.9 1125.0,1177.0 1125.5,1179.7 1126.0,1179.1 1126.5,1177.7 1127.0,1178.7 1127.1,1175.4 1127.5,1179.0 1128.0,1179.3 1128.5,1175.7 1129.0,1179.2 1129.5,1177.3 1130.0,1177.2 1130.5,1174.6 1131.0,1177.5 1131.5,1177.1 1132.0,1175.4 1132.5,1173.1 1133.0,1175.0 1133.5,1175.4 1134.0,1174.1 1134.5,1174.8 1135.0,1172.0 1135.5,1172.6 1135.8,1172.6 1136.0,1172.2 1136.5,1176.6 1137.0,1173.4 1137.5,1172.4 1138.0,1174.7 1138.5,1171.9 1139.0,1174.1 1139.5,1174.8 1140.0,1173.1 1140.5,1173.6 1141.0,1173.0 1141.5,1175.0 1142.0,1174.1 1142.5,1177.8 1143.0,1176.3 1143.3,1174.9 1143.5,1173.0 1144.0,1177.9 1144.5,1176.5 1145.0,1174.9 1145.5,1174.3 1146.0,1174.0 1146.5,1172.9 1147.0,1176.2 1147.5,1173.3 1148.0,1170.4 1148.5,1171.3 1149.0,1168.3 1149.5,1173.3 1150.0,1173.6 1150.5,1175.0 1151.0,1175.2 1151.5,1170.1 1152.0,1171.3 1152.5,1171.3 1153.0,1170.3 1153.5,1167.7 1154.0,1169.2 1154.5,1168.2 1155.0,1168.9 1155.5,1165.8 1156.0,1164.5 1156.5,1163.1 1157.0,1162.6 1157.5,1161.6 1158.0,1162.1 1158.5,1163.3 1159.0,1163.2 1159.5,1164.4 1160.0,1163.8 1160.4,1163.0 1160.5,1160.6 1161.0,1163.3 1161.5,1164.6 1162.0,1161.7 1162.5,1162.6 1163.0,1164.1 1163.5,1166.2 1164.0,1169.7 1164.5,1171.2 1165.0,1174.8 1165.5,1174.7 1166.0,1177.5 1166.5,1178.2 1167.0,1178.5 1167.5,1181.5 1168.0,1181.1 1168.5,1182.5 1169.0,1182.1 1169.5,1184.0 1170.0,1184.4 1170.5,1183.6 1171.0,1181.5 1171.5,1185.0 1172.0,1184.8 1172.5,1184.3 1173.0,1184.4 1173.5,1184.3 1174.0,1184.3 1174.5,1182.5 1175.0,1183.6 1175.5,1184.0 1176.0,1182.8 1176.5,1182.5 1177.0,1185.2 1177.5,1183.3 1178.0,1181.6 1178.5,1180.4 1179.0,1176.9 1179.5,1176.9 1180.0,1176.1 1180.5,1174.9 1181.0,1167.8 1181.5,1167.0 1182.0,1168.3 1182.5,1165.3 1183.0,1164.0 1183.5,1164.5 1184.0,1162.3 1184.3,1162.1 1184.5,1163.2 1185.0,1163.8 1185.5,1162.0 1185.8,1165.5 1186.0,1161.9 1186.5,1165.8 1187.0,1173.6 1187.3,1171.1 1187.5,1173.3 1188.0,1173.7 1188.5,1176.7 1189.0,1178.3 1189.5,1180.4 1190.0,1182.8 1190.5,1185.0 1191.0,1184.8 1191.5,1186.1 1192.0,1184.1 1192.5,1186.7 1193.0,1185.9 1193.5,1187.3 1194.0,1185.3 1194.5,1185.8 1195.0,1188.0 1195.5,1187.2 1196.0,1186.8 1196.5,1186.1 1197.0,1187.1 1197.5,1187.8 1198.0,1187.8 1198.5,1185.8 1199.0,1186.0 1199.5,1187.0 1200.0,1185.2 1200.5,1188.1 1201.0,1187.1 1201.5,1187.2 1202.0,1184.5 1202.5,1185.8 1203.0,1186.8 1203.5,1187.5 1204.0,1187.0 1204.5,1188.9 1205.0,1188.5 1205.5,1188.0 1206.0,1185.9 1206.5,1190.5 1207.0,1188.6 1207.5,1189.7 1208.0,1188.1 1208.5,1188.8 1209.0,1189.7 1209.5,1189.2 1210.0,1190.2 1210.5,1188.9 1211.0,1191.7 1211.5,1186.8 1212.0,1188.5 1212.5,1190.6 1213.0,1189.2 1213.5,1189.2 1214.0,1187.7 1214.4,1191.6 1214.5,1187.7 1215.0,1190.7 1215.5,1190.2 1216.0,1191.0 1216.5,1191.7 1217.0,1189.0 1217.5,1189.0 1218.0,1189.8 1218.5,1188.3 1219.0,1191.5 1219.5,1189.8 1220.0,1190.3 1220.5,1188.6 1221.0,1190.0 1221.5,1189.3 1222.0,1190.0 1222.5,1188.4 1223.0,1190.8 1223.5,1188.8 1224.0,1186.8 1224.5,1191.4 1225.0,1190.6 1225.5,1189.9 1226.0,1194.1 1226.5,1191.0 1227.0,1189.5 1227.5,1190.4 1228.0,1191.5 1228.5,1190.5 1229.0,1192.4 1229.5,1192.3 1230.0,1190.1 1230.5,1191.2 1231.0,1191.9 1231.5,1190.5 1232.0,1190.4 1232.5,1192.0 1233.0,1191.3 1233.5,1189.0 1234.0,1190.0 1234.5,1190.2 1235.0,1190.5 1235.5,1189.7 1236.0,1192.3 1236.5,1189.6 1236.9,1189.6 1237.0,1191.2 1237.5,1187.8 1238.0,1188.9 1238.5,1190.7 1239.0,1188.3 1239.5,1189.2 1240.0,1192.0 1240.5,1191.5 1241.0,1191.1 1241.5,1191.2 1242.0,1189.9 1242.5,1190.9 1243.0,1190.2 1243.5,1193.6 1244.0,1191.4 1244.5,1190.6 1245.0,1191.4 1245.5,1191.8 1246.0,1190.2 1246.5,1191.0 1247.0,1193.9 1247.5,1190.4 1248.0,1191.6 1248.5,1193.9 1249.0,1194.6 1249.5,1191.4 1250.0,1194.2 1250.5,1191.6 1251.0,1193.8 1251.5,1192.1 1252.0,1191.0 1252.5,1192.2 1253.0,1192.0 1253.5,1190.5 1254.0,1194.2 1254.5,1191.2 1255.0,1193.1 1255.5,1191.1 1256.0,1189.3 1256.5,1190.0 1257.0,1191.1 1257.5,1192.2 1258.0,1193.9 1258.5,1192.3 1259.0,1192.0 1259.5,1190.7 1260.0,1191.9 1260.5,1192.2 1261.0,1189.1 1261.5,1193.3 1261.9,1193.1 1262.0,1194.5 1262.5,1190.8 1263.0,1192.1 1263.5,1192.0 1264.0,1190.2 1264.5,1190.5 1265.0,1190.1 1265.5,1191.8 1266.0,1191.8 1266.5,1193.1 1267.0,1191.3 1267.5,1190.5 1268.0,1193.1 1268.5,1193.3 1269.0,1193.9 1269.5,1194.8 1270.0,1192.6 1270.5,1194.2 1271.0,1191.8 1271.5,1192.8 1272.0,1193.2 1272.5,1192.2 1273.0,1192.8 1273.5,1191.0 1274.0,1191.9 1274.5,1192.8 1275.0,1191.1 1275.5,1191.5 1276.0,1195.5 1276.5,1193.0 1277.0,1191.9 1277.5,1191.9 1278.0,1195.0 1278.5,1190.2 1279.0,1193.1 1279.5,1194.2 1280.0,1192.8 1280.5,1194.3 1281.0,1192.7 1281.5,1194.1 1282.0,1194.2 1282.5,1194.1 1283.0,1194.2 1283.5,1194.0 1284.0,1195.2 1284.5,1193.3 1285.0,1192.6 1285.5,1192.6 1286.0,1192.3 1286.5,1190.9 1286.8,1190.6 1287.0,1191.5 1287.5,1193.6 1288.0,1192.5 1288.5,1192.8 1289.0,1196.6 1289.5,1194.5 1290.0,1192.9 1290.5,1192.5 1291.0,1194.8 1291.5,1192.2 1292.0,1194.6 1292.5,1193.8 1293.0,1194.9 1293.5,1192.4 1294.0,1194.4 1294.5,1191.2 1295.0,1193.3 1295.5,1194.9 1296.0,1194.4 1296.5,1191.3 1297.0,1194.2 1297.5,1194.0 1298.0,1193.5 1298.5,1192.9 1299.0,1193.6 1299.5,1193.3 1300.0,1195.1 1300.5,1194.4 1301.0,1194.9 1301.5,1194.3 1302.0,1191.7 1302.5,1193.3 1303.0,1195.6 1303.5,1191.6 1304.0,1193.3 1304.5,1192.1 1305.0,1192.2 1305.5,1193.8 1306.0,1194.8 1306.5,1194.8 1307.0,1194.4 1307.5,1195.0 1308.0,1191.8 1308.5,1194.7 1309.0,1194.2 1309.5,1193.3 1310.0,1193.2 1310.5,1192.0 1311.0,1194.5 1311.5,1192.5 1311.8,1192.0 1312.0,1194.0 1312.5,1193.2 1313.0,1193.5 1313.5,1195.1 1314.0,1193.0 1314.5,1193.3 1315.0,1196.2 1315.5,1192.0 1316.0,1194.2 1316.5,1195.1 1317.0,1195.5 1317.5,1196.4 1318.0,1193.1 1318.5,1194.6 1319.0,1193.7 1319.5,1193.3 1320.0,1193.0 1320.5,1192.1 1321.0,1194.1 1321.5,1194.4 1322.0,1192.3 1322.5,1194.7 1323.0,1193.5 1323.5,1193.4 1324.0,1191.9 1324.5,1196.5 1325.0,1196.1 1325.5,1194.7 1326.0,1194.3 1326.5,1193.1 1327.0,1195.3 1327.5,1195.0 1328.0,1196.1 1328.5,1195.8 1329.0,1193.8 1329.5,1193.3 1330.0,1195.5 1330.5,1193.1 1331.0,1195.5 1331.5,1196.5 1332.0,1194.3 1332.5,1196.8 1333.0,1196.3 1333.5,1196.9 1334.0,1195.5 1334.5,1196.1 1335.0,1196.6 1335.5,1198.3 1336.0,1197.1 1336.5,1196.9 1337.0,1195.0 1337.4,1196.9 1337.5,1195.7 1338.0,1196.3 1338.5,1196.5 1339.0,1197.2 1339.5,1196.6 1340.0,1196.0 1340.5,1195.7 1341.0,1197.6 1341.5,1195.2 1342.0,1196.4 1342.5,1197.9 1343.0,1195.9 1343.5,1197.0 1344.0,1197.0 1344.5,1198.2 1345.0,1197.1 1345.5,1194.0 1346.0,1195.9 1346.5,1196.3 1347.0,1196.9 1347.5,1196.4 1348.0,1198.2 1348.5,1197.2 1349.0,1194.5 1349.5,1194.9 1350.0,1193.0 1350.5,1197.3 1351.0,1195.0 1351.5,1194.8 1352.0,1193.1 1352.5,1194.5 1353.0,1195.6 1353.5,1194.8 1354.0,1195.0 1354.5,1194.8 1355.0,1198.0 1355.5,1195.0 1356.0,1193.9 1356.5,1195.1 1357.0,1195.2 1357.4,1195.3 1357.5,1194.8 1358.0,1193.4 1358.5,1194.4 1359.0,1195.2 1359.5,1193.3 1360.0,1197.5 1360.5,1197.1 1361.0,1192.6 1361.5,1193.8 1362.0,1194.9 1362.5,1194.9 1363.0,1195.4 1363.5,1191.2 1364.0,1192.4 1364.5,1193.2 1365.0,1194.3 1365.5,1192.0 1366.0,1193.5 1366.5,1193.5 1367.0,1193.9 1367.5,1191.4 1368.0,1192.9 1368.5,1192.5 1369.0,1191.7 1369.5,1193.8 1370.0,1191.8 1370.5,1193.9 1371.0,1191.3 1371.5,1194.2 1372.0,1194.3 1372.5,1191.5 1373.0,1193.1 1373.5,1193.2 1374.0,1191.5 1374.5,1193.4 1375.0,1192.8 1375.5,1190.8 1376.0,1192.1 1376.5,1193.3 1377.0,1192.3 1377.5,1191.6 1378.0,1194.3 1378.5,1190.8 1379.0,1192.4 1379.5,1193.4 1380.0,1193.3 1380.5,1190.3 1381.0,1192.3 1381.5,1192.3 1382.0,1192.0 1382.4,1192.8 1382.5,1192.6 1383.0,1192.2 1383.5,1192.6 1384.0,1193.6 1384.5,1194.0 1385.0,1190.2 1385.5,1195.5 1386.0,1192.1 1386.5,1193.8 1387.0,1190.7 1387.5,1192.0 1388.0,1191.1 1388.5,1194.2 1389.0,1194.0 1389.5,1193.1 1390.0,1193.0 1390.5,1193.9 1391.0,1192.4 1391.5,1193.0 1392.0,1192.7 1392.5,1194.5 1393.0,1193.3 1393.5,1191.6 1394.0,1193.6 1394.5,1194.0 1394.8,1195.2 1395.0,1193.0 1395.5,1194.4 1396.0,1196.5 1396.5,1193.4 1397.0,1192.8 1397.5,1193.2 1398.0,1191.4 1398.5,1191.6 1399.0,1190.7 1399.5,1189.9 1400.0,1191.4 1400.5,1189.3 1401.0,1188.1 1401.5,1188.4 1402.0,1187.9 1402.3,1188.2 1402.5,1188.9 1403.0,1190.2 1403.5,1186.8 1403.8,1188.2 1404.0,1186.2 1404.5,1189.4 1405.0,1190.6 1405.5,1189.9 1406.0,1190.0 1406.5,1189.9 1407.0,1189.1 1407.5,1191.7 1408.0,1193.3 1408.5,1189.8 1409.0,1193.3 1409.5,1191.2 1409.8,1189.7 1410.0,1192.3 1410.5,1192.7 1411.0,1192.3 1411.5,1191.4 1412.0,1193.9 1412.5,1191.7 1413.0,1193.0 1413.5,1193.1 1414.0,1191.0 1414.5,1189.6 1415.0,1189.6 1415.5,1191.4 1416.0,1192.6 1416.5,1190.0 1417.0,1191.1 1417.5,1193.6 1418.0,1189.2 1418.5,1192.0 1419.0,1192.0 1419.5,1192.6 1420.0,1189.8 1420.5,1191.9 1421.0,1189.6 1421.5,1193.0 1422.0,1190.3 1422.5,1192.0 1423.0,1190.5 1423.5,1191.6 1424.0,1189.4 1424.5,1191.8 1425.0,1192.4 1425.5,1191.7 1426.0,1193.8 1426.5,1192.4 1427.0,1193.0 1427.5,1192.8 1428.0,1194.5 1428.5,1191.2 1429.0,1191.5 1429.5,1191.5 1429.8,1192.7 1430.0,1192.4 1430.5,1193.3 1431.0,1192.7 1431.5,1191.7 1432.0,1192.0 1432.5,1192.4 1433.0,1188.9 1433.5,1193.5 1434.0,1191.0 1434.5,1191.1 1435.0,1191.6 1435.5,1190.9 1436.0,1189.3 1436.5,1191.0 1437.0,1193.2 1437.5,1192.8 1438.0,1192.8 1438.5,1190.1 1439.0,1190.2 1439.5,1191.6 1440.0,1192.0 1440.5,1189.9 1441.0,1188.4 1441.5,1187.1 1442.0,1191.5 1442.5,1187.7 1443.0,1190.1 1443.5,1190.4 1444.0,1193.0 1444.5,1188.5 1444.7,1188.1 1445.0,1188.9 1445.5,1188.7 1446.0,1189.3 1446.5,1187.8 1447.0,1185.2 1447.5,1182.7 1448.0,1185.4 1448.5,1183.5 1449.0,1185.9 1449.5,1181.6 1450.0,1183.3 1450.5,1181.2 1451.0,1180.2 1451.5,1183.3 1452.0,1180.8 1452.5,1180.1 1453.0,1181.4 1453.5,1178.9 1454.0,1179.3 1454.5,1178.8 1454.7,1182.7 1455.0,1180.1 1455.5,1180.4 1456.0,1181.1 1456.5,1179.3 1457.0,1179.9 1457.5,1178.2 1458.0,1181.7 1458.5,1181.5 1459.0,1180.5 1459.5,1182.9 1460.0,1178.6 1460.5,1182.1 1461.0,1179.7 1461.5,1180.4 1462.0,1182.0 1462.5,1184.4 1463.0,1180.9 1463.5,1181.2 1464.0,1180.9 1464.5,1185.3 1465.0,1182.7 1465.5,1181.9 1466.0,1183.7 1466.5,1180.5 1467.0,1176.7 1467.5,1178.7 1468.0,1177.0 1468.5,1181.0 1469.0,1174.9 1469.5,1176.7 1470.0,1174.7 1470.5,1174.1 1471.0,1173.9 1471.5,1172.8 1472.0,1171.2 1472.2,1170.3 1472.5,1171.3 1473.0,1170.3 1473.5,1170.0 1474.0,1170.8 1474.5,1169.3 1475.0,1169.2 1475.5,1167.1 1476.0,1170.0 1476.5,1165.0 1477.0,1164.0 1477.5,1166.8 1478.0,1163.2 1478.5,1164.2 1479.0,1165.4 1479.5,1163.2 1479.7,1162.6 1480.0,1164.9 1480.5,1163.8 1481.0,1162.4 1481.5,1161.2 1482.0,1162.4 1482.5,1159.7 1483.0,1161.0 1483.5,1160.7 1484.0,1163.3 1484.5,1164.1 1485.0,1161.4 1485.5,1161.8 1486.0,1160.7 1486.5,1160.4 1487.0,1162.2 1487.5,1164.1 1488.0,1164.0 1488.4,1164.2 1488.5,1162.5 1489.0,1157.6 1489.5,1163.9 1490.0,1164.4 1490.5,1163.4 1491.0,1163.3 1491.5,1163.9 1492.0,1167.2 1492.5,1163.4 1493.0,1166.0 1493.5,1164.8 1494.0,1164.4 1494.5,1162.8 1495.0,1162.4 1495.5,1160.9 1496.0,1163.9 1496.5,1162.3 1497.0,1160.9 1497.2,1161.9 1497.5,1161.6 1498.0,1167.0 1498.5,1164.2 1499.0,1164.9 1499.5,1162.3 1500.0,1162.4 1500.5,1166.2 1501.0,1164.6 1501.5,1166.0 1502.0,1169.2 1502.5,1169.8 1503.0,1167.4 1503.5,1167.0 1504.0,1166.8 1504.5,1166.1 1505.0,1170.2 1505.5,1164.5 1506.0,1166.3 1506.5,1163.0 1507.0,1164.2 1507.1,1167.0 1507.5,1167.0 1508.0,1166.7 1508.5,1165.3 1509.0,1164.4 1509.5,1164.6 1510.0,1164.7 1510.5,1167.1 1511.0,1167.6 1511.5,1165.7 1512.0,1163.6 1512.5,1162.6 1513.0,1164.6 1513.5,1163.5 1514.0,1160.8 1514.5,1166.9 1514.6,1164.7 1515.0,1164.0 1515.5,1162.4 1516.0,1161.6 1516.5,1164.1 1517.0,1160.6 1517.5,1162.6 1518.0,1163.9 1518.5,1166.5 1519.0,1164.5 1519.5,1163.5 1520.0,1162.9 1520.5,1165.3 1521.0,1165.8 1521.5,1163.7 1522.0,1166.2 1522.5,1165.7 1523.0,1163.7 1523.5,1164.9 1524.0,1168.1 1524.5,1169.3 1524.6,1168.3 1525.0,1167.6 1525.5,1167.5 1526.0,1169.9 1526.5,1169.8 1527.0,1166.8 1527.5,1171.2 1528.0,1169.8 1528.5,1172.6 1529.0,1172.7 1529.5,1173.2 1530.0,1174.3 1530.5,1174.2 1531.0,1172.1 1531.5,1173.0 1532.0,1176.9 1532.5,1176.7 1533.0,1174.0 1533.5,1173.7 1534.0,1178.7 1534.5,1181.1 1534.6,1178.8 1535.0,1177.3 1535.5,1178.2 1536.0,1173.6 1536.5,1176.5 1537.0,1179.8 1537.5,1179.8 1538.0,1175.5 1538.5,1180.8 1539.0,1180.2 1539.5,1181.1 1540.0,1179.6 1540.5,1179.9 1541.0,1178.3 1541.5,1180.7 1542.0,1182.1 1542.5,1179.9 1543.0,1182.2 1543.5,1181.1 1544.0,1183.6 1544.5,1183.8 1545.0,1179.3 1545.5,1184.0 1546.0,1185.4 1546.5,1183.5 1547.0,1184.0 1547.1,1183.7 1547.5,1182.1 1548.0,1183.6 1548.5,1186.4 1549.0,1185.2 1549.5,1187.3 1550.0,1187.1 1550.5,1187.9 1551.0,1186.6 1551.5,1187.6 1552.0,1189.3 1552.5,1188.7 1553.0,1187.6 1553.5,1186.9 1554.0,1187.2 1554.5,1189.3 1555.0,1189.8 1555.5,1186.7 1556.0,1189.4 1556.5,1189.4 1557.0,1189.2 1557.5,1188.0 1558.0,1191.9 1558.5,1190.0 1559.0,1187.0 1559.5,1187.9 1560.0,1189.8 1560.5,1189.3 1561.0,1189.0 1561.5,1189.0 1562.0,1189.0 1562.5,1188.7 1563.0,1187.8 1563.5,1189.9 1564.0,1185.5 1564.5,1188.4 1565.0,1191.2 1565.5,1188.6 1566.0,1188.0 1566.5,1191.9 1567.0,1190.8 1567.5,1189.4 1568.0,1189.1 1568.5,1190.0 1569.0,1190.1 1569.5,1190.3 1570.0,1189.5 1570.5,1190.9 1571.0,1189.3 1571.5,1187.6 1572.0,1188.4 1572.5,1190.1 1573.0,1188.5 1573.5,1186.0 1574.0,1190.8 1574.5,1189.0 1575.0,1187.4 1575.5,1187.1 1576.0,1188.3 1576.5,1189.3 1577.0,1186.3 1577.5,1187.5 1578.0,1185.8 1578.5,1186.8 1579.0,1184.6 1579.5,1183.4 1580.0,1186.0 1580.5,1185.7 1581.0,1186.8 1581.5,1184.9 1582.0,1187.9 1582.5,1186.2 1583.0,1188.3 1583.5,1185.9 1584.0,1188.8 1584.5,1187.1 1585.0,1187.9 1585.5,1189.4 1586.0,1186.2 1586.5,1187.7 1587.0,1192.2 1587.5,1188.3 1588.0,1190.1 1588.5,1191.7 1589.0,1193.0 1589.5,1190.4 1590.0,1191.1 1590.5,1189.2 1591.0,1189.8 1591.5,1191.2 1592.0,1189.9 1592.5,1188.9 1593.0,1188.8 1593.5,1187.7 1594.0,1187.1 1594.5,1185.8 1595.0,1184.4 1595.5,1186.0 1596.0,1182.4 1596.5,1184.5 1597.0,1185.3 1597.5,1184.0 1598.0,1184.9 1598.5,1179.5 1599.0,1181.1 1599.5,1179.3 1600.0,1179.4 1600.5,1177.9 1601.0,1178.7 1601.2,1181.8 1601.5,1181.8 1602.0,1182.9 1602.5,1183.2 1603.0,1182.9 1603.5,1180.9 1604.0,1182.3 1604.5,1184.0 1605.0,1185.3 1605.5,1183.7 1606.0,1184.3 1606.5,1185.2 1607.0,1188.7 1607.5,1188.3 1608.0,1188.1 1608.2,1187.9 1608.5,1189.8 1609.0,1187.7 1609.5,1190.0 1610.0,1190.1 1610.5,1190.5 1611.0,1192.0 1611.5,1192.6 1612.0,1196.3 1612.5,1192.9 1613.0,1194.0 1613.5,1192.5 1614.0,1191.9 1614.5,1195.9 1615.0,1197.3 1615.5,1194.0 1616.0,1195.6 1616.5,1197.2 1616.9,1195.8 1617.0,1192.3 1617.5,1196.3 1618.0,1194.9 1618.5,1196.2 1619.0,1194.3 1619.5,1196.6 1620.0,1196.8 1620.5,1194.8 1621.0,1196.6 1621.5,1195.4 1622.0,1195.6 1622.5,1195.0 1623.0,1195.5 1623.5,1195.4 1624.0,1198.0 1624.5,1196.8 1625.0,1195.9 1625.5,1198.7 1626.0,1197.5 1626.5,1197.8 1627.0,1196.6 1627.5,1197.7 1628.0,1197.1 1628.5,1196.3 1629.0,1197.8 1629.5,1198.1 1630.0,1198.2 1630.5,1199.1 1631.0,1196.1 1631.5,1198.7 1632.0,1197.7 1632.5,1198.4 1633.0,1199.2 1633.5,1198.5 1634.0,1197.5 1634.5,1199.2 1635.0,1198.3 1635.5,1199.6 1636.0,1200.0 1636.5,1198.4 1636.9,1197.8 1637.0,1199.3 1637.5,1200.2 1638.0,1199.5 1638.5,1197.6 1639.0,1197.0 1639.5,1198.0 1640.0,1198.0 1640.5,1199.8 1641.0,1199.3 1641.5,1200.3 1642.0,1199.3 1642.5,1201.2 1643.0,1199.1 1643.5,1199.6 1644.0,1198.6 1644.5,1199.7 1645.0,1200.5 1645.5,1200.0 1646.0,1200.5 1646.5,1198.4 1647.0,1200.0 1647.5,1201.8 1648.0,1200.2 1648.5,1199.5 1649.0,1199.0 1649.5,1198.6 1650.0,1199.6 1650.5,1201.4 1651.0,1200.6 1651.5,1200.2 1652.0,1199.4 1652.5,1198.9 1653.0,1202.8 1653.5,1199.6 1654.0,1200.2 1654.5,1199.5 1655.0,1200.2 1655.5,1199.6 1656.0,1200.3 1656.5,1201.8 1657.0,1199.4 1657.5,1200.9 1658.0,1200.4 1658.5,1201.4 1659.0,1200.0 1659.5,1201.2 1660.0,1199.5 1660.5,1198.3 1661.0,1198.7 1661.5,1199.0 1661.9,1198.8 1662.0,1199.7 1662.5,1201.5 1663.0,1199.3 1663.5,1201.3 1664.0,1201.1 1664.5,1200.1 1665.0,1199.7 1665.5,1201.1 1666.0,1201.1 1666.5,1200.1 1667.0,1200.4 1667.5,1200.5 1668.0,1198.9 1668.5,1200.1 1669.0,1199.9 1669.5,1201.4 1670.0,1198.1 1670.5,1198.8 1671.0,1200.2 1671.5,1199.6 1672.0,1199.9 1672.5,1200.4 1673.0,1200.0 1673.5,1200.2 1674.0,1200.7 1674.5,1198.5 1675.0,1201.1 1675.5,1198.2 1676.0,1202.8 1676.5,1202.1 1677.0,1200.4 1677.5,1202.1 1678.0,1200.6 1678.5,1201.1 1679.0,1201.6 1679.5,1201.4 1680.0,1201.4 1680.5,1202.3 1681.0,1201.4 1681.5,1201.0 1682.0,1200.0 1682.5,1198.6 1683.0,1202.2 1683.5,1201.4 1684.0,1199.4 1684.5,1201.8 1685.0,1201.8 1685.5,1199.2 1686.0,1200.5 1686.5,1201.0 1686.8,1202.8 1687.0,1201.9 1687.5,1202.2 1688.0,1201.3 1688.5,1202.1 1689.0,1199.6 1689.5,1201.3 1690.0,1200.9 1690.5,1198.4 1691.0,1200.0 1691.5,1201.6 1692.0,1202.4 1692.5,1202.1 1693.0,1199.8 1693.5,1200.4 1694.0,1199.9 1694.5,1201.8 1695.0,1199.5 1695.5,1199.2 1696.0,1198.4 1696.5,1200.4 1697.0,1200.7 1697.5,1199.8 1698.0,1199.8 1698.5,1200.5 1699.0,1202.2 1699.5,1199.2 1700.0,1200.6 1700.5,1200.9 1701.0,1201.1 1701.5,1202.1 1702.0,1201.8 1702.5,1201.5 1703.0,1203.1 1703.5,1203.2 1704.0,1202.4 1704.5,1202.3 1705.0,1200.5 1705.5,1201.6 1706.0,1200.5 1706.5,1200.3 1707.0,1201.5 1707.5,1200.2 1708.0,1201.3 1708.5,1201.8 1709.0,1202.7 1709.5,1201.7 1710.0,1202.2 1710.5,1203.4"/></defs>
<g clip-path="url(#plot)" fill="none" stroke="#0000ff" stroke-linejoin="round" stroke-linecap="butt"><use href="#c2" stroke-width="10.6"/><use href="#c2" stroke-width="12.0" shape-rendering="crispEdges"/></g>
<defs><polyline id="c3" points="114.0,1445.3 114.5,1445.7 115.0,1447.5 115.5,1446.4 116.0,1444.0 116.5,1445.5 117.0,1444.7 117.5,1445.4 118.0,1443.8 118.5,1446.0 119.0,1446.3 119.5,1447.7 120.0,1446.4 120.5,1446.5 121.0,1444.6 121.5,1448.4 122.0,1444.5 122.5,1447.8 123.0,1446.6 123.5,1446.3 124.0,1446.6 124.5,1446.5 125.0,1447.4 125.5,1446.9 126.0,1448.6 126.5,1445.6 127.0,1447.6 127.5,1447.0 128.0,1448.8 128.5,1446.2 129.0,1448.1 129.5,1448.8 130.0,1447.4 130.5,1450.0 131.0,1449.6 131.5,1450.6 132.0,1450.8 132.5,1449.3 133.0,1449.8 133.5,1450.7 134.0,1451.7 134.5,1451.8 135.0,1450.5 135.5,1450.7 136.0,1450.8 136.5,1451.2 137.0,1451.6 137.4,1451.7 137.5,1453.8 138.0,1451.7 138.5,1451.9 139.0,1452.5 139.5,1451.0 140.0,1451.3 140.5,1451.5 141.0,1452.2 141.5,1450.1 142.0,1452.3 142.5,1450.4 143.0,1450.5 143.5,1450.9 144.0,1450.5 144.5,1450.7 145.0,1449.8 145.5,1449.7 146.0,1450.1 146.5,1448.9 147.0,1451.0 147.4,1449.0 147.5,1448.5 148.0,1451.7 148.5,1449.6 149.0,1448.8 149.5,1451.7 150.0,1449.7 150.5,1451.0 151.0,1449.3 151.5,1449.9 152.0,1448.5 152.5,1448.3 153.0,1449.3 153.5,1450.1 154.0,1451.0 154.5,1452.6 155.0,1449.5 155.5,1451.6 156.0,1450.4 156.5,1451.2 157.0,1450.5 157.5,1450.9 158.0,1451.9 158.5,1451.9 159.0,1453.1 159.5,1452.5 160.0,1454.2 160.5,1453.2 161.0,1453.1 161.5,1454.1 162.0,1453.6 162.5,1453.3 163.0,1453.5 163.5,1453.7 164.0,1454.8 164.5,1454.6 165.0,1454.2 165.5,1454.6 166.0,1453.6 166.5,1454.6 167.0,1453.1 167.4,1455.6 167.5,1454.5 168.0,1454.7 168.5,1455.2 169.0,1454.9 169.5,1454.8 170.0,1456.2 170.5,1455.3 171.0,1454.2 171.5,1455.3 172.0,1453.2 172.5,1455.9 173.0,1454.0 173.5,1453.9 174.0,1455.8 174.5,1455.7 175.0,1453.9 175.5,1454.3 176.0,1454.7 176.5,1455.2 177.0,1453.5 177.5,1453.8 178.0,1454.8 178.5,1453.8 179.0,1454.2 179.5,1453.9 180.0,1452.3 180.5,1452.5 181.0,1450.8 181.5,1452.8 182.0,1454.0 182.5,1451.5 183.0,1453.4 183.5,1453.0 184.0,1452.0 184.5,1452.0 185.0,1452.1 185.5,1451.0 186.0,1451.3 186.5,1451.5 187.0,1452.2 187.3,1452.7 187.5,1451.6 188.0,1453.2 188.5,1451.6 189.0,1452.1 189.5,1452.5 190.0,1452.2 190.5,1452.2 191.0,1452.5 191.5,1451.7 192.0,1451.4 192.5,1451.7 193.0,1452.8 193.5,1451.8 194.0,1453.7 194.5,1452.1 195.0,1449.0 195.5,1451.4 196.0,1453.3 196.5,1451.7 197.0,1451.2 197.5,1450.6 198.0,1452.7 198.5,1452.4 199.0,1452.2 199.5,1452.1 200.0,1453.2 200.5,1452.5 201.0,1450.5 201.5,1452.3 202.0,1451.6 202.5,1451.4 203.0,1452.2 203.5,1451.3 204.0,1448.2 204.5,1452.3 205.0,1451.6 205.5,1450.4 206.0,1450.1 206.5,1450.8 207.0,1449.3 207.3,1450.8 207.5,1450.3 208.0,1450.2 208.5,1449.7 209.0,1449.9 209.5,1451.5 210.0,1451.4 210.5,1450.3 211.0,1449.6 211.5,1448.6 212.0,1450.0 212.5,1450.7 213.0,1447.3 213.5,1449.9 214.0,1446.4 214.5,1448.0 215.0,1448.4 215.5,1446.3 216.0,1445.8 216.5,1447.2 217.0,1447.6 217.5,1445.9 218.0,1447.4 218.5,1444.9 219.0,1447.1 219.5,1445.0 219.8,1444.8 220.0,1444.9 220.5,1444.2 221.0,1445.6 221.5,1445.7 222.0,1443.7 222.5,1442.6 223.0,1441.1 223.5,1441.0 224.0,1441.4 224.5,1440.8 225.0,1440.4 225.5,1439.8 226.0,1439.8 226.5,1437.3 227.0,1437.2 227.5,1439.3 228.0,1438.5 228.5,1436.3 229.0,1437.6 229.5,1434.6 230.0,1434.5 230.5,1432.4 231.0,1435.1 231.5,1433.6 232.0,1434.2 232.3,1433.3 232.5,1432.1 233.0,1431.3 233.5,1431.5 234.0,1429.0 234.5,1428.4 235.0,1428.2 235.5,1428.5 236.0,1427.7 236.5,1427.8 237.0,1424.3 237.5,1425.1 238.0,1421.8 238.5,1422.5 239.0,1420.9 239.5,1421.8 240.0,1419.2 240.5,1416.6 241.0,1416.5 241.5,1414.8 242.0,1412.6 242.3,1411.7 242.5,1410.3 243.0,1413.6 243.5,1408.7 244.0,1408.3 244.5,1403.9 245.0,1402.2 245.5,1401.5 246.0,1399.6 246.5,1399.1 247.0,1394.9 247.5,1395.1 248.0,1394.3 248.5,1388.7 249.0,1389.0 249.5,1384.6 249.7,1385.8 250.0,1384.5 250.5,1383.9 251.0,1378.2 251.5,1376.9 252.0,1375.7 252.5,1370.4 253.0,1369.3 253.5,1365.6 254.0,1363.2 254.5,1362.3 255.0,1359.6 255.5,1358.8 256.0,1354.0 256.5,1350.3 257.0,1345.3 257.5,1342.0 258.0,1339.4 258.5,1333.9 259.0,1333.8 259.5,1327.8 260.0,1323.2 260.5,1319.3 261.0,1316.0 261.5,1311.3 262.0,1304.1 262.5,1298.9 263.0,1292.4 263.5,1285.6 263.8,1283.4 264.0,1280.9 264.5,1273.7 265.0,1270.9 265.5,1263.1 266.0,1261.1 266.1,1259.2 266.5,1257.0 267.0,1254.7 267.5,1254.3 268.0,1250.1 268.5,1249.1 268.8,1249.7 269.0,1245.6 269.5,1241.7 270.0,1237.0 270.5,1230.4 270.8,1229.7 271.0,1226.6 271.5,1225.5 272.0,1222.4 272.2,1220.3 272.5,1221.6 273.0,1217.3 273.5,1214.5 274.0,1211.5 274.5,1211.3 274.9,1212.0 275.0,1212.8 275.5,1215.5 276.0,1212.3 276.5,1216.0 277.0,1220.6 277.5,1221.3 277.7,1222.4 278.0,1224.9 278.5,1225.1 279.0,1227.4 279.2,1228.2 279.5,1232.7 280.0,1237.1 280.5,1240.7 281.0,1246.6 281.2,1247.1 281.5,1250.6 282.0,1253.4 282.5,1256.3 282.9,1259.7 283.0,1260.1 283.5,1270.1 284.0,1279.1 284.3,1283.3 284.5,1285.9 285.0,1289.9 285.5,1294.1 286.0,1297.9 286.5,1301.1 287.0,1306.9 287.5,1308.7 288.0,1312.0 288.4,1316.3 288.5,1311.6 289.0,1319.4 289.5,1323.1 290.0,1325.4 290.5,1331.0 291.0,1331.5 291.5,1338.0 292.0,1342.9 292.5,1342.7 293.0,1347.4 293.4,1351.9 293.5,1352.8 294.0,1355.5 294.5,1360.2 295.0,1363.5 295.5,1365.0 296.0,1369.9 296.5,1371.7 297.0,1373.8 297.5,1376.4 298.0,1383.3 298.4,1384.2 298.5,1387.3 299.0,1385.9 299.5,1389.7 300.0,1392.9 300.5,1394.6 301.0,1397.6 301.5,1399.3 302.0,1400.6 302.5,1400.5 303.0,1404.1 303.5,1409.1 304.0,1409.8 304.5,1412.5 304.6,1410.8 305.0,1413.1 305.5,1414.1 306.0,1417.4 306.5,1418.5 307.0,1420.5 307.5,1423.7 308.0,1422.0 308.5,1425.3 309.0,1424.1 309.5,1428.4 310.0,1428.0 310.5,1429.7 311.0,1431.0 311.5,1433.6 312.0,1432.3 312.1,1431.9 312.5,1431.7 313.0,1434.3 313.5,1433.9 314.0,1435.2 314.5,1436.6 315.0,1438.0 315.5,1436.7 316.0,1438.6 316.5,1440.2 317.0,1436.9 317.5,1440.8 318.0,1442.3 318.5,1439.7 319.0,1441.5 319.5,1439.5 320.0,1441.7 320.5,1441.4 321.0,1442.7 321.5,1442.0 322.0,1442.7 322.5,1443.6 323.0,1443.5 323.5,1443.8 324.0,1444.4 324.5,1443.8 324.6,1444.9 325.0,1446.0 325.5,1443.5 326.0,1446.6 326.5,1446.0 327.0,1445.9 327.5,1445.9 328.0,1446.7 328.5,1447.2 329.0,1448.8 329.5,1447.5 330.0,1450.2 330.5,1448.6 331.0,1450.4 331.5,1451.2 332.0,1449.1 332.5,1451.6 333.0,1453.0 333.5,1450.6 334.0,1451.8 334.5,1451.1 335.0,1451.1 335.5,1450.8 336.0,1450.8 336.5,1452.6 337.0,1453.3 337.5,1452.7 338.0,1454.5 338.5,1454.2 339.0,1454.2 339.5,1453.3 340.0,1456.4 340.5,1456.2 341.0,1453.0 341.5,1454.1 342.0,1454.7 342.5,1456.2 343.0,1456.6 343.5,1455.2 344.0,1455.9 344.5,1456.4 344.6,1454.4 345.0,1456.1 345.5,1455.3 346.0,1456.0 346.5,1456.0 347.0,1455.2 347.5,1455.6 348.0,1456.7 348.5,1456.9 349.0,1456.6 349.5,1457.9 350.0,1456.7 350.5,1456.1 351.0,1457.1 351.5,1457.5 352.0,1457.7 352.5,1459.0 353.0,1458.7 353.5,1459.6 354.0,1459.6 354.5,1459.2 355.0,1460.3 355.5,1458.9 356.0,1459.2 356.5,1458.2 357.0,1459.5 357.5,1459.6 358.0,1460.5 358.5,1462.0 359.0,1462.6 359.5,1461.4 360.0,1460.5 360.5,1461.2 361.0,1460.7 361.5,1460.1 362.0,1460.7 362.5,1460.7 363.0,1460.6 363.5,1462.5 364.0,1460.9 364.5,1461.1 365.0,1462.3 365.5,1461.2 366.0,1460.9 366.5,1461.2 367.0,1462.3 367.5,1462.1 368.0,1462.0 368.5,1461.3 369.0,1461.0 369.5,1462.8 370.0,1461.0 370.5,1462.3 371.0,1461.5 371.5,1462.4 372.0,1462.5 372.5,1463.5 373.0,1459.9 373.5,1463.5 374.0,1461.7 374.5,1462.8 375.0,1463.3 375.5,1462.0 376.0,1462.5 376.5,1463.0 377.0,1462.5 377.5,1462.1 378.0,1462.9 378.5,1462.9 379.0,1461.4 379.5,1463.8 380.0,1462.8 380.5,1460.6 381.0,1462.2 381.5,1464.6 382.0,1464.7 382.5,1463.6 383.0,1462.0 383.5,1463.3 384.0,1464.4 384.5,1463.7 385.0,1463.0 385.5,1462.7 386.0,1464.2 386.5,1463.6 387.0,1464.2 387.5,1464.3 388.0,1465.3 388.5,1464.1 389.0,1464.3 389.5,1462.7 390.0,1465.2 390.5,1464.8 391.0,1463.9 391.5,1461.8 392.0,1463.2 392.5,1463.7 393.0,1465.4 393.5,1464.1 394.0,1464.4 394.5,1464.5 395.0,1465.1 395.5,1463.1 396.0,1463.3 396.5,1463.0 397.0,1463.8 397.5,1463.8 398.0,1464.2 398.5,1463.1 399.0,1463.8 399.5,1462.8 400.0,1465.3 400.5,1463.0 401.0,1465.8 401.5,1465.0 402.0,1462.5 402.5,1464.4 403.0,1464.2 403.5,1462.4 404.0,1464.2 404.5,1463.6 405.0,1463.8 405.5,1462.6 406.0,1463.1 406.5,1463.3 407.0,1462.7 407.5,1462.4 408.0,1462.9 408.5,1462.3 409.0,1463.5 409.5,1460.8 410.0,1464.3 410.5,1462.9 411.0,1463.3 411.5,1463.7 412.0,1461.9 412.5,1465.0 413.0,1461.9 413.5,1463.1 414.0,1462.8 414.5,1463.5 415.0,1462.4 415.5,1461.3 416.0,1462.9 416.5,1460.5 417.0,1462.5 417.5,1462.3 418.0,1464.0 418.5,1462.4 419.0,1462.3 419.5,1462.1 420.0,1462.0 420.5,1462.1 421.0,1462.9 421.5,1461.1 422.0,1462.1 422.5,1461.0 423.0,1462.0 423.5,1462.2 424.0,1460.8 424.4,1461.2 424.5,1461.7 425.0,1462.2 425.5,1462.4 426.0,1461.4 426.5,1460.7 427.0,1460.2 427.5,1462.5 428.0,1463.2 428.5,1462.4 429.0,1463.3 429.5,1461.2 430.0,1461.0 430.5,1462.5 431.0,1460.1 431.5,1461.6 432.0,1461.5 432.5,1461.4 433.0,1463.0 433.5,1460.7 434.0,1461.2 434.5,1459.7 435.0,1460.5 435.5,1460.9 436.0,1461.1 436.5,1461.3 437.0,1461.7 437.5,1460.6 438.0,1459.1 438.5,1460.8 439.0,1461.0 439.5,1459.5 440.0,1459.7 440.5,1462.0 441.0,1461.2 441.5,1461.2 442.0,1460.6 442.5,1460.0 443.0,1459.2 443.5,1460.2 444.0,1459.5 444.5,1459.3 445.0,1459.6 445.5,1459.5 446.0,1460.4 446.5,1458.6 446.9,1461.7 447.0,1458.4 447.5,1458.8 448.0,1459.8 448.5,1458.0 449.0,1458.2 449.5,1458.7 450.0,1455.7 450.5,1457.7 451.0,1456.8 451.5,1457.1 452.0,1457.5 452.5,1457.5 453.0,1458.1 453.5,1457.6 454.0,1456.9 454.5,1455.7 455.0,1456.7 455.5,1454.6 456.0,1455.3 456.5,1456.7 457.0,1455.8 457.5,1453.2 458.0,1453.7 458.5,1454.9 459.0,1454.2 459.4,1454.5 459.5,1451.5 460.0,1452.0 460.5,1453.2 461.0,1452.5 461.5,1453.6 462.0,1453.7 462.5,1454.2 463.0,1454.0 463.5,1455.1 464.0,1455.7 464.5,1455.3 465.0,1454.1 465.5,1456.8 466.0,1455.8 466.5,1456.1 467.0,1456.0 467.5,1454.4 468.0,1456.8 468.5,1455.7 469.0,1455.4 469.5,1458.1 470.0,1456.8 470.5,1457.5 471.0,1458.0 471.5,1458.5 472.0,1455.0 472.5,1456.0 473.0,1457.4 473.5,1456.2 474.0,1453.7 474.3,1457.0 474.5,1456.9 475.0,1457.3 475.5,1456.7 476.0,1456.2 476.5,1456.9 477.0,1456.7 477.5,1456.2 478.0,1457.0 478.5,1457.1 479.0,1455.8 479.5,1457.8 480.0,1457.4 480.5,1457.1 481.0,1453.5 481.5,1456.3 482.0,1456.2 482.5,1455.5 483.0,1457.2 483.5,1455.0 484.0,1457.6 484.5,1456.6 485.0,1455.7 485.5,1457.6 486.0,1456.6 486.5,1456.3 487.0,1454.5 487.5,1456.1 488.0,1456.7 488.5,1456.2 489.0,1453.6 489.5,1456.2 490.0,1456.4 490.5,1455.6 491.0,1454.2 491.5,1453.0 491.8,1453.6 492.0,1453.9 492.5,1454.6 493.0,1454.7 493.5,1453.1 494.0,1451.9 494.5,1452.9 495.0,1451.6 495.5,1454.2 496.0,1451.4 496.5,1453.0 497.0,1453.1 497.5,1450.8 498.0,1452.4 498.5,1450.7 499.0,1449.6 499.5,1448.9 500.0,1449.6 500.5,1450.5 501.0,1447.3 501.5,1450.2 502.0,1449.5 502.5,1448.7 503.0,1449.1 503.5,1448.8 504.0,1448.5 504.5,1449.2 505.0,1447.2 505.5,1450.1 506.0,1448.6 506.5,1446.5 507.0,1444.7 507.5,1446.6 508.0,1446.1 508.5,1447.3 509.0,1447.1 509.5,1448.2 510.0,1445.7 510.5,1446.6 511.0,1445.0 511.5,1444.9 512.0,1446.8 512.5,1444.5 513.0,1444.2 513.5,1443.5 514.0,1443.9 514.5,1444.1 515.0,1443.2 515.5,1442.1 516.0,1443.7 516.5,1442.0 517.0,1442.0 517.5,1442.1 518.0,1441.8 518.5,1438.5 519.0,1443.0 519.5,1441.7 520.0,1442.6 520.5,1442.9 521.0,1438.4 521.5,1438.7 522.0,1439.5 522.5,1440.1 523.0,1438.0 523.5,1437.8 524.0,1439.1 524.5,1436.4 525.0,1437.3 525.5,1438.0 526.0,1435.9 526.5,1436.6 527.0,1434.6 527.5,1431.9 528.0,1432.3 528.5,1432.2 529.0,1431.7 529.5,1431.7 530.0,1431.5 530.5,1430.7 531.0,1430.0 531.5,1428.7 532.0,1428.5 532.5,1427.6 533.0,1426.3 533.5,1428.1 534.0,1422.9 534.5,1425.2 534.9,1422.3 535.0,1423.7 535.5,1425.0 536.0,1423.0 536.5,1424.7 537.0,1420.9 537.5,1421.2 538.0,1420.2 538.5,1420.6 539.0,1419.4 539.5,1418.4 540.0,1418.1 540.5,1418.8 541.0,1417.1 541.5,1416.7 542.0,1415.9 542.5,1414.9 543.0,1413.2 543.5,1413.0 544.0,1413.7 544.5,1410.0 544.9,1412.8 545.0,1410.8 545.5,1408.9 546.0,1408.4 546.5,1409.1 547.0,1407.8 547.5,1407.0 548.0,1408.4 548.5,1408.3 549.0,1401.8 549.5,1403.6 550.0,1399.7 550.5,1397.5 551.0,1397.7 551.5,1398.8 552.0,1395.9 552.5,1394.4 553.0,1395.4 553.5,1392.6 553.9,1390.5 554.0,1392.6 554.5,1389.0 555.0,1385.1 555.5,1382.2 556.0,1380.6 556.5,1379.1 557.0,1377.7 557.5,1375.0 558.0,1371.1 558.2,1368.1 558.5,1368.3 558.9,1365.2 559.0,1363.8 559.5,1366.8 559.6,1369.2 560.0,1372.0 560.5,1376.2 561.0,1377.1 561.5,1383.5 562.0,1381.6 562.5,1385.9 563.0,1389.4 563.5,1390.9 564.0,1390.2 564.5,1393.6 565.0,1395.9 565.5,1396.7 566.0,1395.6 566.5,1400.5 567.0,1396.6 567.4,1399.7 567.5,1398.1 568.0,1400.0 568.5,1401.2 569.0,1403.6 569.5,1402.0 570.0,1405.2 570.5,1407.7 571.0,1406.7 571.5,1408.1 572.0,1408.9 572.5,1408.3 573.0,1410.0 573.5,1411.9 573.6,1412.8 574.0,1415.8 574.5,1416.8 575.0,1415.8 575.5,1417.8 576.0,1419.0 576.5,1419.1 577.0,1425.3 577.5,1425.9 578.0,1424.6 578.5,1428.7 579.0,1432.9 579.5,1431.9 579.9,1432.7 580.0,1432.5 580.5,1432.5 581.0,1433.3 581.5,1435.0 582.0,1437.4 582.5,1438.3 583.0,1440.6 583.5,1443.0 584.0,1442.7 584.5,1443.9 585.0,1443.5 585.5,1443.3 586.0,1447.8 586.5,1446.9 587.0,1448.1 587.3,1446.7 587.5,1445.4 588.0,1449.1 588.5,1446.0 589.0,1448.8 589.5,1449.2 590.0,1450.7 590.5,1451.7 591.0,1452.0 591.5,1449.3 592.0,1453.2 592.5,1450.9 593.0,1454.2 593.5,1453.7 594.0,1453.5 594.5,1454.6 595.0,1454.4 595.5,1456.1 596.0,1457.5 596.5,1457.7 597.0,1457.2 597.5,1458.5 598.0,1458.1 598.5,1459.9 599.0,1458.6 599.5,1457.8 599.8,1458.4 600.0,1458.2 600.5,1458.9 601.0,1459.3 601.5,1460.3 602.0,1460.7 602.5,1460.2 603.0,1460.6 603.5,1459.5 604.0,1459.8 604.5,1458.2 605.0,1460.0 605.5,1460.5 606.0,1463.6 606.5,1460.3 607.0,1462.0 607.5,1462.0 608.0,1461.1 608.5,1463.0 609.0,1463.0 609.5,1461.9 610.0,1461.4 610.5,1463.7 611.0,1463.0 611.5,1465.2 612.0,1464.8 612.5,1465.6 613.0,1464.9 613.5,1466.4 614.0,1465.8 614.5,1466.6 615.0,1465.6 615.5,1464.8 616.0,1464.5 616.5,1465.2 617.0,1465.9 617.5,1465.1 618.0,1468.0 618.5,1466.1 619.0,1466.6 619.5,1466.3 619.8,1465.0 620.0,1467.0 620.5,1466.7 621.0,1467.0 621.5,1465.4 622.0,1466.0 622.5,1465.7 623.0,1466.6 623.5,1464.3 624.0,1466.1 624.5,1466.6 625.0,1465.1 625.5,1464.8 626.0,1466.7 626.5,1465.8 627.0,1466.5 627.5,1466.0 628.0,1466.1 628.5,1464.8 629.0,1463.0 629.5,1465.3 630.0,1464.2 630.5,1465.3 631.0,1464.1 631.5,1465.5 632.0,1463.5 632.3,1464.2 632.5,1464.4 633.0,1463.1 633.5,1463.1 634.0,1462.4 634.5,1461.2 635.0,1463.1 635.5,1460.7 636.0,1459.9 636.5,1460.7 637.0,1461.2 637.3,1461.2 637.5,1460.9 638.0,1460.9 638.5,1459.3 639.0,1461.9 639.5,1463.0 640.0,1460.9 640.5,1460.3 641.0,1463.2 641.5,1462.7 642.0,1459.5 642.5,1462.6 643.0,1462.1 643.5,1462.6 644.0,1465.7 644.5,1465.1 644.7,1464.3 645.0,1464.5 645.5,1466.0 646.0,1463.7 646.5,1465.4 647.0,1464.3 647.5,1465.7 648.0,1465.3 648.5,1464.5 649.0,1466.1 649.5,1465.7 650.0,1466.9 650.5,1464.9 651.0,1465.4 651.5,1464.6 652.0,1466.3 652.5,1464.6 653.0,1465.2 653.5,1466.4 654.0,1465.8 654.5,1465.7 655.0,1465.8 655.5,1466.0 656.0,1466.3 656.5,1465.5 657.0,1464.1 657.5,1467.0 658.0,1464.8 658.5,1467.3 659.0,1466.1 659.5,1468.9 660.0,1467.4 660.5,1466.8 661.0,1467.2 661.5,1465.0 662.0,1466.3 662.5,1465.8 663.0,1466.2 663.5,1464.4 664.0,1464.3 664.5,1466.8 664.7,1466.1 665.0,1465.4 665.5,1465.6 666.0,1465.0 666.5,1465.2 667.0,1466.2 667.5,1465.3 668.0,1465.9 668.5,1464.4 669.0,1463.3 669.5,1464.3 670.0,1464.9 670.5,1464.2 671.0,1464.9 671.5,1464.8 672.0,1465.9 672.5,1465.6 673.0,1465.6 673.5,1463.8 674.0,1464.7 674.5,1465.4 675.0,1464.2 675.5,1463.8 676.0,1463.0 676.5,1464.3 677.0,1463.5 677.5,1464.0 678.0,1462.7 678.5,1464.6 679.0,1462.5 679.5,1461.3 680.0,1462.5 680.5,1462.7 681.0,1463.2 681.5,1461.4 682.0,1461.1 682.2,1461.3 682.5,1461.1 683.0,1459.5 683.5,1462.2 684.0,1462.7 684.5,1460.9 685.0,1460.7 685.5,1461.4 686.0,1460.6 686.5,1462.1 687.0,1460.9 687.5,1462.2 688.0,1460.7 688.5,1460.6 689.0,1460.5 689.5,1460.6 690.0,1462.4 690.5,1462.9 691.0,1462.3 691.5,1462.4 692.0,1460.1 692.5,1463.1 693.0,1460.8 693.5,1463.3 694.0,1464.6 694.5,1462.6 695.0,1463.3 695.5,1463.3 696.0,1461.4 696.5,1461.4 697.0,1461.6 697.5,1462.3 698.0,1463.1 698.5,1462.6 699.0,1463.7 699.5,1462.3 700.0,1461.4 700.5,1462.8 701.0,1462.7 701.5,1461.4 702.0,1463.7 702.1,1462.1 702.5,1462.6 703.0,1463.5 703.5,1462.0 704.0,1463.0 704.5,1462.3 705.0,1462.0 705.5,1461.2 706.0,1460.3 706.5,1459.5 707.0,1459.7 707.5,1459.7 708.0,1458.0 708.5,1456.9 709.0,1456.1 709.5,1455.1 710.0,1453.2 710.4,1452.0 710.5,1451.7 711.0,1447.4 711.5,1440.7 711.9,1434.4 712.0,1432.7 712.5,1422.6 713.0,1409.2 713.5,1392.0 713.7,1384.0 714.0,1364.6 714.5,1324.4 714.6,1318.9 715.0,1301.0 715.2,1297.6 715.5,1303.1 715.9,1319.0 716.0,1323.2 716.5,1351.8 717.0,1380.0 717.1,1384.0 717.5,1397.7 718.0,1412.3 718.5,1424.5 719.0,1434.5 719.5,1443.7 720.0,1450.7 720.2,1452.0 720.5,1453.2 721.0,1454.9 721.5,1455.9 722.0,1456.6 722.5,1458.0 723.0,1458.9 723.5,1460.3 724.0,1458.0 724.5,1458.8 725.0,1461.7 725.5,1462.3 726.0,1462.4 726.5,1461.6 727.0,1463.1 727.5,1461.6 728.0,1461.1 728.5,1462.3 729.0,1462.5 729.5,1463.2 729.6,1463.3 730.0,1460.5 730.5,1462.2 731.0,1462.5 731.5,1461.0 732.0,1462.2 732.5,1462.6 733.0,1463.0 733.5,1461.8 734.0,1462.0 734.5,1461.5 735.0,1462.8 735.5,1462.2 736.0,1462.1 736.5,1463.4 737.0,1462.7 737.5,1461.8 738.0,1463.9 738.5,1463.7 739.0,1463.1 739.5,1461.6 740.0,1463.7 740.5,1462.1 741.0,1461.0 741.5,1462.6 742.0,1464.4 742.5,1462.3 743.0,1463.3 743.5,1464.0 744.0,1462.8 744.5,1462.1 745.0,1462.2 745.5,1462.7 746.0,1461.7 746.5,1462.5 747.0,1462.8 747.5,1461.9 748.0,1462.9 748.5,1462.8 749.0,1462.0 749.5,1462.1 749.6,1462.3 750.0,1462.0 750.5,1461.8 751.0,1460.9 751.5,1461.7 752.0,1462.0 752.5,1461.6 753.0,1459.8 753.5,1460.6 754.0,1460.2 754.5,1458.2 755.0,1459.1 755.5,1458.0 756.0,1457.3 756.5,1457.3 757.0,1456.1 757.5,1453.3 758.0,1454.9 758.5,1452.9 759.0,1453.3 759.5,1453.4 760.0,1451.7 760.3,1450.8 760.5,1450.7 761.0,1450.1 761.5,1447.8 762.0,1447.6 762.3,1448.8 762.5,1450.1 763.0,1448.8 763.5,1450.2 764.0,1449.3 764.3,1450.5 764.5,1450.9 765.0,1450.8 765.5,1453.4 766.0,1454.6 766.5,1453.3 767.0,1456.2 767.5,1457.1 768.0,1457.7 768.5,1458.3 769.0,1457.7 769.5,1458.5 770.0,1459.3 770.5,1458.7 771.0,1459.0 771.5,1460.5 772.0,1458.6 772.5,1459.3 773.0,1461.7 773.5,1460.2 774.0,1459.5 774.5,1460.7 775.0,1460.6 775.5,1460.4 776.0,1458.4 776.5,1460.0 777.0,1460.0 777.5,1461.6 778.0,1460.4 778.5,1459.5 779.0,1460.3 779.5,1460.9 780.0,1460.4 780.5,1460.6 781.0,1461.9 781.5,1460.7 782.0,1460.5 782.5,1458.9 783.0,1460.1 783.5,1457.8 784.0,1460.5 784.5,1458.7 785.0,1459.6 785.5,1460.4 786.0,1458.1 786.5,1460.2 787.0,1459.3 787.5,1460.2 788.0,1458.7 788.5,1458.4 789.0,1460.2 789.5,1459.2 790.0,1458.7 790.5,1457.3 791.0,1459.5 791.5,1457.9 792.0,1458.0 792.5,1457.5 793.0,1458.0 793.5,1458.3 794.0,1457.3 794.5,1457.1 795.0,1456.7 795.5,1458.7 796.0,1458.8 796.5,1456.8 797.0,1456.0 797.5,1457.0 798.0,1455.0 798.5,1456.7 799.0,1456.5 799.5,1456.1 800.0,1457.3 800.5,1457.3 801.0,1455.8 801.5,1454.9 802.0,1456.4 802.5,1456.6 803.0,1454.2 803.5,1454.6 804.0,1454.9 804.5,1453.2 805.0,1453.3 805.5,1455.6 806.0,1452.1 806.5,1453.9 807.0,1451.9 807.5,1453.6 808.0,1452.7 808.5,1453.0 809.0,1450.2 809.5,1451.5 810.0,1450.1 810.5,1451.1 811.0,1450.5 811.5,1449.5 812.0,1448.9 812.5,1448.7 813.0,1448.8 813.5,1447.7 814.0,1447.6 814.4,1447.1 814.5,1446.5 815.0,1448.1 815.5,1444.7 816.0,1446.8 816.5,1445.6 817.0,1442.4 817.5,1441.7 818.0,1443.1 818.5,1441.2 819.0,1441.6 819.5,1441.5 820.0,1439.7 820.5,1438.1 821.0,1437.4 821.5,1438.6 822.0,1435.6 822.5,1437.2 823.0,1436.7 823.5,1432.9 824.0,1433.0 824.4,1434.1 824.5,1430.9 825.0,1431.3 825.5,1431.0 826.0,1427.5 826.5,1428.4 827.0,1427.2 827.5,1425.5 828.0,1427.0 828.5,1423.7 829.0,1425.4 829.5,1422.1 830.0,1419.1 830.5,1418.9 831.0,1416.1 831.5,1416.4 831.9,1415.1 832.0,1412.6 832.5,1412.2 833.0,1411.7 833.5,1409.2 834.0,1405.7 834.5,1406.1 835.0,1404.4 835.5,1398.6 836.0,1400.8 836.5,1394.4 837.0,1395.6 837.5,1393.6 838.0,1392.7 838.2,1393.2 838.5,1390.6 839.0,1391.0 839.5,1392.8 840.0,1390.3 840.5,1391.3 841.0,1389.7 841.5,1384.9 842.0,1389.8 842.5,1387.8 843.0,1387.4 843.5,1385.7 844.0,1385.7 844.5,1384.9 845.0,1386.2 845.5,1386.2 845.6,1385.4 846.0,1385.3 846.5,1382.3 847.0,1384.5 847.5,1384.3 848.0,1386.0 848.5,1384.8 849.0,1385.2 849.5,1386.6 850.0,1386.1 850.5,1386.7 851.0,1389.2 851.5,1387.7 852.0,1387.3 852.5,1390.8 853.0,1392.1 853.5,1392.6 854.0,1390.2 854.4,1394.5 854.5,1393.3 855.0,1394.0 855.5,1394.5 856.0,1395.7 856.5,1396.4 857.0,1398.7 857.5,1397.7 858.0,1398.1 858.5,1400.1 859.0,1399.8 859.5,1402.4 860.0,1401.6 860.5,1403.1 861.0,1402.0 861.5,1405.1 861.9,1405.4 862.0,1403.7 862.5,1405.5 863.0,1407.0 863.5,1405.5 864.0,1406.1 864.5,1408.6 865.0,1409.0 865.5,1410.7 866.0,1407.6 866.5,1409.8 867.0,1408.4 867.5,1414.8 868.0,1410.9 868.5,1412.7 869.0,1415.8 869.5,1415.3 870.0,1412.5 870.5,1416.9 871.0,1414.5 871.5,1412.2 872.0,1413.1 872.5,1412.6 873.0,1411.5 873.3,1407.2 873.5,1412.0 874.0,1405.9 874.5,1406.2 874.8,1407.6 875.0,1405.4 875.5,1403.4 875.8,1402.3 876.0,1403.9 876.5,1406.2 876.9,1405.1 877.0,1406.6 877.5,1407.7 878.0,1410.2 878.5,1410.6 879.0,1415.3 879.5,1417.8 880.0,1418.1 880.5,1420.7 881.0,1420.5 881.5,1422.3 882.0,1421.8 882.5,1422.0 883.0,1422.7 883.5,1424.3 884.0,1425.3 884.5,1424.4 885.0,1425.6 885.5,1424.2 885.6,1424.3 886.0,1426.8 886.5,1426.2 887.0,1426.4 887.5,1424.9 888.0,1424.6 888.5,1426.2 889.0,1422.3 889.5,1423.0 890.0,1423.7 890.5,1423.1 891.0,1420.2 891.5,1418.3 892.0,1416.0 892.5,1415.8 893.0,1414.8 893.5,1413.1 894.0,1412.0 894.5,1409.9 895.0,1406.3 895.5,1403.3 895.8,1402.6 896.0,1402.4 896.5,1401.2 897.0,1394.5 897.5,1395.9 898.0,1392.5 898.5,1392.7 898.8,1393.4 899.0,1391.8 899.5,1391.0 900.0,1393.8 900.1,1395.0 900.5,1396.2 901.0,1399.7 901.5,1402.2 901.8,1404.4 902.0,1405.0 902.5,1409.2 903.0,1411.1 903.5,1413.7 904.0,1412.8 904.5,1415.2 905.0,1415.8 905.5,1417.2 906.0,1417.8 906.5,1419.0 907.0,1422.8 907.5,1421.5 908.0,1421.0 908.5,1422.7 909.0,1426.1 909.5,1424.2 910.0,1422.0 910.5,1422.8 911.0,1422.8 911.5,1423.0 912.0,1420.7 912.5,1422.1 913.0,1423.2 913.5,1421.1 914.0,1422.9 914.5,1423.1 915.0,1423.8 915.5,1424.1 916.0,1422.2 916.5,1422.6 917.0,1423.0 917.5,1423.2 918.0,1421.6 918.5,1420.3 919.0,1421.8 919.5,1422.0 920.0,1421.0 920.5,1421.6 921.0,1423.2 921.5,1420.5 921.8,1420.4 922.0,1419.9 922.5,1421.7 923.0,1422.1 923.5,1419.8 924.0,1422.7 924.5,1419.1 925.0,1419.9 925.5,1419.1 926.0,1420.7 926.5,1417.3 927.0,1419.9 927.5,1417.0 928.0,1415.1 928.5,1416.1 929.0,1416.5 929.5,1418.6 930.0,1415.0 930.5,1415.1 931.0,1417.5 931.5,1414.4 932.0,1412.9 932.5,1412.4 933.0,1411.0 933.5,1413.7 934.0,1414.9 934.5,1412.8 935.0,1411.7 935.5,1413.5 936.0,1412.9 936.5,1412.5 937.0,1413.2 937.4,1412.5 937.5,1412.0 938.0,1414.2 938.5,1410.3 939.0,1411.7 939.5,1413.2 940.0,1411.7 940.5,1415.9 941.0,1410.4 941.5,1414.4 942.0,1414.2 942.5,1413.9 943.0,1414.2 943.5,1413.0 944.0,1413.0 944.5,1416.1 945.0,1414.1 945.5,1412.4 946.0,1412.8 946.5,1412.3 947.0,1414.9 947.5,1416.3 948.0,1414.6 948.5,1415.8 949.0,1415.3 949.5,1417.3 949.9,1417.1 950.0,1417.0 950.5,1417.9 951.0,1413.3 951.5,1415.8 952.0,1412.1 952.5,1414.9 953.0,1414.5 953.5,1413.8 954.0,1413.2 954.5,1411.8 955.0,1410.8 955.5,1411.6 956.0,1409.0 956.5,1409.0 957.0,1405.8 957.5,1404.8 958.0,1401.9 958.5,1397.8 958.7,1397.4 959.0,1397.0 959.5,1393.1 959.7,1393.1 960.0,1391.8 960.5,1392.3 961.0,1390.7 961.5,1391.1 962.0,1393.0 962.5,1393.2 962.8,1393.4 963.0,1394.4 963.5,1397.8 963.8,1402.0 964.0,1402.5 964.5,1407.1 965.0,1412.0 965.5,1413.6 966.0,1415.4 966.5,1417.0 967.0,1418.3 967.5,1420.5 968.0,1418.9 968.5,1421.0 969.0,1422.9 969.5,1422.2 970.0,1422.7 970.5,1422.7 971.0,1424.1 971.5,1426.2 972.0,1427.7 972.5,1427.2 973.0,1428.8 973.5,1427.4 974.0,1425.3 974.5,1428.5 974.9,1425.2 975.0,1427.7 975.5,1428.2 976.0,1427.2 976.5,1428.6 977.0,1428.4 977.5,1429.5 978.0,1429.2 978.5,1430.8 979.0,1430.1 979.5,1431.9 980.0,1431.7 980.5,1432.3 981.0,1432.2 981.5,1431.4 982.0,1433.4 982.5,1432.8 983.0,1429.5 983.5,1431.0 984.0,1434.8 984.5,1432.8 985.0,1436.9 985.5,1434.4 986.0,1434.5 986.5,1433.4 987.0,1433.7 987.5,1434.2 988.0,1435.4 988.5,1434.7 989.0,1434.8 989.5,1433.9 989.8,1434.6 990.0,1434.6 990.5,1434.8 991.0,1433.8 991.5,1433.2 992.0,1434.1 992.5,1431.6 993.0,1433.2 993.5,1434.5 994.0,1436.4 994.5,1435.4 995.0,1435.0 995.5,1437.1 996.0,1436.3 996.5,1438.2 997.0,1436.6 997.5,1436.2 998.0,1436.8 998.5,1439.5 999.0,1439.4 999.5,1437.9 1000.0,1439.1 1000.5,1436.4 1001.0,1439.6 1001.5,1438.4 1002.0,1437.7 1002.5,1437.6 1003.0,1437.6 1003.5,1436.7 1004.0,1436.9 1004.5,1436.2 1005.0,1439.9 1005.5,1437.5 1006.0,1438.7 1006.5,1440.2 1007.0,1440.5 1007.5,1440.7 1008.0,1438.2 1008.5,1438.1 1009.0,1438.3 1009.5,1436.0 1009.8,1439.0 1010.0,1436.1 1010.5,1438.0 1011.0,1439.3 1011.5,1439.2 1012.0,1437.6 1012.5,1439.2 1013.0,1439.5 1013.5,1436.5 1014.0,1438.4 1014.5,1439.5 1015.0,1439.3 1015.5,1438.6 1016.0,1438.7 1016.5,1441.4 1017.0,1438.1 1017.5,1439.6 1018.0,1436.8 1018.5,1438.7 1019.0,1439.2 1019.5,1437.4 1020.0,1436.9 1020.5,1439.4 1021.0,1436.6 1021.5,1437.7 1022.0,1434.9 1022.5,1438.6 1023.0,1434.3 1023.5,1435.5 1024.0,1435.8 1024.5,1436.6 1025.0,1437.0 1025.5,1438.7 1026.0,1439.3 1026.5,1439.0 1027.0,1437.7 1027.5,1436.9 1028.0,1434.0 1028.5,1436.3 1029.0,1435.8 1029.5,1437.3 1029.8,1435.3 1030.0,1435.4 1030.5,1435.4 1031.0,1436.9 1031.5,1436.1 1032.0,1434.4 1032.5,1433.2 1033.0,1434.1 1033.5,1433.6 1034.0,1433.3 1034.5,1433.7 1035.0,1434.2 1035.5,1434.1 1036.0,1432.2 1036.5,1431.8 1037.0,1434.0 1037.5,1431.4 1038.0,1432.3 1038.5,1431.6 1039.0,1432.0 1039.5,1433.3 1040.0,1430.6 1040.5,1431.6 1041.0,1430.0 1041.5,1428.4 1042.0,1427.5 1042.5,1427.1 1043.0,1429.1 1043.5,1428.7 1044.0,1425.9 1044.5,1426.5 1045.0,1422.7 1045.5,1423.9 1046.0,1425.4 1046.5,1420.9 1047.0,1421.7 1047.5,1419.4 1048.0,1419.1 1048.5,1416.6 1049.0,1416.7 1049.5,1412.1 1050.0,1412.8 1050.5,1411.1 1051.0,1409.6 1051.5,1410.3 1052.0,1405.1 1052.5,1404.7 1052.6,1403.7 1053.0,1405.7 1053.5,1406.5 1054.0,1407.4 1054.5,1411.8 1055.0,1413.8 1055.5,1418.1 1056.0,1420.6 1056.5,1422.3 1057.0,1423.3 1057.5,1423.8 1058.0,1426.8 1058.5,1429.8 1059.0,1429.7 1059.5,1429.9 1060.0,1431.7 1060.5,1432.8 1061.0,1435.4 1061.5,1431.4 1062.0,1432.5 1062.5,1431.9 1063.0,1432.8 1063.5,1435.1 1064.0,1433.9 1064.5,1432.2 1065.0,1435.6 1065.5,1436.3 1066.0,1435.3 1066.5,1433.2 1067.0,1433.2 1067.5,1436.2 1068.0,1433.6 1068.5,1434.3 1069.0,1433.5 1069.5,1437.9 1070.0,1435.0 1070.5,1435.7 1071.0,1434.8 1071.5,1434.6 1072.0,1433.7 1072.5,1436.4 1073.0,1434.5 1073.5,1437.5 1074.0,1434.2 1074.5,1436.2 1075.0,1436.3 1075.5,1433.4 1076.0,1435.0 1076.5,1433.9 1077.0,1433.3 1077.5,1434.3 1078.0,1432.7 1078.5,1434.7 1079.0,1433.2 1079.5,1435.7 1079.7,1436.6 1080.0,1436.5 1080.5,1434.0 1081.0,1434.8 1081.5,1437.4 1082.0,1436.6 1082.5,1435.7 1083.0,1432.1 1083.5,1433.8 1084.0,1436.3 1084.5,1433.6 1085.0,1431.8 1085.5,1431.8 1086.0,1433.8 1086.5,1431.5 1087.0,1427.3 1087.5,1426.4 1088.0,1426.8 1088.5,1427.4 1089.0,1423.9 1089.5,1422.9 1090.0,1418.9 1090.5,1420.0 1091.0,1420.7 1091.5,1420.6 1092.0,1418.2 1092.5,1421.5 1093.0,1419.5 1093.5,1418.5 1094.0,1420.8 1094.5,1417.5 1095.0,1418.9 1095.4,1418.2 1095.5,1419.3 1096.0,1419.6 1096.5,1418.4 1097.0,1417.5 1097.5,1417.8 1098.0,1415.5 1098.5,1418.4 1099.0,1421.8 1099.5,1421.4 1100.0,1424.6 1100.5,1425.6 1100.8,1426.8 1101.0,1427.8 1101.5,1429.3 1102.0,1430.5 1102.5,1430.1 1103.0,1432.2 1103.5,1431.2 1104.0,1434.5 1104.5,1433.8 1105.0,1434.3 1105.5,1433.9 1106.0,1436.6 1106.5,1437.8 1107.0,1437.5 1107.5,1438.4 1108.0,1436.0 1108.5,1437.9 1109.0,1436.5 1109.5,1432.9 1110.0,1436.6 1110.5,1435.1 1111.0,1436.3 1111.5,1435.7 1112.0,1435.2 1112.5,1437.4 1113.0,1435.2 1113.5,1436.0 1114.0,1436.6 1114.5,1435.1 1115.0,1433.8 1115.5,1435.3 1116.0,1434.9 1116.5,1433.7 1117.0,1434.9 1117.5,1436.2 1118.0,1435.7 1118.5,1436.4 1119.0,1436.2 1119.5,1434.6 1120.0,1434.4 1120.5,1432.9 1121.0,1435.6 1121.5,1433.1 1122.0,1434.3 1122.5,1435.4 1123.0,1433.3 1123.5,1431.2 1124.0,1431.9 1124.5,1432.8 1124.6,1435.1 1125.0,1433.0 1125.5,1433.2 1126.0,1431.9 1126.5,1433.5 1127.0,1433.0 1127.5,1433.8 1128.0,1431.6 1128.5,1433.7 1129.0,1431.2 1129.5,1432.1 1130.0,1432.1 1130.5,1432.4 1131.0,1433.3 1131.5,1430.0 1132.0,1433.2 1132.5,1432.9 1133.0,1431.7 1133.5,1432.8 1134.0,1433.8 1134.5,1432.7 1135.0,1432.9 1135.5,1434.6 1136.0,1432.8 1136.5,1435.1 1137.0,1434.3 1137.5,1434.4 1138.0,1434.7 1138.5,1435.5 1139.0,1432.7 1139.5,1434.9 1140.0,1432.2 1140.5,1434.0 1141.0,1434.7 1141.5,1434.4 1142.0,1432.9 1142.5,1432.6 1143.0,1432.4 1143.5,1433.4 1144.0,1433.5 1144.5,1434.1 1144.6,1431.8 1145.0,1434.5 1145.5,1435.4 1146.0,1433.8 1146.5,1433.0 1147.0,1433.4 1147.5,1434.0 1148.0,1433.8 1148.5,1433.9 1149.0,1430.1 1149.5,1433.3 1150.0,1430.8 1150.5,1432.2 1151.0,1430.3 1151.5,1431.4 1152.0,1429.7 1152.5,1429.3 1153.0,1431.5 1153.5,1426.9 1154.0,1429.5 1154.5,1428.0 1155.0,1425.8 1155.5,1428.1 1156.0,1425.3 1156.5,1423.7 1157.0,1424.3 1157.5,1422.4 1158.0,1425.7 1158.5,1421.3 1159.0,1422.5 1159.5,1420.3 1160.0,1423.3 1160.2,1424.1 1160.5,1424.4 1161.0,1425.3 1161.5,1423.9 1162.0,1423.8 1162.5,1426.0 1163.0,1425.5 1163.5,1428.5 1164.0,1429.7 1164.5,1431.3 1165.0,1433.7 1165.5,1436.9 1166.0,1438.5 1166.5,1439.3 1167.0,1437.6 1167.5,1440.9 1168.0,1441.9 1168.5,1442.6 1169.0,1441.6 1169.5,1443.6 1170.0,1443.1 1170.5,1440.9 1171.0,1444.2 1171.5,1445.3 1172.0,1443.7 1172.5,1442.2 1173.0,1445.2 1173.5,1444.0 1174.0,1440.5 1174.5,1443.6 1175.0,1442.8 1175.5,1442.8 1176.0,1440.9 1176.5,1441.1 1177.0,1442.4 1177.5,1443.2 1178.0,1440.6 1178.5,1439.5 1179.0,1437.8 1179.5,1436.9 1180.0,1436.7 1180.5,1432.5 1181.0,1432.6 1181.3,1429.8 1181.5,1428.9 1182.0,1426.6 1182.5,1424.5 1183.0,1423.9 1183.5,1421.8 1183.6,1423.2 1184.0,1421.3 1184.5,1426.7 1184.8,1425.3 1185.0,1424.6 1185.5,1428.8 1186.0,1431.2 1186.3,1431.8 1186.5,1433.4 1187.0,1435.0 1187.5,1438.5 1188.0,1441.0 1188.5,1443.5 1189.0,1443.9 1189.5,1445.9 1190.0,1444.4 1190.5,1448.9 1191.0,1448.8 1191.5,1449.6 1192.0,1448.9 1192.5,1450.1 1193.0,1449.4 1193.5,1449.9 1194.0,1450.1 1194.5,1449.8 1195.0,1449.7 1195.5,1451.5 1196.0,1452.0 1196.5,1451.6 1197.0,1453.2 1197.5,1452.1 1198.0,1452.6 1198.5,1453.2 1199.0,1452.9 1199.5,1452.1 1200.0,1451.2 1200.5,1451.4 1201.0,1451.1 1201.5,1453.2 1202.0,1448.8 1202.5,1455.0 1203.0,1452.2 1203.5,1454.5 1204.0,1453.8 1204.5,1454.1 1205.0,1452.3 1205.5,1454.8 1206.0,1453.7 1206.5,1454.5 1207.0,1452.8 1207.5,1453.6 1208.0,1452.9 1208.5,1454.0 1209.0,1454.6 1209.5,1453.8 1210.0,1454.8 1210.5,1455.1 1211.0,1454.6 1211.5,1454.5 1212.0,1452.8 1212.5,1456.0 1213.0,1455.3 1213.5,1455.1 1214.0,1455.8 1214.5,1455.1 1215.0,1455.3 1215.5,1456.2 1216.0,1454.2 1216.5,1455.5 1217.0,1456.2 1217.5,1454.3 1218.0,1454.8 1218.5,1457.2 1219.0,1458.1 1219.5,1456.1 1220.0,1456.5 1220.5,1455.0 1221.0,1457.7 1221.5,1456.7 1222.0,1457.1 1222.5,1457.5 1223.0,1456.4 1223.5,1456.1 1224.0,1457.0 1224.5,1456.2 1225.0,1457.0 1225.5,1455.1 1226.0,1456.5 1226.5,1457.8 1227.0,1458.3 1227.5,1457.7 1228.0,1456.3 1228.5,1457.3 1229.0,1456.4 1229.4,1456.5 1229.5,1458.7 1230.0,1457.4 1230.5,1457.5 1231.0,1458.0 1231.5,1458.9 1232.0,1458.2 1232.5,1457.8 1233.0,1458.5 1233.5,1458.0 1234.0,1457.8 1234.5,1455.8 1235.0,1457.0 1235.5,1457.6 1236.0,1456.8 1236.5,1459.9 1237.0,1460.5 1237.5,1460.1 1238.0,1457.4 1238.5,1458.7 1239.0,1458.5 1239.5,1458.4 1240.0,1456.7 1240.5,1459.4 1241.0,1460.3 1241.5,1459.4 1242.0,1460.7 1242.5,1458.2 1243.0,1459.1 1243.5,1459.8 1244.0,1457.8 1244.5,1458.8 1245.0,1458.2 1245.5,1459.7 1246.0,1457.4 1246.5,1458.7 1247.0,1457.9 1247.5,1459.4 1248.0,1458.1 1248.5,1458.4 1249.0,1458.9 1249.4,1457.9 1249.5,1458.2 1250.0,1458.6 1250.5,1458.6 1251.0,1459.5 1251.5,1458.6 1252.0,1459.4 1252.5,1458.8 1253.0,1458.3 1253.5,1457.8 1254.0,1457.2 1254.5,1458.4 1255.0,1459.7 1255.5,1458.8 1256.0,1460.5 1256.5,1458.0 1257.0,1458.5 1257.5,1457.3 1258.0,1460.0 1258.5,1457.6 1259.0,1459.5 1259.5,1459.4 1260.0,1461.6 1260.5,1460.2 1261.0,1459.5 1261.5,1458.8 1262.0,1460.5 1262.5,1458.4 1263.0,1457.5 1263.5,1459.6 1264.0,1458.8 1264.5,1458.4 1265.0,1459.7 1265.5,1460.0 1266.0,1457.9 1266.5,1460.1 1267.0,1460.9 1267.5,1458.6 1268.0,1457.8 1268.5,1459.7 1269.0,1459.3 1269.5,1460.2 1270.0,1460.2 1270.5,1459.2 1271.0,1460.9 1271.5,1457.5 1272.0,1458.7 1272.5,1459.4 1273.0,1459.5 1273.5,1459.1 1274.0,1459.7 1274.3,1458.1 1274.5,1457.2 1275.0,1460.3 1275.5,1460.8 1276.0,1459.4 1276.5,1458.2 1277.0,1458.6 1277.5,1459.9 1278.0,1459.6 1278.5,1460.8 1279.0,1461.3 1279.5,1461.2 1280.0,1460.0 1280.5,1461.3 1281.0,1460.7 1281.5,1460.3 1282.0,1460.3 1282.5,1460.2 1283.0,1459.5 1283.5,1461.0 1284.0,1460.0 1284.5,1460.8 1285.0,1461.7 1285.5,1461.7 1286.0,1459.3 1286.5,1460.4 1287.0,1460.1 1287.5,1461.5 1288.0,1460.7 1288.5,1462.3 1289.0,1461.0 1289.5,1461.9 1290.0,1460.7 1290.5,1461.1 1291.0,1461.8 1291.5,1462.5 1292.0,1460.1 1292.5,1462.0 1293.0,1460.5 1293.5,1462.2 1294.0,1460.6 1294.5,1461.9 1295.0,1463.4 1295.5,1463.6 1296.0,1461.3 1296.5,1464.0 1297.0,1462.1 1297.5,1462.5 1298.0,1462.9 1298.5,1462.4 1299.0,1462.5 1299.3,1462.2 1299.5,1462.8 1300.0,1462.2 1300.5,1461.6 1301.0,1461.2 1301.5,1461.1 1302.0,1461.8 1302.5,1462.3 1303.0,1461.8 1303.5,1461.3 1304.0,1462.1 1304.5,1461.3 1305.0,1461.8 1305.5,1462.0 1306.0,1461.1 1306.5,1462.6 1307.0,1462.4 1307.5,1461.1 1308.0,1462.0 1308.5,1461.7 1309.0,1462.0 1309.5,1462.1 1310.0,1463.1 1310.5,1462.2 1311.0,1462.2 1311.5,1462.9 1312.0,1463.0 1312.5,1463.8 1313.0,1461.4 1313.5,1462.7 1314.0,1460.2 1314.5,1461.9 1315.0,1460.8 1315.5,1460.8 1316.0,1461.9 1316.5,1460.9 1317.0,1461.6 1317.5,1459.4 1318.0,1463.4 1318.5,1459.8 1319.0,1461.9 1319.5,1464.2 1320.0,1461.4 1320.5,1464.3 1321.0,1463.8 1321.5,1462.6 1322.0,1462.1 1322.5,1462.1 1323.0,1462.6 1323.5,1463.4 1324.0,1463.9 1324.5,1460.9 1325.0,1463.8 1325.5,1463.5 1326.0,1461.6 1326.5,1463.2 1327.0,1462.9 1327.5,1462.7 1328.0,1461.9 1328.5,1463.0 1329.0,1463.6 1329.5,1461.8 1330.0,1462.0 1330.5,1462.0 1331.0,1463.7 1331.5,1462.7 1332.0,1461.9 1332.5,1461.5 1333.0,1461.2 1333.5,1462.5 1334.0,1463.0 1334.5,1463.1 1335.0,1460.7 1335.5,1460.5 1336.0,1460.4 1336.5,1460.4 1337.0,1459.7 1337.5,1462.5 1338.0,1461.5 1338.5,1460.6 1339.0,1458.7 1339.5,1462.5 1340.0,1462.0 1340.5,1461.4 1341.0,1462.0 1341.5,1460.7 1342.0,1462.1 1342.5,1461.0 1343.0,1462.0 1343.5,1461.4 1344.0,1460.2 1344.5,1460.3 1345.0,1462.1 1345.5,1461.9 1346.0,1460.9 1346.5,1460.5 1347.0,1460.8 1347.5,1461.6 1348.0,1459.8 1348.5,1461.9 1349.0,1460.2 1349.5,1459.9 1349.9,1461.0 1350.0,1462.9 1350.5,1460.5 1351.0,1461.0 1351.5,1460.3 1352.0,1461.7 1352.5,1461.5 1353.0,1461.1 1353.5,1460.6 1354.0,1461.3 1354.5,1461.6 1355.0,1460.3 1355.5,1460.4 1356.0,1460.0 1356.5,1460.2 1357.0,1462.1 1357.5,1460.2 1358.0,1461.5 1358.5,1462.4 1359.0,1460.8 1359.5,1461.7 1360.0,1461.7 1360.5,1459.5 1361.0,1461.8 1361.5,1460.0 1362.0,1461.2 1362.5,1459.7 1363.0,1459.6 1363.5,1460.8 1364.0,1462.5 1364.5,1463.2 1365.0,1463.4 1365.5,1462.0 1366.0,1461.9 1366.5,1461.4 1367.0,1461.2 1367.5,1460.2 1368.0,1460.3 1368.5,1461.4 1369.0,1461.7 1369.5,1460.7 1370.0,1460.0 1370.5,1460.2 1371.0,1463.9 1371.5,1459.9 1372.0,1461.9 1372.5,1461.8 1373.0,1461.8 1373.5,1460.2 1374.0,1462.7 1374.5,1461.0 1374.9,1460.2 1375.0,1460.2 1375.5,1460.9 1376.0,1463.2 1376.5,1459.9 1377.0,1460.3 1377.5,1460.7 1378.0,1460.7 1378.5,1458.8 1379.0,1458.6 1379.5,1458.8 1380.0,1459.9 1380.5,1459.0 1381.0,1458.9 1381.1,1459.4 1381.5,1459.4 1382.0,1460.4 1382.5,1458.9 1383.0,1459.7 1383.5,1459.1 1384.0,1460.5 1384.5,1460.8 1385.0,1459.9 1385.5,1461.5 1386.0,1460.3 1386.5,1461.9 1387.0,1460.6 1387.5,1461.1 1388.0,1460.8 1388.5,1461.7 1389.0,1462.5 1389.5,1460.9 1390.0,1462.8 1390.5,1463.6 1391.0,1463.3 1391.5,1463.1 1392.0,1463.8 1392.3,1462.8 1392.5,1462.9 1393.0,1463.9 1393.5,1462.6 1394.0,1463.1 1394.5,1461.3 1395.0,1462.0 1395.5,1462.1 1396.0,1460.6 1396.5,1461.7 1397.0,1461.0 1397.5,1456.7 1398.0,1460.4 1398.5,1455.5 1399.0,1458.2 1399.3,1454.4 1399.5,1452.7 1400.0,1451.9 1400.5,1452.1 1400.6,1450.3 1401.0,1449.2 1401.5,1449.6 1401.6,1447.3 1402.0,1449.4 1402.5,1451.7 1402.6,1448.8 1403.0,1450.7 1403.5,1453.8 1404.0,1455.0 1404.5,1456.5 1405.0,1455.6 1405.5,1457.8 1406.0,1459.9 1406.5,1460.8 1407.0,1461.9 1407.5,1460.8 1408.0,1460.7 1408.5,1460.6 1409.0,1460.7 1409.5,1459.8 1410.0,1463.5 1410.5,1461.7 1411.0,1461.8 1411.1,1462.0 1411.5,1463.2 1412.0,1462.6 1412.5,1461.5 1413.0,1463.2 1413.5,1462.6 1414.0,1462.2 1414.5,1462.5 1415.0,1463.7 1415.5,1463.3 1416.0,1462.7 1416.5,1463.8 1417.0,1460.6 1417.5,1463.1 1418.0,1461.2 1418.5,1461.2 1419.0,1461.4 1419.5,1463.4 1420.0,1461.4 1420.5,1461.3 1421.0,1461.9 1421.5,1459.2 1422.0,1460.9 1422.5,1461.8 1423.0,1460.2 1423.5,1461.8 1424.0,1460.5 1424.5,1459.7 1425.0,1461.8 1425.5,1460.7 1426.0,1461.2 1426.5,1460.5 1427.0,1459.2 1427.5,1461.1 1428.0,1460.3 1428.5,1460.0 1429.0,1459.1 1429.5,1458.4 1429.8,1461.0 1430.0,1460.5 1430.5,1459.9 1431.0,1458.9 1431.5,1460.6 1432.0,1458.2 1432.5,1458.2 1433.0,1461.3 1433.5,1460.0 1434.0,1460.3 1434.5,1460.0 1435.0,1461.0 1435.5,1459.1 1436.0,1459.1 1436.5,1457.6 1437.0,1458.5 1437.5,1456.7 1438.0,1457.8 1438.5,1458.1 1439.0,1459.0 1439.5,1459.7 1440.0,1457.7 1440.5,1457.1 1441.0,1458.3 1441.5,1456.8 1442.0,1459.1 1442.3,1458.5 1442.5,1456.2 1443.0,1457.0 1443.5,1457.4 1444.0,1454.6 1444.5,1454.2 1445.0,1453.7 1445.5,1454.2 1446.0,1452.0 1446.5,1449.9 1447.0,1449.2 1447.5,1447.7 1448.0,1446.8 1448.5,1446.2 1449.0,1445.2 1449.5,1445.1 1449.7,1444.3 1450.0,1443.8 1450.5,1443.4 1451.0,1441.7 1451.5,1442.7 1452.0,1444.9 1452.5,1442.2 1453.0,1442.3 1453.5,1442.2 1454.0,1440.2 1454.5,1440.1 1455.0,1441.1 1455.5,1439.3 1456.0,1441.6 1456.5,1441.1 1457.0,1440.3 1457.2,1439.9 1457.5,1440.3 1458.0,1439.5 1458.5,1436.4 1459.0,1440.3 1459.5,1438.6 1460.0,1439.2 1460.5,1439.3 1461.0,1439.6 1461.5,1438.4 1462.0,1438.4 1462.5,1440.7 1463.0,1440.8 1463.5,1441.3 1464.0,1439.4 1464.5,1440.8 1465.0,1442.3 1465.5,1441.0 1466.0,1440.9 1466.5,1443.8 1467.0,1439.2 1467.5,1439.3 1468.0,1437.8 1468.5,1437.3 1469.0,1440.6 1469.5,1434.7 1470.0,1434.7 1470.5,1433.3 1471.0,1431.7 1471.5,1432.4 1472.0,1429.6 1472.5,1430.5 1473.0,1429.9 1473.4,1426.4 1473.5,1428.4 1474.0,1423.8 1474.5,1424.7 1475.0,1424.7 1475.5,1421.1 1476.0,1421.2 1476.5,1420.7 1477.0,1419.3 1477.5,1417.6 1478.0,1418.7 1478.5,1414.6 1479.0,1415.4 1479.5,1415.8 1479.7,1411.6 1480.0,1411.6 1480.5,1410.5 1481.0,1412.8 1481.5,1413.7 1482.0,1408.6 1482.5,1409.5 1483.0,1409.9 1483.4,1414.5 1483.5,1410.7 1484.0,1412.0 1484.5,1409.6 1485.0,1413.1 1485.5,1410.5 1486.0,1412.5 1486.5,1411.5 1487.0,1413.3 1487.5,1413.6 1488.0,1414.5 1488.5,1414.8 1489.0,1417.5 1489.5,1413.8 1490.0,1417.0 1490.5,1415.5 1491.0,1414.9 1491.5,1415.9 1492.0,1416.4 1492.2,1417.8 1492.5,1418.3 1493.0,1418.5 1493.5,1418.3 1494.0,1415.6 1494.5,1419.3 1495.0,1420.0 1495.5,1419.4 1496.0,1420.0 1496.5,1418.8 1497.0,1420.8 1497.5,1421.8 1498.0,1419.1 1498.5,1421.1 1499.0,1422.0 1499.5,1425.5 1500.0,1423.8 1500.5,1422.2 1501.0,1425.1 1501.5,1426.9 1502.0,1425.1 1502.1,1424.7 1502.5,1425.7 1503.0,1427.8 1503.5,1425.2 1504.0,1425.2 1504.5,1426.2 1505.0,1424.5 1505.5,1423.3 1506.0,1426.0 1506.5,1425.4 1507.0,1426.5 1507.5,1426.1 1508.0,1426.6 1508.5,1424.4 1509.0,1426.6 1509.5,1425.1 1510.0,1426.9 1510.5,1425.8 1511.0,1428.6 1511.5,1425.1 1512.0,1423.4 1512.5,1426.9 1513.0,1426.3 1513.5,1425.8 1514.0,1427.5 1514.5,1429.7 1515.0,1427.3 1515.5,1426.7 1516.0,1429.7 1516.5,1429.3 1517.0,1427.7 1517.1,1426.9 1517.5,1428.7 1518.0,1427.0 1518.5,1427.4 1519.0,1427.3 1519.5,1429.4 1520.0,1430.9 1520.5,1429.4 1521.0,1432.2 1521.5,1427.9 1522.0,1431.2 1522.5,1429.7 1523.0,1433.7 1523.5,1434.8 1524.0,1431.2 1524.5,1432.8 1525.0,1434.1 1525.5,1432.5 1526.0,1433.6 1526.5,1434.0 1527.0,1435.8 1527.1,1435.0 1527.5,1435.0 1528.0,1436.0 1528.5,1437.3 1529.0,1438.0 1529.5,1438.1 1530.0,1440.2 1530.5,1438.8 1531.0,1439.8 1531.5,1440.7 1532.0,1439.9 1532.5,1442.4 1533.0,1442.4 1533.5,1443.0 1534.0,1441.7 1534.5,1443.2 1535.0,1444.7 1535.5,1445.8 1536.0,1444.3 1536.5,1444.8 1537.0,1444.2 1537.5,1444.5 1538.0,1447.9 1538.5,1447.0 1539.0,1447.8 1539.5,1448.6 1539.6,1447.5 1540.0,1448.0 1540.5,1447.3 1541.0,1448.5 1541.5,1450.2 1542.0,1451.7 1542.5,1451.6 1543.0,1450.0 1543.5,1450.2 1544.0,1452.1 1544.5,1452.2 1545.0,1452.6 1545.5,1452.6 1546.0,1454.0 1546.5,1453.4 1547.0,1455.1 1547.5,1454.6 1548.0,1454.3 1548.5,1453.4 1549.0,1455.2 1549.5,1456.1 1550.0,1455.6 1550.5,1454.6 1551.0,1453.8 1551.5,1455.5 1552.0,1457.6 1552.1,1454.6 1552.5,1455.3 1553.0,1456.2 1553.5,1457.2 1554.0,1455.4 1554.5,1456.6 1555.0,1456.9 1555.5,1455.6 1556.0,1457.3 1556.5,1456.1 1557.0,1457.6 1557.5,1458.3 1558.0,1458.0 1558.5,1456.7 1559.0,1458.7 1559.5,1458.8 1560.0,1458.5 1560.5,1459.6 1561.0,1458.6 1561.5,1458.4 1562.0,1459.1 1562.5,1459.9 1563.0,1460.5 1563.5,1459.0 1564.0,1459.9 1564.5,1459.6 1565.0,1458.6 1565.5,1457.1 1566.0,1457.5 1566.5,1460.2 1567.0,1458.0 1567.5,1457.7 1568.0,1458.0 1568.5,1459.1 1569.0,1460.7 1569.5,1459.9 1570.0,1459.0 1570.5,1459.0 1571.0,1459.7 1571.5,1459.3 1572.0,1457.7 1572.5,1460.7 1573.0,1460.4 1573.5,1458.1 1574.0,1458.4 1574.5,1458.5 1575.0,1457.9 1575.5,1457.2 1576.0,1457.5 1576.5,1459.1 1577.0,1456.6 1577.5,1457.3 1578.0,1455.9 1578.5,1454.0 1579.0,1455.5 1579.5,1455.0 1580.0,1455.7 1580.5,1456.0 1580.8,1455.3 1581.0,1454.6 1581.5,1454.9 1582.0,1455.4 1582.5,1454.2 1583.0,1454.5 1583.5,1457.0 1584.0,1455.8 1584.5,1457.4 1585.0,1460.2 1585.5,1459.9 1586.0,1460.7 1586.5,1459.8 1587.0,1460.9 1587.5,1458.8 1588.0,1458.5 1588.5,1458.5 1589.0,1457.3 1589.5,1458.4 1590.0,1456.1 1590.5,1454.2 1591.0,1455.1 1591.5,1453.8 1592.0,1453.0 1592.5,1449.3 1593.0,1448.3 1593.5,1445.4 1594.0,1446.8 1594.5,1445.0 1595.0,1443.1 1595.5,1444.0 1596.0,1440.7 1596.5,1440.1 1597.0,1438.8 1597.5,1438.1 1597.6,1439.0 1598.0,1438.8 1598.5,1439.0 1599.0,1438.8 1599.5,1439.3 1600.0,1441.2 1600.5,1443.1 1601.0,1443.8 1601.5,1445.7 1602.0,1447.2 1602.5,1448.0 1603.0,1448.7 1603.5,1451.0 1604.0,1453.6 1604.5,1453.2 1605.0,1453.5 1605.5,1453.8 1606.0,1454.7 1606.5,1457.1 1607.0,1455.7 1607.5,1459.2 1608.0,1458.2 1608.5,1459.2 1609.0,1459.1 1609.5,1461.0 1610.0,1461.8 1610.5,1460.9 1611.0,1464.0 1611.5,1462.9 1612.0,1461.8 1612.5,1463.9 1613.0,1464.0 1613.5,1464.3 1614.0,1465.4 1614.5,1466.0 1615.0,1464.4 1615.5,1465.4 1616.0,1465.6 1616.5,1466.0 1617.0,1464.8 1617.5,1466.9 1618.0,1466.9 1618.5,1468.5 1619.0,1466.1 1619.4,1466.4 1619.5,1467.3 1620.0,1467.2 1620.5,1468.2 1621.0,1468.6 1621.5,1466.9 1622.0,1467.8 1622.5,1468.2 1623.0,1466.9 1623.5,1469.4 1624.0,1467.8 1624.5,1467.8 1625.0,1466.5 1625.5,1467.3 1626.0,1466.1 1626.5,1468.3 1627.0,1466.9 1627.5,1467.7 1628.0,1468.2 1628.5,1468.1 1629.0,1467.6 1629.5,1468.5 1630.0,1466.9 1630.5,1466.3 1631.0,1466.8 1631.5,1468.9 1632.0,1469.5 1632.5,1467.8 1633.0,1467.9 1633.5,1468.8 1634.0,1467.3 1634.5,1467.9 1635.0,1467.0 1635.5,1468.3 1636.0,1465.8 1636.5,1467.1 1636.9,1467.0 1637.0,1468.5 1637.5,1469.0 1638.0,1468.7 1638.5,1470.7 1639.0,1469.2 1639.5,1468.4 1640.0,1468.8 1640.5,1469.5 1641.0,1469.0 1641.5,1470.4 1642.0,1468.8 1642.5,1468.1 1643.0,1468.2 1643.5,1469.8 1644.0,1466.7 1644.5,1469.5 1645.0,1470.2 1645.5,1469.3 1646.0,1470.0 1646.5,1470.8 1647.0,1470.9 1647.5,1470.8 1648.0,1470.5 1648.5,1469.6 1649.0,1468.7 1649.5,1467.9 1650.0,1471.2 1650.5,1470.6 1651.0,1468.7 1651.5,1470.8 1652.0,1469.6 1652.5,1469.6 1653.0,1469.2 1653.5,1472.1 1654.0,1469.3 1654.5,1469.5 1655.0,1471.1 1655.5,1471.3 1656.0,1471.0 1656.5,1469.7 1657.0,1470.4 1657.5,1470.0 1658.0,1470.5 1658.5,1472.6 1659.0,1471.4 1659.5,1471.8 1660.0,1470.2 1660.5,1470.4 1661.0,1471.1 1661.5,1471.7 1661.9,1470.5 1662.0,1471.9 1662.5,1472.7 1663.0,1469.2 1663.5,1470.8 1664.0,1471.3 1664.5,1470.5 1665.0,1472.0 1665.5,1470.7 1666.0,1470.8 1666.5,1469.0 1667.0,1470.8 1667.5,1469.3 1668.0,1469.6 1668.5,1468.7 1669.0,1468.2 1669.5,1468.6 1670.0,1467.8 1670.5,1468.7 1671.0,1469.8 1671.5,1469.5 1672.0,1467.5 1672.5,1468.8 1673.0,1467.7 1673.1,1467.5 1673.5,1468.7 1674.0,1469.0 1674.5,1467.9 1675.0,1469.2 1675.5,1468.3 1676.0,1470.2 1676.5,1467.1 1677.0,1468.3 1677.5,1468.4 1678.0,1468.1 1678.5,1467.8 1679.0,1470.1 1679.5,1469.4 1680.0,1468.1 1680.5,1469.0 1681.0,1469.3 1681.5,1469.9 1682.0,1468.8 1682.5,1470.9 1683.0,1469.7 1683.5,1471.1 1684.0,1470.6 1684.5,1470.1 1685.0,1470.3 1685.5,1470.8 1686.0,1470.7 1686.5,1470.9 1687.0,1471.4 1687.5,1471.9 1688.0,1470.0 1688.5,1469.6 1689.0,1470.4 1689.3,1472.5 1689.5,1471.4 1690.0,1470.9 1690.5,1471.6 1691.0,1471.8 1691.5,1470.2 1692.0,1470.3 1692.5,1471.2 1693.0,1471.2 1693.5,1470.6 1694.0,1473.1 1694.5,1472.0 1695.0,1470.7 1695.5,1471.2 1696.0,1469.6 1696.5,1471.5 1697.0,1470.5 1697.5,1470.0 1698.0,1469.2 1698.5,1471.0 1699.0,1470.4 1699.5,1470.1 1700.0,1471.6 1700.5,1470.7 1701.0,1471.2 1701.5,1470.5 1702.0,1471.1 1702.5,1469.6 1703.0,1470.1 1703.5,1470.5 1704.0,1469.8 1704.5,1470.1 1705.0,1471.3 1705.5,1470.4 1706.0,1471.9 1706.5,1471.5 1707.0,1471.2 1707.5,1469.7 1708.0,1472.0 1708.5,1471.8 1709.0,1470.9 1709.5,1470.9 1710.0,1471.0 1710.5,1470.7"/></defs>
<g clip-path="url(#plot)" fill="none" stroke="#008080" stroke-linejoin="round" stroke-linecap="butt"><use href="#c3" stroke-width="10.6"/><use href="#c3" stroke-width="12.0" shape-rendering="crispEdges"/></g>
<g transform="translate(192.80,1616.5)"><text style="font-size:79px">10</text><rect x="4.74" y="-7.50" width="14.97" height="8.29" fill="#fff"/><rect x="26.90" y="-7.50" width="14.18" height="8.29" fill="#fff"/></g>
<g transform="translate(438.25,1616.5)"><text style="font-size:79px">20</text></g>
<g transform="translate(683.70,1616.5)"><text style="font-size:79px">30</text></g>
<g transform="translate(929.15,1616.5)"><text style="font-size:79px">40</text></g>
<g transform="translate(1174.60,1616.5)"><text style="font-size:79px">50</text></g>
<g transform="translate(1420.05,1616.5)"><text style="font-size:79px">60</text></g>
<g transform="translate(1665.50,1616.5)"><text style="font-size:79px">70</text></g>
<text x="700.8" y="1696" style="font-size:82px">2<tspan class="sym" x="746.7" style="font-size:77px">θ</tspan><tspan x="786"> (deg.)</tspan></text>
<text transform="translate(80.3,1051) rotate(-90)" style="font-size:82.5px">Intensity(a.u.)</text>
<g transform="translate(301.1,212) rotate(-90)"><text class="pk">(003)</text></g>
<g transform="translate(595.9,572) rotate(-90)"><text class="pk">(006)</text></g>
<g transform="translate(871.7,606) rotate(-90)"><text class="pk">(009)</text></g>
<g transform="translate(975.8,670) rotate(-90)"><text class="pk">(015)</text><rect x="66.43" y="-6.65" width="13.27" height="7.35" fill="#fff"/><rect x="86.06" y="-6.65" width="12.56" height="7.35" fill="#fff"/></g>
<g transform="translate(1142.6,695) rotate(-90)"><text class="pk">(018)</text><rect x="66.43" y="-6.65" width="13.27" height="7.35" fill="#fff"/><rect x="86.06" y="-6.65" width="12.56" height="7.35" fill="#fff"/></g>
<g transform="translate(1493.3,675) rotate(-90)"><text class="pk">(110)</text><rect x="27.51" y="-6.65" width="13.27" height="7.35" fill="#fff"/><rect x="47.15" y="-6.65" width="12.56" height="7.35" fill="#fff"/><rect x="66.43" y="-6.65" width="13.27" height="7.35" fill="#fff"/><rect x="86.06" y="-6.65" width="12.56" height="7.35" fill="#fff"/></g>
<g transform="translate(1570.2,695) rotate(-90)"><text class="pk">(113</text><rect x="27.51" y="-6.65" width="13.27" height="7.35" fill="#fff"/><rect x="47.15" y="-6.65" width="12.56" height="7.35" fill="#fff"/><rect x="66.43" y="-6.65" width="13.27" height="7.35" fill="#fff"/><rect x="86.06" y="-6.65" width="12.56" height="7.35" fill="#fff"/></g>
<text class="lb" x="1612.3" y="741.5">(a)</text>
<text class="lb" x="1603.5" y="956.6">(b)</text>
<text class="lb" x="1607.5" y="1143.5">(c)</text>
<text class="lb" x="1603.5" y="1424.5">(d)</text>
</svg></body></html>
